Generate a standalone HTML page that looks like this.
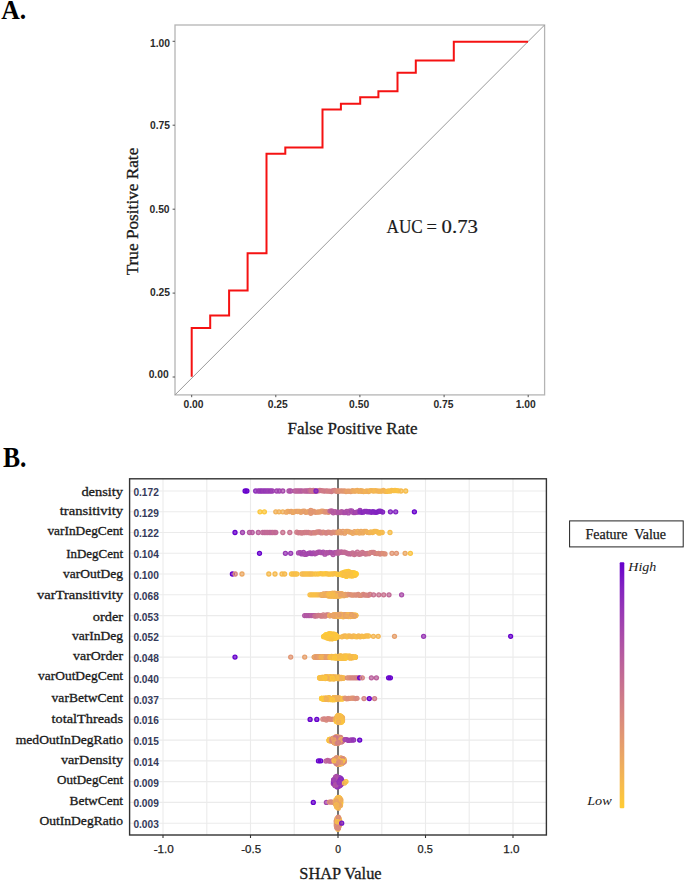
<!DOCTYPE html>
<html><head><meta charset="utf-8"><style>
html,body{margin:0;padding:0;background:#fff;}
body{width:685px;height:880px;overflow:hidden;}
svg{display:block;}
text{font-family:"Liberation Serif",serif;fill:#1a1a1a;}
.tk{font-family:"Liberation Sans",sans-serif;font-weight:bold;font-size:10.3px;fill:#2a2a2a;}
.tk2{font-family:"Liberation Sans",sans-serif;font-size:10.3px;fill:#1e1e1e;stroke:#1e1e1e;stroke-width:0.25px;}
.auc{font-size:18.5px;stroke:#1a1a1a;stroke-width:0.2px;}
.axt{font-size:16px;stroke:#1a1a1a;stroke-width:0.3px;}
.pl{font-size:28px;font-weight:bold;fill:#000;}
.fl{font-size:12.5px;stroke:#1a1a1a;stroke-width:0.3px;}
.vl{font-family:"Liberation Sans",sans-serif;font-weight:bold;font-size:10.2px;fill:#353a5a;}
.lgt{font-size:14px;stroke:#1a1a1a;stroke-width:0.25px;}
.lgi{font-size:13px;font-style:italic;}
</style></head><body>
<svg width="685" height="880" viewBox="0 0 685 880">
<rect x="175" y="25" width="369.6" height="369.9" fill="none" stroke="#b4b4b4" stroke-width="1.3"/>
<line x1="175" y1="394.9" x2="544.6" y2="25" stroke="#999" stroke-width="1"/>
<polyline points="191.7,376.8 191.7,328.1 210.2,328.1 210.2,315.5 229.1,315.5 229.1,290.6 247.6,290.6 247.6,253.3 266.5,253.3 266.5,153.7 285.3,153.7 285.3,147.6 322.5,147.6 322.5,109.5 340.9,109.5 340.9,103.8 360.2,103.8 360.2,97.2 378.4,97.2 378.4,91.3 397.5,91.3 397.5,72.7 415.8,72.7 415.8,60.4 453.8,60.4 453.8,41.7 528.0,41.7" fill="none" stroke="#f51212" stroke-width="2" stroke-linejoin="miter"/>
<line x1="172.6" y1="377.0" x2="175" y2="377.0" stroke="#555" stroke-width="1"/>
<line x1="191.7" y1="394.9" x2="191.7" y2="397.2" stroke="#555" stroke-width="1"/>
<text x="168.7" y="377.5" class="tk" text-anchor="end">0.00</text>
<text x="193.5" y="408.0" class="tk" text-anchor="middle">0.00</text>
<line x1="172.6" y1="293.1" x2="175" y2="293.1" stroke="#555" stroke-width="1"/>
<line x1="275.8" y1="394.9" x2="275.8" y2="397.2" stroke="#555" stroke-width="1"/>
<text x="170.0" y="296.4" class="tk" text-anchor="end">0.25</text>
<text x="277.8" y="408.0" class="tk" text-anchor="middle">0.25</text>
<line x1="172.6" y1="209.2" x2="175" y2="209.2" stroke="#555" stroke-width="1"/>
<line x1="359.9" y1="394.9" x2="359.9" y2="397.2" stroke="#555" stroke-width="1"/>
<text x="169.6" y="212.8" class="tk" text-anchor="end">0.50</text>
<text x="359.1" y="408.0" class="tk" text-anchor="middle">0.50</text>
<line x1="172.6" y1="125.2" x2="175" y2="125.2" stroke="#555" stroke-width="1"/>
<line x1="444.1" y1="394.9" x2="444.1" y2="397.2" stroke="#555" stroke-width="1"/>
<text x="170.0" y="128.9" class="tk" text-anchor="end">0.75</text>
<text x="443.4" y="408.0" class="tk" text-anchor="middle">0.75</text>
<line x1="172.6" y1="41.3" x2="175" y2="41.3" stroke="#555" stroke-width="1"/>
<line x1="528.2" y1="394.9" x2="528.2" y2="397.2" stroke="#555" stroke-width="1"/>
<text x="170.0" y="46.6" class="tk" text-anchor="end">1.00</text>
<text x="525.8" y="408.0" class="tk" text-anchor="middle">1.00</text>
<text x="386.5" y="233.4" class="auc" textLength="36.2" lengthAdjust="spacingAndGlyphs">AUC</text>
<text x="426.6" y="233.4" class="auc">=</text>
<text x="441.6" y="233.4" class="auc" textLength="36.4" lengthAdjust="spacingAndGlyphs">0.73</text>
<text x="287.6" y="434" class="axt" textLength="129.8" lengthAdjust="spacingAndGlyphs">False Positive Rate</text>
<text transform="translate(137.7,275.3) rotate(-90)" class="axt" textLength="127.6" lengthAdjust="spacingAndGlyphs">True Positive Rate</text>
<text x="1.3" y="19.3" class="pl" textLength="25" lengthAdjust="spacingAndGlyphs">A.</text>
<text x="2.9" y="466.8" class="pl" style="font-size:29.5px" textLength="23.5" lengthAdjust="spacingAndGlyphs">B.</text>
<line x1="163.0" y1="478.8" x2="163.0" y2="835.0" stroke="#ebebeb" stroke-width="1.1"/>
<line x1="206.8" y1="478.8" x2="206.8" y2="835.0" stroke="#ebebeb" stroke-width="1.1"/>
<line x1="250.5" y1="478.8" x2="250.5" y2="835.0" stroke="#ebebeb" stroke-width="1.1"/>
<line x1="294.2" y1="478.8" x2="294.2" y2="835.0" stroke="#ebebeb" stroke-width="1.1"/>
<line x1="338.0" y1="478.8" x2="338.0" y2="835.0" stroke="#ebebeb" stroke-width="1.1"/>
<line x1="381.8" y1="478.8" x2="381.8" y2="835.0" stroke="#ebebeb" stroke-width="1.1"/>
<line x1="425.5" y1="478.8" x2="425.5" y2="835.0" stroke="#ebebeb" stroke-width="1.1"/>
<line x1="469.2" y1="478.8" x2="469.2" y2="835.0" stroke="#ebebeb" stroke-width="1.1"/>
<line x1="513.0" y1="478.8" x2="513.0" y2="835.0" stroke="#ebebeb" stroke-width="1.1"/>
<line x1="129.6" y1="491.0" x2="546.4" y2="491.0" stroke="#ebebeb" stroke-width="1.1"/>
<line x1="129.6" y1="511.8" x2="546.4" y2="511.8" stroke="#ebebeb" stroke-width="1.1"/>
<line x1="129.6" y1="532.5" x2="546.4" y2="532.5" stroke="#ebebeb" stroke-width="1.1"/>
<line x1="129.6" y1="553.3" x2="546.4" y2="553.3" stroke="#ebebeb" stroke-width="1.1"/>
<line x1="129.6" y1="574.0" x2="546.4" y2="574.0" stroke="#ebebeb" stroke-width="1.1"/>
<line x1="129.6" y1="594.8" x2="546.4" y2="594.8" stroke="#ebebeb" stroke-width="1.1"/>
<line x1="129.6" y1="615.6" x2="546.4" y2="615.6" stroke="#ebebeb" stroke-width="1.1"/>
<line x1="129.6" y1="636.3" x2="546.4" y2="636.3" stroke="#ebebeb" stroke-width="1.1"/>
<line x1="129.6" y1="657.1" x2="546.4" y2="657.1" stroke="#ebebeb" stroke-width="1.1"/>
<line x1="129.6" y1="677.8" x2="546.4" y2="677.8" stroke="#ebebeb" stroke-width="1.1"/>
<line x1="129.6" y1="698.6" x2="546.4" y2="698.6" stroke="#ebebeb" stroke-width="1.1"/>
<line x1="129.6" y1="719.4" x2="546.4" y2="719.4" stroke="#ebebeb" stroke-width="1.1"/>
<line x1="129.6" y1="740.1" x2="546.4" y2="740.1" stroke="#ebebeb" stroke-width="1.1"/>
<line x1="129.6" y1="760.9" x2="546.4" y2="760.9" stroke="#ebebeb" stroke-width="1.1"/>
<line x1="129.6" y1="781.6" x2="546.4" y2="781.6" stroke="#ebebeb" stroke-width="1.1"/>
<line x1="129.6" y1="802.4" x2="546.4" y2="802.4" stroke="#ebebeb" stroke-width="1.1"/>
<line x1="129.6" y1="823.2" x2="546.4" y2="823.2" stroke="#ebebeb" stroke-width="1.1"/>
<line x1="338" y1="478.8" x2="338" y2="835.0" stroke="#3a3a3a" stroke-width="1.4"/>
<ellipse cx="348.5" cy="574.0" rx="9.3" ry="3.7" fill="#fcc73d"/>
<ellipse cx="334.0" cy="594.8" rx="14.8" ry="2.6" fill="#eeab5f"/>
<ellipse cx="343.5" cy="615.6" rx="15.3" ry="2.3" fill="#efad5d"/>
<ellipse cx="330.6" cy="636.3" rx="9.2" ry="3.9" fill="#fcc73d"/>
<ellipse cx="323.8" cy="657.1" rx="11.1" ry="1.4" fill="#e9a466"/>
<ellipse cx="342.5" cy="657.1" rx="15.3" ry="2.4" fill="#f7bd4a"/>
<ellipse cx="331.9" cy="677.8" rx="14.9" ry="2.1" fill="#f6ba4e"/>
<ellipse cx="331.9" cy="698.6" rx="13.0" ry="2.1" fill="#f6ba4e"/>
<ellipse cx="339.1" cy="719.4" rx="5.3" ry="5.4" fill="#f4b653"/>
<ellipse cx="337.4" cy="740.1" rx="7.1" ry="4.9" fill="#de9276"/>
<ellipse cx="339.1" cy="760.9" rx="7.1" ry="4.9" fill="#e69f6b"/>
<ellipse cx="337.5" cy="781.6" rx="6.3" ry="6.7" fill="#9b3db2"/>
<ellipse cx="338.3" cy="802.4" rx="4.5" ry="6.9" fill="#f4b653"/>
<ellipse cx="338.0" cy="823.2" rx="3.4" ry="7.4" fill="#e69f6b"/>
<circle cx="245.1" cy="491.0" r="2.0" fill="#6600cc" fill-opacity="0.7" stroke="#6600cc" stroke-width="1.3"/>
<circle cx="246.9" cy="491.0" r="2.0" fill="#6600cc" fill-opacity="0.7" stroke="#6600cc" stroke-width="1.3"/>
<circle cx="255.7" cy="491.0" r="2.0" fill="#8d2fbb" fill-opacity="0.7" stroke="#8d2fbb" stroke-width="1.3"/>
<circle cx="258.3" cy="491.0" r="2.0" fill="#9638b6" fill-opacity="0.7" stroke="#9638b6" stroke-width="1.3"/>
<circle cx="260.1" cy="491.0" r="2.0" fill="#983ab4" fill-opacity="0.7" stroke="#983ab4" stroke-width="1.3"/>
<circle cx="261.8" cy="491.0" r="2.0" fill="#9334b7" fill-opacity="0.7" stroke="#9334b7" stroke-width="1.3"/>
<circle cx="263.6" cy="491.0" r="2.0" fill="#9a3cb3" fill-opacity="0.7" stroke="#9a3cb3" stroke-width="1.3"/>
<circle cx="265.3" cy="491.0" r="2.0" fill="#9537b6" fill-opacity="0.7" stroke="#9537b6" stroke-width="1.3"/>
<circle cx="267.1" cy="491.0" r="2.0" fill="#983ab5" fill-opacity="0.7" stroke="#983ab5" stroke-width="1.3"/>
<circle cx="268.8" cy="491.0" r="2.0" fill="#9c3eb2" fill-opacity="0.7" stroke="#9c3eb2" stroke-width="1.3"/>
<circle cx="270.6" cy="491.0" r="2.0" fill="#9739b5" fill-opacity="0.7" stroke="#9739b5" stroke-width="1.3"/>
<circle cx="272.3" cy="491.0" r="2.0" fill="#9d3fb1" fill-opacity="0.7" stroke="#9d3fb1" stroke-width="1.3"/>
<circle cx="276.7" cy="491.0" r="2.0" fill="#a143af" fill-opacity="0.7" stroke="#a143af" stroke-width="1.3"/>
<circle cx="279.3" cy="491.0" r="2.0" fill="#a143af" fill-opacity="0.7" stroke="#a143af" stroke-width="1.3"/>
<circle cx="282.8" cy="491.0" r="2.0" fill="#a649ab" fill-opacity="0.7" stroke="#a649ab" stroke-width="1.3"/>
<circle cx="289.0" cy="491.0" r="2.0" fill="#ad51a6" fill-opacity="0.7" stroke="#ad51a6" stroke-width="1.3"/>
<circle cx="290.7" cy="491.0" r="2.0" fill="#ad51a6" fill-opacity="0.7" stroke="#ad51a6" stroke-width="1.3"/>
<circle cx="295.0" cy="491.0" r="2.0" fill="#b75d9e" fill-opacity="0.7" stroke="#b75d9e" stroke-width="1.3"/>
<circle cx="296.8" cy="491.0" r="2.0" fill="#bb629b" fill-opacity="0.7" stroke="#bb629b" stroke-width="1.3"/>
<circle cx="298.5" cy="491.0" r="2.0" fill="#bc629a" fill-opacity="0.7" stroke="#bc629a" stroke-width="1.3"/>
<circle cx="300.2" cy="491.0" r="2.0" fill="#ba609c" fill-opacity="0.7" stroke="#ba609c" stroke-width="1.3"/>
<circle cx="302.0" cy="491.0" r="2.0" fill="#b75c9f" fill-opacity="0.7" stroke="#b75c9f" stroke-width="1.3"/>
<circle cx="304.7" cy="491.0" r="2.0" fill="#bd6499" fill-opacity="0.7" stroke="#bd6499" stroke-width="1.3"/>
<circle cx="306.3" cy="491.0" r="2.0" fill="#bd639a" fill-opacity="0.7" stroke="#bd639a" stroke-width="1.3"/>
<circle cx="307.9" cy="491.0" r="2.0" fill="#ba5f9c" fill-opacity="0.7" stroke="#ba5f9c" stroke-width="1.3"/>
<circle cx="309.5" cy="491.0" r="2.0" fill="#b75d9e" fill-opacity="0.7" stroke="#b75d9e" stroke-width="1.3"/>
<circle cx="311.1" cy="491.0" r="2.0" fill="#bb619b" fill-opacity="0.7" stroke="#bb619b" stroke-width="1.3"/>
<circle cx="312.7" cy="491.0" r="2.0" fill="#bd6499" fill-opacity="0.7" stroke="#bd6499" stroke-width="1.3"/>
<circle cx="314.3" cy="491.0" r="2.0" fill="#b85e9d" fill-opacity="0.7" stroke="#b85e9d" stroke-width="1.3"/>
<circle cx="310.0" cy="490.5" r="2.0" fill="#c56e92" fill-opacity="0.7" stroke="#c56e92" stroke-width="1.3"/>
<circle cx="311.6" cy="490.7" r="2.0" fill="#cc778c" fill-opacity="0.7" stroke="#cc778c" stroke-width="1.3"/>
<circle cx="313.3" cy="490.5" r="2.0" fill="#cb768c" fill-opacity="0.7" stroke="#cb768c" stroke-width="1.3"/>
<circle cx="314.9" cy="491.4" r="2.0" fill="#cd788a" fill-opacity="0.7" stroke="#cd788a" stroke-width="1.3"/>
<circle cx="316.6" cy="491.1" r="2.0" fill="#ca758d" fill-opacity="0.7" stroke="#ca758d" stroke-width="1.3"/>
<circle cx="318.2" cy="490.8" r="2.0" fill="#cb778c" fill-opacity="0.7" stroke="#cb778c" stroke-width="1.3"/>
<circle cx="319.9" cy="490.5" r="2.0" fill="#d07d87" fill-opacity="0.7" stroke="#d07d87" stroke-width="1.3"/>
<circle cx="321.5" cy="490.6" r="2.0" fill="#cc778b" fill-opacity="0.7" stroke="#cc778b" stroke-width="1.3"/>
<circle cx="323.2" cy="490.9" r="2.0" fill="#d07c88" fill-opacity="0.7" stroke="#d07c88" stroke-width="1.3"/>
<circle cx="324.8" cy="491.1" r="2.0" fill="#cf7c88" fill-opacity="0.7" stroke="#cf7c88" stroke-width="1.3"/>
<circle cx="326.5" cy="490.8" r="2.0" fill="#cd798a" fill-opacity="0.7" stroke="#cd798a" stroke-width="1.3"/>
<circle cx="328.1" cy="491.2" r="2.0" fill="#d28084" fill-opacity="0.7" stroke="#d28084" stroke-width="1.3"/>
<circle cx="329.8" cy="491.1" r="2.0" fill="#d17e86" fill-opacity="0.7" stroke="#d17e86" stroke-width="1.3"/>
<circle cx="331.4" cy="491.5" r="2.0" fill="#d07d87" fill-opacity="0.7" stroke="#d07d87" stroke-width="1.3"/>
<circle cx="333.1" cy="490.7" r="2.0" fill="#cf7b88" fill-opacity="0.7" stroke="#cf7b88" stroke-width="1.3"/>
<circle cx="334.7" cy="490.5" r="2.0" fill="#d48383" fill-opacity="0.7" stroke="#d48383" stroke-width="1.3"/>
<circle cx="336.4" cy="491.3" r="2.0" fill="#d78780" fill-opacity="0.7" stroke="#d78780" stroke-width="1.3"/>
<circle cx="338.0" cy="491.0" r="2.0" fill="#d8897e" fill-opacity="0.7" stroke="#d8897e" stroke-width="1.3"/>
<circle cx="316.0" cy="491.0" r="2.0" fill="#8223c0" fill-opacity="0.7" stroke="#8223c0" stroke-width="1.3"/>
<circle cx="338.0" cy="491.2" r="2.0" fill="#dc8f78" fill-opacity="0.7" stroke="#dc8f78" stroke-width="1.3"/>
<circle cx="339.6" cy="491.1" r="2.0" fill="#dd9078" fill-opacity="0.7" stroke="#dd9078" stroke-width="1.3"/>
<circle cx="341.2" cy="490.8" r="2.0" fill="#df9475" fill-opacity="0.7" stroke="#df9475" stroke-width="1.3"/>
<circle cx="342.8" cy="491.1" r="2.0" fill="#e19772" fill-opacity="0.7" stroke="#e19772" stroke-width="1.3"/>
<circle cx="344.4" cy="490.9" r="2.0" fill="#e19673" fill-opacity="0.7" stroke="#e19673" stroke-width="1.3"/>
<circle cx="346.0" cy="491.5" r="2.0" fill="#e49c6d" fill-opacity="0.7" stroke="#e49c6d" stroke-width="1.3"/>
<circle cx="347.6" cy="491.2" r="2.0" fill="#e8a267" fill-opacity="0.7" stroke="#e8a267" stroke-width="1.3"/>
<circle cx="349.2" cy="491.2" r="2.0" fill="#e69e6c" fill-opacity="0.7" stroke="#e69e6c" stroke-width="1.3"/>
<circle cx="350.8" cy="491.6" r="2.0" fill="#e69e6c" fill-opacity="0.7" stroke="#e69e6c" stroke-width="1.3"/>
<circle cx="352.4" cy="490.7" r="2.0" fill="#eaa565" fill-opacity="0.7" stroke="#eaa565" stroke-width="1.3"/>
<circle cx="354.0" cy="491.2" r="2.0" fill="#edab60" fill-opacity="0.7" stroke="#edab60" stroke-width="1.3"/>
<circle cx="355.6" cy="491.0" r="2.0" fill="#edab5f" fill-opacity="0.7" stroke="#edab5f" stroke-width="1.3"/>
<circle cx="357.2" cy="490.5" r="2.0" fill="#efae5c" fill-opacity="0.7" stroke="#efae5c" stroke-width="1.3"/>
<circle cx="358.8" cy="491.3" r="2.0" fill="#f0af5b" fill-opacity="0.7" stroke="#f0af5b" stroke-width="1.3"/>
<circle cx="360.4" cy="490.7" r="2.0" fill="#efae5c" fill-opacity="0.7" stroke="#efae5c" stroke-width="1.3"/>
<circle cx="362.0" cy="491.4" r="2.0" fill="#f2b456" fill-opacity="0.7" stroke="#f2b456" stroke-width="1.3"/>
<circle cx="362.0" cy="490.9" r="2.0" fill="#efae5b" fill-opacity="0.7" stroke="#efae5b" stroke-width="1.3"/>
<circle cx="363.6" cy="491.5" r="2.0" fill="#eeac5e" fill-opacity="0.7" stroke="#eeac5e" stroke-width="1.3"/>
<circle cx="365.3" cy="491.4" r="2.0" fill="#f2b357" fill-opacity="0.7" stroke="#f2b357" stroke-width="1.3"/>
<circle cx="366.9" cy="490.9" r="2.0" fill="#f2b357" fill-opacity="0.7" stroke="#f2b357" stroke-width="1.3"/>
<circle cx="368.6" cy="491.5" r="2.0" fill="#eead5d" fill-opacity="0.7" stroke="#eead5d" stroke-width="1.3"/>
<circle cx="370.2" cy="490.6" r="2.0" fill="#f3b653" fill-opacity="0.7" stroke="#f3b653" stroke-width="1.3"/>
<circle cx="371.9" cy="490.7" r="2.0" fill="#f3b653" fill-opacity="0.7" stroke="#f3b653" stroke-width="1.3"/>
<circle cx="373.6" cy="491.0" r="2.0" fill="#f2b357" fill-opacity="0.7" stroke="#f2b357" stroke-width="1.3"/>
<circle cx="375.2" cy="490.7" r="2.0" fill="#f5ba4f" fill-opacity="0.7" stroke="#f5ba4f" stroke-width="1.3"/>
<circle cx="376.9" cy="490.9" r="2.0" fill="#f4b653" fill-opacity="0.7" stroke="#f4b653" stroke-width="1.3"/>
<circle cx="378.5" cy="491.1" r="2.0" fill="#f1b159" fill-opacity="0.7" stroke="#f1b159" stroke-width="1.3"/>
<circle cx="380.1" cy="491.2" r="2.0" fill="#f3b653" fill-opacity="0.7" stroke="#f3b653" stroke-width="1.3"/>
<circle cx="381.8" cy="491.1" r="2.0" fill="#f3b554" fill-opacity="0.7" stroke="#f3b554" stroke-width="1.3"/>
<circle cx="383.4" cy="490.5" r="2.0" fill="#f2b356" fill-opacity="0.7" stroke="#f2b356" stroke-width="1.3"/>
<circle cx="385.1" cy="491.3" r="2.0" fill="#f2b455" fill-opacity="0.7" stroke="#f2b455" stroke-width="1.3"/>
<circle cx="386.8" cy="491.4" r="2.0" fill="#f6ba4e" fill-opacity="0.7" stroke="#f6ba4e" stroke-width="1.3"/>
<circle cx="388.4" cy="490.9" r="2.0" fill="#f8be49" fill-opacity="0.7" stroke="#f8be49" stroke-width="1.3"/>
<circle cx="390.1" cy="491.2" r="2.0" fill="#f8bf48" fill-opacity="0.7" stroke="#f8bf48" stroke-width="1.3"/>
<circle cx="391.7" cy="490.5" r="2.0" fill="#f8be49" fill-opacity="0.7" stroke="#f8be49" stroke-width="1.3"/>
<circle cx="393.4" cy="490.6" r="2.0" fill="#f7bd4a" fill-opacity="0.7" stroke="#f7bd4a" stroke-width="1.3"/>
<circle cx="395.0" cy="490.5" r="2.0" fill="#fac244" fill-opacity="0.7" stroke="#fac244" stroke-width="1.3"/>
<circle cx="396.7" cy="490.6" r="2.0" fill="#f9c145" fill-opacity="0.7" stroke="#f9c145" stroke-width="1.3"/>
<circle cx="398.3" cy="490.8" r="2.0" fill="#fac343" fill-opacity="0.7" stroke="#fac343" stroke-width="1.3"/>
<circle cx="401.0" cy="491.0" r="2.0" fill="#f6ba4e" fill-opacity="0.7" stroke="#f6ba4e" stroke-width="1.3"/>
<circle cx="405.7" cy="491.0" r="2.0" fill="#f7bd4a" fill-opacity="0.7" stroke="#f7bd4a" stroke-width="1.3"/>
<circle cx="260.0" cy="511.8" r="2.0" fill="#fcc73d" fill-opacity="0.7" stroke="#fcc73d" stroke-width="1.3"/>
<circle cx="264.4" cy="511.8" r="2.0" fill="#fcc73d" fill-opacity="0.7" stroke="#fcc73d" stroke-width="1.3"/>
<circle cx="275.8" cy="511.8" r="2.0" fill="#f1b159" fill-opacity="0.7" stroke="#f1b159" stroke-width="1.3"/>
<circle cx="279.0" cy="511.8" r="2.0" fill="#f1b159" fill-opacity="0.7" stroke="#f1b159" stroke-width="1.3"/>
<circle cx="282.8" cy="511.8" r="2.0" fill="#f1b159" fill-opacity="0.7" stroke="#f1b159" stroke-width="1.3"/>
<circle cx="286.3" cy="512.2" r="2.0" fill="#eba764" fill-opacity="0.7" stroke="#eba764" stroke-width="1.3"/>
<circle cx="287.9" cy="511.3" r="2.0" fill="#edaa60" fill-opacity="0.7" stroke="#edaa60" stroke-width="1.3"/>
<circle cx="289.5" cy="511.6" r="2.0" fill="#eca862" fill-opacity="0.7" stroke="#eca862" stroke-width="1.3"/>
<circle cx="291.2" cy="511.3" r="2.0" fill="#e8a268" fill-opacity="0.7" stroke="#e8a268" stroke-width="1.3"/>
<circle cx="292.8" cy="512.4" r="2.0" fill="#eaa565" fill-opacity="0.7" stroke="#eaa565" stroke-width="1.3"/>
<circle cx="294.4" cy="511.7" r="2.0" fill="#eca961" fill-opacity="0.7" stroke="#eca961" stroke-width="1.3"/>
<circle cx="296.0" cy="511.3" r="2.0" fill="#eaa565" fill-opacity="0.7" stroke="#eaa565" stroke-width="1.3"/>
<circle cx="297.6" cy="511.5" r="2.0" fill="#e7a06a" fill-opacity="0.7" stroke="#e7a06a" stroke-width="1.3"/>
<circle cx="299.2" cy="511.4" r="2.0" fill="#eba862" fill-opacity="0.7" stroke="#eba862" stroke-width="1.3"/>
<circle cx="300.9" cy="512.3" r="2.0" fill="#e8a168" fill-opacity="0.7" stroke="#e8a168" stroke-width="1.3"/>
<circle cx="302.5" cy="511.3" r="2.0" fill="#e7a169" fill-opacity="0.7" stroke="#e7a169" stroke-width="1.3"/>
<circle cx="304.1" cy="511.2" r="2.0" fill="#e7a06a" fill-opacity="0.7" stroke="#e7a06a" stroke-width="1.3"/>
<circle cx="305.7" cy="512.3" r="2.0" fill="#e49c6e" fill-opacity="0.7" stroke="#e49c6e" stroke-width="1.3"/>
<circle cx="307.3" cy="512.0" r="2.0" fill="#e8a268" fill-opacity="0.7" stroke="#e8a268" stroke-width="1.3"/>
<circle cx="309.0" cy="511.6" r="2.0" fill="#e8a268" fill-opacity="0.7" stroke="#e8a268" stroke-width="1.3"/>
<circle cx="310.6" cy="512.1" r="2.0" fill="#e59d6c" fill-opacity="0.7" stroke="#e59d6c" stroke-width="1.3"/>
<circle cx="312.2" cy="512.1" r="2.0" fill="#e69f6b" fill-opacity="0.7" stroke="#e69f6b" stroke-width="1.3"/>
<circle cx="313.8" cy="511.4" r="2.0" fill="#e39970" fill-opacity="0.7" stroke="#e39970" stroke-width="1.3"/>
<circle cx="315.4" cy="512.3" r="2.0" fill="#e29871" fill-opacity="0.7" stroke="#e29871" stroke-width="1.3"/>
<circle cx="317.1" cy="512.1" r="2.0" fill="#e29871" fill-opacity="0.7" stroke="#e29871" stroke-width="1.3"/>
<circle cx="318.7" cy="512.0" r="2.0" fill="#e59d6c" fill-opacity="0.7" stroke="#e59d6c" stroke-width="1.3"/>
<circle cx="320.3" cy="511.8" r="2.0" fill="#e49b6e" fill-opacity="0.7" stroke="#e49b6e" stroke-width="1.3"/>
<circle cx="321.9" cy="511.2" r="2.0" fill="#e69e6b" fill-opacity="0.7" stroke="#e69e6b" stroke-width="1.3"/>
<circle cx="323.5" cy="511.5" r="2.0" fill="#e49b6e" fill-opacity="0.7" stroke="#e49b6e" stroke-width="1.3"/>
<circle cx="325.1" cy="512.0" r="2.0" fill="#df9375" fill-opacity="0.7" stroke="#df9375" stroke-width="1.3"/>
<circle cx="326.8" cy="511.7" r="2.0" fill="#de9276" fill-opacity="0.7" stroke="#de9276" stroke-width="1.3"/>
<circle cx="328.4" cy="512.3" r="2.0" fill="#de9277" fill-opacity="0.7" stroke="#de9277" stroke-width="1.3"/>
<circle cx="330.0" cy="511.6" r="2.0" fill="#e29970" fill-opacity="0.7" stroke="#e29970" stroke-width="1.3"/>
<circle cx="310.8" cy="510.3" r="2.0" fill="#e19673" fill-opacity="0.7" stroke="#e19673" stroke-width="1.3"/>
<circle cx="310.8" cy="513.3" r="2.0" fill="#e19673" fill-opacity="0.7" stroke="#e19673" stroke-width="1.3"/>
<circle cx="330.0" cy="511.1" r="2.0" fill="#bc639a" fill-opacity="0.7" stroke="#bc639a" stroke-width="1.3"/>
<circle cx="331.7" cy="511.0" r="2.0" fill="#b75d9e" fill-opacity="0.7" stroke="#b75d9e" stroke-width="1.3"/>
<circle cx="333.3" cy="512.8" r="2.0" fill="#b459a1" fill-opacity="0.7" stroke="#b459a1" stroke-width="1.3"/>
<circle cx="335.0" cy="511.7" r="2.0" fill="#b459a1" fill-opacity="0.7" stroke="#b459a1" stroke-width="1.3"/>
<circle cx="336.7" cy="512.5" r="2.0" fill="#b85e9d" fill-opacity="0.7" stroke="#b85e9d" stroke-width="1.3"/>
<circle cx="338.3" cy="512.2" r="2.0" fill="#af53a4" fill-opacity="0.7" stroke="#af53a4" stroke-width="1.3"/>
<circle cx="340.0" cy="512.5" r="2.0" fill="#b054a4" fill-opacity="0.7" stroke="#b054a4" stroke-width="1.3"/>
<circle cx="341.7" cy="511.7" r="2.0" fill="#b458a1" fill-opacity="0.7" stroke="#b458a1" stroke-width="1.3"/>
<circle cx="343.3" cy="512.5" r="2.0" fill="#b155a3" fill-opacity="0.7" stroke="#b155a3" stroke-width="1.3"/>
<circle cx="345.0" cy="512.5" r="2.0" fill="#a94ca9" fill-opacity="0.7" stroke="#a94ca9" stroke-width="1.3"/>
<circle cx="346.7" cy="511.5" r="2.0" fill="#ae51a6" fill-opacity="0.7" stroke="#ae51a6" stroke-width="1.3"/>
<circle cx="348.3" cy="512.9" r="2.0" fill="#a94ca9" fill-opacity="0.7" stroke="#a94ca9" stroke-width="1.3"/>
<circle cx="350.0" cy="510.9" r="2.0" fill="#ae51a6" fill-opacity="0.7" stroke="#ae51a6" stroke-width="1.3"/>
<circle cx="351.7" cy="510.9" r="2.0" fill="#a447ad" fill-opacity="0.7" stroke="#a447ad" stroke-width="1.3"/>
<circle cx="353.3" cy="512.5" r="2.0" fill="#ab4ea8" fill-opacity="0.7" stroke="#ab4ea8" stroke-width="1.3"/>
<circle cx="355.0" cy="512.6" r="2.0" fill="#a043af" fill-opacity="0.7" stroke="#a043af" stroke-width="1.3"/>
<circle cx="356.7" cy="512.2" r="2.0" fill="#a648ac" fill-opacity="0.7" stroke="#a648ac" stroke-width="1.3"/>
<circle cx="358.3" cy="511.9" r="2.0" fill="#a649ab" fill-opacity="0.7" stroke="#a649ab" stroke-width="1.3"/>
<circle cx="360.0" cy="510.5" r="2.0" fill="#9c3eb2" fill-opacity="0.7" stroke="#9c3eb2" stroke-width="1.3"/>
<circle cx="360.0" cy="511.9" r="2.0" fill="#8d2fbb" fill-opacity="0.7" stroke="#8d2fbb" stroke-width="1.3"/>
<circle cx="361.6" cy="512.3" r="2.0" fill="#8d2fbb" fill-opacity="0.7" stroke="#8d2fbb" stroke-width="1.3"/>
<circle cx="363.2" cy="512.2" r="2.0" fill="#8728be" fill-opacity="0.7" stroke="#8728be" stroke-width="1.3"/>
<circle cx="364.8" cy="511.4" r="2.0" fill="#8d2fbb" fill-opacity="0.7" stroke="#8d2fbb" stroke-width="1.3"/>
<circle cx="366.5" cy="511.5" r="2.0" fill="#8c2ebb" fill-opacity="0.7" stroke="#8c2ebb" stroke-width="1.3"/>
<circle cx="368.1" cy="511.9" r="2.0" fill="#8b2dbc" fill-opacity="0.7" stroke="#8b2dbc" stroke-width="1.3"/>
<circle cx="369.7" cy="511.7" r="2.0" fill="#8c2dbb" fill-opacity="0.7" stroke="#8c2dbb" stroke-width="1.3"/>
<circle cx="371.3" cy="512.3" r="2.0" fill="#8729be" fill-opacity="0.7" stroke="#8729be" stroke-width="1.3"/>
<circle cx="372.9" cy="511.7" r="2.0" fill="#8325c0" fill-opacity="0.7" stroke="#8325c0" stroke-width="1.3"/>
<circle cx="374.5" cy="512.2" r="2.0" fill="#8426bf" fill-opacity="0.7" stroke="#8426bf" stroke-width="1.3"/>
<circle cx="376.1" cy="512.3" r="2.0" fill="#8223c0" fill-opacity="0.7" stroke="#8223c0" stroke-width="1.3"/>
<circle cx="377.8" cy="511.8" r="2.0" fill="#8022c1" fill-opacity="0.7" stroke="#8022c1" stroke-width="1.3"/>
<circle cx="379.4" cy="511.2" r="2.0" fill="#8022c1" fill-opacity="0.7" stroke="#8022c1" stroke-width="1.3"/>
<circle cx="381.0" cy="511.4" r="2.0" fill="#8527bf" fill-opacity="0.7" stroke="#8527bf" stroke-width="1.3"/>
<circle cx="382.6" cy="512.1" r="2.0" fill="#8223c0" fill-opacity="0.7" stroke="#8223c0" stroke-width="1.3"/>
<circle cx="390.4" cy="511.8" r="2.0" fill="#8223c0" fill-opacity="0.7" stroke="#8223c0" stroke-width="1.3"/>
<circle cx="395.7" cy="511.8" r="2.0" fill="#8223c0" fill-opacity="0.7" stroke="#8223c0" stroke-width="1.3"/>
<circle cx="414.4" cy="511.8" r="2.0" fill="#6600cc" fill-opacity="0.7" stroke="#6600cc" stroke-width="1.3"/>
<circle cx="235.0" cy="532.5" r="2.0" fill="#6600cc" fill-opacity="0.7" stroke="#6600cc" stroke-width="1.3"/>
<circle cx="242.5" cy="532.5" r="2.0" fill="#a143af" fill-opacity="0.7" stroke="#a143af" stroke-width="1.3"/>
<circle cx="249.5" cy="532.5" r="2.0" fill="#b75c9f" fill-opacity="0.7" stroke="#b75c9f" stroke-width="1.3"/>
<circle cx="252.2" cy="532.5" r="2.0" fill="#b75c9f" fill-opacity="0.7" stroke="#b75c9f" stroke-width="1.3"/>
<circle cx="258.3" cy="532.5" r="2.0" fill="#ba609c" fill-opacity="0.7" stroke="#ba609c" stroke-width="1.3"/>
<circle cx="262.7" cy="532.5" r="2.0" fill="#c16996" fill-opacity="0.7" stroke="#c16996" stroke-width="1.3"/>
<circle cx="264.3" cy="532.5" r="2.0" fill="#bf6698" fill-opacity="0.7" stroke="#bf6698" stroke-width="1.3"/>
<circle cx="266.0" cy="532.5" r="2.0" fill="#c06896" fill-opacity="0.7" stroke="#c06896" stroke-width="1.3"/>
<circle cx="267.6" cy="532.5" r="2.0" fill="#c26b95" fill-opacity="0.7" stroke="#c26b95" stroke-width="1.3"/>
<circle cx="269.2" cy="532.5" r="2.0" fill="#c16996" fill-opacity="0.7" stroke="#c16996" stroke-width="1.3"/>
<circle cx="270.9" cy="532.5" r="2.0" fill="#c06896" fill-opacity="0.7" stroke="#c06896" stroke-width="1.3"/>
<circle cx="272.5" cy="532.5" r="2.0" fill="#bf6698" fill-opacity="0.7" stroke="#bf6698" stroke-width="1.3"/>
<circle cx="274.2" cy="532.5" r="2.0" fill="#c46d93" fill-opacity="0.7" stroke="#c46d93" stroke-width="1.3"/>
<circle cx="275.8" cy="532.5" r="2.0" fill="#c06896" fill-opacity="0.7" stroke="#c06896" stroke-width="1.3"/>
<circle cx="282.8" cy="532.5" r="2.0" fill="#c8728f" fill-opacity="0.7" stroke="#c8728f" stroke-width="1.3"/>
<circle cx="289.8" cy="532.5" r="2.0" fill="#c8728f" fill-opacity="0.7" stroke="#c8728f" stroke-width="1.3"/>
<circle cx="296.8" cy="532.2" r="2.0" fill="#d07d87" fill-opacity="0.7" stroke="#d07d87" stroke-width="1.3"/>
<circle cx="298.4" cy="532.8" r="2.0" fill="#cf7b88" fill-opacity="0.7" stroke="#cf7b88" stroke-width="1.3"/>
<circle cx="300.1" cy="532.6" r="2.0" fill="#cd798a" fill-opacity="0.7" stroke="#cd798a" stroke-width="1.3"/>
<circle cx="301.7" cy="533.0" r="2.0" fill="#d07e87" fill-opacity="0.7" stroke="#d07e87" stroke-width="1.3"/>
<circle cx="303.4" cy="532.7" r="2.0" fill="#d07e86" fill-opacity="0.7" stroke="#d07e86" stroke-width="1.3"/>
<circle cx="305.0" cy="532.5" r="2.0" fill="#d07c87" fill-opacity="0.7" stroke="#d07c87" stroke-width="1.3"/>
<circle cx="306.7" cy="532.5" r="2.0" fill="#d17f86" fill-opacity="0.7" stroke="#d17f86" stroke-width="1.3"/>
<circle cx="308.3" cy="532.5" r="2.0" fill="#cf7b88" fill-opacity="0.7" stroke="#cf7b88" stroke-width="1.3"/>
<circle cx="310.0" cy="532.8" r="2.0" fill="#d07d87" fill-opacity="0.7" stroke="#d07d87" stroke-width="1.3"/>
<circle cx="311.6" cy="533.1" r="2.0" fill="#d58482" fill-opacity="0.7" stroke="#d58482" stroke-width="1.3"/>
<circle cx="313.3" cy="532.6" r="2.0" fill="#d07d87" fill-opacity="0.7" stroke="#d07d87" stroke-width="1.3"/>
<circle cx="314.9" cy="532.9" r="2.0" fill="#d7877f" fill-opacity="0.7" stroke="#d7877f" stroke-width="1.3"/>
<circle cx="316.6" cy="532.1" r="2.0" fill="#d58481" fill-opacity="0.7" stroke="#d58481" stroke-width="1.3"/>
<circle cx="318.2" cy="532.0" r="2.0" fill="#d7877f" fill-opacity="0.7" stroke="#d7877f" stroke-width="1.3"/>
<circle cx="319.9" cy="532.0" r="2.0" fill="#d48382" fill-opacity="0.7" stroke="#d48382" stroke-width="1.3"/>
<circle cx="321.5" cy="532.9" r="2.0" fill="#d38184" fill-opacity="0.7" stroke="#d38184" stroke-width="1.3"/>
<circle cx="323.2" cy="532.1" r="2.0" fill="#d58482" fill-opacity="0.7" stroke="#d58482" stroke-width="1.3"/>
<circle cx="324.8" cy="532.7" r="2.0" fill="#da8b7c" fill-opacity="0.7" stroke="#da8b7c" stroke-width="1.3"/>
<circle cx="326.5" cy="533.0" r="2.0" fill="#d48383" fill-opacity="0.7" stroke="#d48383" stroke-width="1.3"/>
<circle cx="328.1" cy="532.2" r="2.0" fill="#d58482" fill-opacity="0.7" stroke="#d58482" stroke-width="1.3"/>
<circle cx="329.8" cy="532.4" r="2.0" fill="#d8897d" fill-opacity="0.7" stroke="#d8897d" stroke-width="1.3"/>
<circle cx="331.4" cy="533.1" r="2.0" fill="#d68680" fill-opacity="0.7" stroke="#d68680" stroke-width="1.3"/>
<circle cx="333.1" cy="532.1" r="2.0" fill="#da8b7c" fill-opacity="0.7" stroke="#da8b7c" stroke-width="1.3"/>
<circle cx="334.7" cy="532.5" r="2.0" fill="#db8d7a" fill-opacity="0.7" stroke="#db8d7a" stroke-width="1.3"/>
<circle cx="336.4" cy="532.2" r="2.0" fill="#dc8e79" fill-opacity="0.7" stroke="#dc8e79" stroke-width="1.3"/>
<circle cx="338.0" cy="532.8" r="2.0" fill="#de9276" fill-opacity="0.7" stroke="#de9276" stroke-width="1.3"/>
<circle cx="338.0" cy="532.7" r="2.0" fill="#e69f6a" fill-opacity="0.7" stroke="#e69f6a" stroke-width="1.3"/>
<circle cx="339.6" cy="531.3" r="2.0" fill="#e8a268" fill-opacity="0.7" stroke="#e8a268" stroke-width="1.3"/>
<circle cx="341.3" cy="532.8" r="2.0" fill="#e7a169" fill-opacity="0.7" stroke="#e7a169" stroke-width="1.3"/>
<circle cx="342.9" cy="531.4" r="2.0" fill="#e59d6d" fill-opacity="0.7" stroke="#e59d6d" stroke-width="1.3"/>
<circle cx="344.6" cy="533.2" r="2.0" fill="#e69e6c" fill-opacity="0.7" stroke="#e69e6c" stroke-width="1.3"/>
<circle cx="346.2" cy="531.5" r="2.0" fill="#eba764" fill-opacity="0.7" stroke="#eba764" stroke-width="1.3"/>
<circle cx="347.9" cy="531.4" r="2.0" fill="#e8a268" fill-opacity="0.7" stroke="#e8a268" stroke-width="1.3"/>
<circle cx="349.5" cy="531.9" r="2.0" fill="#edaa60" fill-opacity="0.7" stroke="#edaa60" stroke-width="1.3"/>
<circle cx="351.2" cy="532.3" r="2.0" fill="#e8a367" fill-opacity="0.7" stroke="#e8a367" stroke-width="1.3"/>
<circle cx="352.8" cy="533.3" r="2.0" fill="#edab5f" fill-opacity="0.7" stroke="#edab5f" stroke-width="1.3"/>
<circle cx="354.5" cy="531.6" r="2.0" fill="#eaa565" fill-opacity="0.7" stroke="#eaa565" stroke-width="1.3"/>
<circle cx="356.1" cy="532.7" r="2.0" fill="#eca862" fill-opacity="0.7" stroke="#eca862" stroke-width="1.3"/>
<circle cx="357.8" cy="531.5" r="2.0" fill="#f0b05a" fill-opacity="0.7" stroke="#f0b05a" stroke-width="1.3"/>
<circle cx="359.4" cy="533.0" r="2.0" fill="#eead5d" fill-opacity="0.7" stroke="#eead5d" stroke-width="1.3"/>
<circle cx="361.0" cy="531.5" r="2.0" fill="#eca961" fill-opacity="0.7" stroke="#eca961" stroke-width="1.3"/>
<circle cx="362.7" cy="532.9" r="2.0" fill="#edab5f" fill-opacity="0.7" stroke="#edab5f" stroke-width="1.3"/>
<circle cx="364.3" cy="531.5" r="2.0" fill="#eeac5e" fill-opacity="0.7" stroke="#eeac5e" stroke-width="1.3"/>
<circle cx="366.0" cy="531.4" r="2.0" fill="#eead5d" fill-opacity="0.7" stroke="#eead5d" stroke-width="1.3"/>
<circle cx="367.6" cy="532.4" r="2.0" fill="#f2b356" fill-opacity="0.7" stroke="#f2b356" stroke-width="1.3"/>
<circle cx="369.3" cy="532.7" r="2.0" fill="#efae5c" fill-opacity="0.7" stroke="#efae5c" stroke-width="1.3"/>
<circle cx="370.9" cy="531.9" r="2.0" fill="#f4b851" fill-opacity="0.7" stroke="#f4b851" stroke-width="1.3"/>
<circle cx="372.6" cy="532.6" r="2.0" fill="#f4b751" fill-opacity="0.7" stroke="#f4b751" stroke-width="1.3"/>
<circle cx="374.2" cy="531.5" r="2.0" fill="#f5b94f" fill-opacity="0.7" stroke="#f5b94f" stroke-width="1.3"/>
<circle cx="375.9" cy="531.4" r="2.0" fill="#f6ba4e" fill-opacity="0.7" stroke="#f6ba4e" stroke-width="1.3"/>
<circle cx="377.5" cy="532.0" r="2.0" fill="#f6ba4e" fill-opacity="0.7" stroke="#f6ba4e" stroke-width="1.3"/>
<circle cx="379.2" cy="533.2" r="2.0" fill="#f6bb4d" fill-opacity="0.7" stroke="#f6bb4d" stroke-width="1.3"/>
<circle cx="380.8" cy="532.5" r="2.0" fill="#f7bd4a" fill-opacity="0.7" stroke="#f7bd4a" stroke-width="1.3"/>
<circle cx="382.2" cy="532.5" r="2.0" fill="#f6ba4e" fill-opacity="0.7" stroke="#f6ba4e" stroke-width="1.3"/>
<circle cx="390.0" cy="532.5" r="2.0" fill="#f7bd4a" fill-opacity="0.7" stroke="#f7bd4a" stroke-width="1.3"/>
<circle cx="259.5" cy="553.3" r="2.0" fill="#6600cc" fill-opacity="0.7" stroke="#6600cc" stroke-width="1.3"/>
<circle cx="285.4" cy="553.3" r="2.0" fill="#9839b5" fill-opacity="0.7" stroke="#9839b5" stroke-width="1.3"/>
<circle cx="290.7" cy="553.3" r="2.0" fill="#9839b5" fill-opacity="0.7" stroke="#9839b5" stroke-width="1.3"/>
<circle cx="298.6" cy="552.9" r="2.0" fill="#a649ab" fill-opacity="0.7" stroke="#a649ab" stroke-width="1.3"/>
<circle cx="300.2" cy="552.7" r="2.0" fill="#a74aab" fill-opacity="0.7" stroke="#a74aab" stroke-width="1.3"/>
<circle cx="301.9" cy="553.9" r="2.0" fill="#a244ae" fill-opacity="0.7" stroke="#a244ae" stroke-width="1.3"/>
<circle cx="303.5" cy="552.5" r="2.0" fill="#a446ad" fill-opacity="0.7" stroke="#a446ad" stroke-width="1.3"/>
<circle cx="305.2" cy="554.4" r="2.0" fill="#a84baa" fill-opacity="0.7" stroke="#a84baa" stroke-width="1.3"/>
<circle cx="306.8" cy="554.1" r="2.0" fill="#a548ac" fill-opacity="0.7" stroke="#a548ac" stroke-width="1.3"/>
<circle cx="308.5" cy="553.3" r="2.0" fill="#a244ae" fill-opacity="0.7" stroke="#a244ae" stroke-width="1.3"/>
<circle cx="310.1" cy="553.0" r="2.0" fill="#a649ab" fill-opacity="0.7" stroke="#a649ab" stroke-width="1.3"/>
<circle cx="311.7" cy="553.7" r="2.0" fill="#a244ae" fill-opacity="0.7" stroke="#a244ae" stroke-width="1.3"/>
<circle cx="313.4" cy="552.9" r="2.0" fill="#a447ad" fill-opacity="0.7" stroke="#a447ad" stroke-width="1.3"/>
<circle cx="315.0" cy="553.8" r="2.0" fill="#a74aab" fill-opacity="0.7" stroke="#a74aab" stroke-width="1.3"/>
<circle cx="316.7" cy="553.0" r="2.0" fill="#ab4ea8" fill-opacity="0.7" stroke="#ab4ea8" stroke-width="1.3"/>
<circle cx="318.3" cy="552.2" r="2.0" fill="#ad51a6" fill-opacity="0.7" stroke="#ad51a6" stroke-width="1.3"/>
<circle cx="319.9" cy="552.2" r="2.0" fill="#a84baa" fill-opacity="0.7" stroke="#a84baa" stroke-width="1.3"/>
<circle cx="321.6" cy="552.7" r="2.0" fill="#af52a5" fill-opacity="0.7" stroke="#af52a5" stroke-width="1.3"/>
<circle cx="323.2" cy="552.2" r="2.0" fill="#a84baa" fill-opacity="0.7" stroke="#a84baa" stroke-width="1.3"/>
<circle cx="324.9" cy="554.2" r="2.0" fill="#ab4ea8" fill-opacity="0.7" stroke="#ab4ea8" stroke-width="1.3"/>
<circle cx="326.5" cy="552.7" r="2.0" fill="#b054a4" fill-opacity="0.7" stroke="#b054a4" stroke-width="1.3"/>
<circle cx="328.1" cy="552.8" r="2.0" fill="#ae52a5" fill-opacity="0.7" stroke="#ae52a5" stroke-width="1.3"/>
<circle cx="329.8" cy="552.4" r="2.0" fill="#af53a5" fill-opacity="0.7" stroke="#af53a5" stroke-width="1.3"/>
<circle cx="331.4" cy="552.7" r="2.0" fill="#ab4ea8" fill-opacity="0.7" stroke="#ab4ea8" stroke-width="1.3"/>
<circle cx="333.1" cy="554.5" r="2.0" fill="#b054a4" fill-opacity="0.7" stroke="#b054a4" stroke-width="1.3"/>
<circle cx="334.7" cy="552.6" r="2.0" fill="#ac50a7" fill-opacity="0.7" stroke="#ac50a7" stroke-width="1.3"/>
<circle cx="336.4" cy="552.8" r="2.0" fill="#b357a2" fill-opacity="0.7" stroke="#b357a2" stroke-width="1.3"/>
<circle cx="338.0" cy="552.0" r="2.0" fill="#b358a2" fill-opacity="0.7" stroke="#b358a2" stroke-width="1.3"/>
<circle cx="338.0" cy="553.2" r="2.0" fill="#ba609c" fill-opacity="0.7" stroke="#ba609c" stroke-width="1.3"/>
<circle cx="339.6" cy="552.5" r="2.0" fill="#bb619b" fill-opacity="0.7" stroke="#bb619b" stroke-width="1.3"/>
<circle cx="341.2" cy="552.0" r="2.0" fill="#be6598" fill-opacity="0.7" stroke="#be6598" stroke-width="1.3"/>
<circle cx="342.9" cy="552.3" r="2.0" fill="#be6598" fill-opacity="0.7" stroke="#be6598" stroke-width="1.3"/>
<circle cx="344.5" cy="552.1" r="2.0" fill="#c36b94" fill-opacity="0.7" stroke="#c36b94" stroke-width="1.3"/>
<circle cx="346.1" cy="552.8" r="2.0" fill="#c26a95" fill-opacity="0.7" stroke="#c26a95" stroke-width="1.3"/>
<circle cx="347.7" cy="553.5" r="2.0" fill="#c16996" fill-opacity="0.7" stroke="#c16996" stroke-width="1.3"/>
<circle cx="349.3" cy="553.9" r="2.0" fill="#c16996" fill-opacity="0.7" stroke="#c16996" stroke-width="1.3"/>
<circle cx="351.0" cy="553.8" r="2.0" fill="#c06896" fill-opacity="0.7" stroke="#c06896" stroke-width="1.3"/>
<circle cx="352.6" cy="553.0" r="2.0" fill="#c67091" fill-opacity="0.7" stroke="#c67091" stroke-width="1.3"/>
<circle cx="354.2" cy="554.5" r="2.0" fill="#c9738e" fill-opacity="0.7" stroke="#c9738e" stroke-width="1.3"/>
<circle cx="355.8" cy="553.8" r="2.0" fill="#c66f91" fill-opacity="0.7" stroke="#c66f91" stroke-width="1.3"/>
<circle cx="357.4" cy="552.1" r="2.0" fill="#c66f92" fill-opacity="0.7" stroke="#c66f92" stroke-width="1.3"/>
<circle cx="359.1" cy="554.3" r="2.0" fill="#c8738f" fill-opacity="0.7" stroke="#c8738f" stroke-width="1.3"/>
<circle cx="360.7" cy="553.9" r="2.0" fill="#c8728f" fill-opacity="0.7" stroke="#c8728f" stroke-width="1.3"/>
<circle cx="362.3" cy="552.4" r="2.0" fill="#cc778c" fill-opacity="0.7" stroke="#cc778c" stroke-width="1.3"/>
<circle cx="363.9" cy="553.3" r="2.0" fill="#ca758d" fill-opacity="0.7" stroke="#ca758d" stroke-width="1.3"/>
<circle cx="365.6" cy="554.0" r="2.0" fill="#cb778c" fill-opacity="0.7" stroke="#cb778c" stroke-width="1.3"/>
<circle cx="367.2" cy="553.5" r="2.0" fill="#cc788b" fill-opacity="0.7" stroke="#cc788b" stroke-width="1.3"/>
<circle cx="368.8" cy="553.7" r="2.0" fill="#cf7b88" fill-opacity="0.7" stroke="#cf7b88" stroke-width="1.3"/>
<circle cx="370.4" cy="552.6" r="2.0" fill="#d58482" fill-opacity="0.7" stroke="#d58482" stroke-width="1.3"/>
<circle cx="372.0" cy="552.4" r="2.0" fill="#d38283" fill-opacity="0.7" stroke="#d38283" stroke-width="1.3"/>
<circle cx="373.7" cy="552.3" r="2.0" fill="#d17e86" fill-opacity="0.7" stroke="#d17e86" stroke-width="1.3"/>
<circle cx="375.3" cy="553.4" r="2.0" fill="#d48283" fill-opacity="0.7" stroke="#d48283" stroke-width="1.3"/>
<circle cx="376.9" cy="553.6" r="2.0" fill="#d48382" fill-opacity="0.7" stroke="#d48382" stroke-width="1.3"/>
<circle cx="378.5" cy="553.3" r="2.0" fill="#da8c7b" fill-opacity="0.7" stroke="#da8c7b" stroke-width="1.3"/>
<circle cx="380.1" cy="554.0" r="2.0" fill="#d68580" fill-opacity="0.7" stroke="#d68580" stroke-width="1.3"/>
<circle cx="381.8" cy="553.3" r="2.0" fill="#d8897d" fill-opacity="0.7" stroke="#d8897d" stroke-width="1.3"/>
<circle cx="383.4" cy="553.7" r="2.0" fill="#dd9078" fill-opacity="0.7" stroke="#dd9078" stroke-width="1.3"/>
<circle cx="385.0" cy="553.9" r="2.0" fill="#dd8f78" fill-opacity="0.7" stroke="#dd8f78" stroke-width="1.3"/>
<circle cx="392.0" cy="553.3" r="2.0" fill="#e19673" fill-opacity="0.7" stroke="#e19673" stroke-width="1.3"/>
<circle cx="396.4" cy="553.3" r="2.0" fill="#e19673" fill-opacity="0.7" stroke="#e19673" stroke-width="1.3"/>
<circle cx="405.1" cy="553.3" r="2.0" fill="#eba862" fill-opacity="0.7" stroke="#eba862" stroke-width="1.3"/>
<circle cx="410.4" cy="553.3" r="2.0" fill="#fac342" fill-opacity="0.7" stroke="#fac342" stroke-width="1.3"/>
<circle cx="232.4" cy="574.0" r="2.0" fill="#6600cc" fill-opacity="0.7" stroke="#6600cc" stroke-width="1.3"/>
<circle cx="235.2" cy="574.0" r="2.0" fill="#d7877f" fill-opacity="0.7" stroke="#d7877f" stroke-width="1.3"/>
<circle cx="242.0" cy="574.0" r="2.0" fill="#eba862" fill-opacity="0.7" stroke="#eba862" stroke-width="1.3"/>
<circle cx="268.8" cy="574.0" r="2.0" fill="#f6ba4e" fill-opacity="0.7" stroke="#f6ba4e" stroke-width="1.3"/>
<circle cx="275.0" cy="574.0" r="2.0" fill="#f6ba4e" fill-opacity="0.7" stroke="#f6ba4e" stroke-width="1.3"/>
<circle cx="282.0" cy="574.0" r="2.0" fill="#f6ba4e" fill-opacity="0.7" stroke="#f6ba4e" stroke-width="1.3"/>
<circle cx="284.6" cy="574.0" r="2.0" fill="#f6ba4e" fill-opacity="0.7" stroke="#f6ba4e" stroke-width="1.3"/>
<circle cx="291.6" cy="574.0" r="2.0" fill="#fac243" fill-opacity="0.7" stroke="#fac243" stroke-width="1.3"/>
<circle cx="293.3" cy="574.0" r="2.0" fill="#f9c046" fill-opacity="0.7" stroke="#f9c046" stroke-width="1.3"/>
<circle cx="295.1" cy="574.0" r="2.0" fill="#f6bb4d" fill-opacity="0.7" stroke="#f6bb4d" stroke-width="1.3"/>
<circle cx="296.8" cy="574.0" r="2.0" fill="#f9c145" fill-opacity="0.7" stroke="#f9c145" stroke-width="1.3"/>
<circle cx="302.0" cy="574.0" r="2.0" fill="#f6bb4d" fill-opacity="0.7" stroke="#f6bb4d" stroke-width="1.3"/>
<circle cx="303.8" cy="574.0" r="2.0" fill="#f5b850" fill-opacity="0.7" stroke="#f5b850" stroke-width="1.3"/>
<circle cx="305.5" cy="574.0" r="2.0" fill="#f8be4a" fill-opacity="0.7" stroke="#f8be4a" stroke-width="1.3"/>
<circle cx="307.3" cy="574.0" r="2.0" fill="#f8bf48" fill-opacity="0.7" stroke="#f8bf48" stroke-width="1.3"/>
<circle cx="309.1" cy="574.0" r="2.0" fill="#f8be49" fill-opacity="0.7" stroke="#f8be49" stroke-width="1.3"/>
<circle cx="310.8" cy="574.0" r="2.0" fill="#f6bb4c" fill-opacity="0.7" stroke="#f6bb4c" stroke-width="1.3"/>
<circle cx="312.6" cy="574.0" r="2.0" fill="#f6bb4e" fill-opacity="0.7" stroke="#f6bb4e" stroke-width="1.3"/>
<circle cx="315.2" cy="574.0" r="2.0" fill="#fac244" fill-opacity="0.7" stroke="#fac244" stroke-width="1.3"/>
<circle cx="317.9" cy="574.0" r="2.0" fill="#fac144" fill-opacity="0.7" stroke="#fac144" stroke-width="1.3"/>
<circle cx="320.5" cy="573.7" r="2.0" fill="#fcc73c" fill-opacity="0.7" stroke="#fcc73c" stroke-width="1.3"/>
<circle cx="322.2" cy="573.8" r="2.0" fill="#f9c046" fill-opacity="0.7" stroke="#f9c046" stroke-width="1.3"/>
<circle cx="324.0" cy="573.9" r="2.0" fill="#fac243" fill-opacity="0.7" stroke="#fac243" stroke-width="1.3"/>
<circle cx="325.8" cy="573.6" r="2.0" fill="#fdc83b" fill-opacity="0.7" stroke="#fdc83b" stroke-width="1.3"/>
<circle cx="327.5" cy="573.9" r="2.0" fill="#f9c145" fill-opacity="0.7" stroke="#f9c145" stroke-width="1.3"/>
<circle cx="329.2" cy="574.2" r="2.0" fill="#f9c145" fill-opacity="0.7" stroke="#f9c145" stroke-width="1.3"/>
<circle cx="331.0" cy="573.9" r="2.0" fill="#fac342" fill-opacity="0.7" stroke="#fac342" stroke-width="1.3"/>
<circle cx="332.8" cy="574.0" r="2.0" fill="#fbc342" fill-opacity="0.7" stroke="#fbc342" stroke-width="1.3"/>
<circle cx="334.5" cy="573.7" r="2.0" fill="#f8bf48" fill-opacity="0.7" stroke="#f8bf48" stroke-width="1.3"/>
<circle cx="336.2" cy="573.8" r="2.0" fill="#f8be49" fill-opacity="0.7" stroke="#f8be49" stroke-width="1.3"/>
<circle cx="338.0" cy="574.4" r="2.0" fill="#fdc83a" fill-opacity="0.7" stroke="#fdc83a" stroke-width="1.3"/>
<circle cx="347.9" cy="575.7" r="2.0" fill="#f8be49" fill-opacity="0.7" stroke="#f8be49" stroke-width="1.3"/>
<circle cx="347.7" cy="572.8" r="2.0" fill="#ffcc33" fill-opacity="0.7" stroke="#ffcc33" stroke-width="1.3"/>
<circle cx="349.8" cy="572.2" r="2.0" fill="#fcc63d" fill-opacity="0.7" stroke="#fcc63d" stroke-width="1.3"/>
<circle cx="353.6" cy="574.1" r="2.0" fill="#f9c047" fill-opacity="0.7" stroke="#f9c047" stroke-width="1.3"/>
<circle cx="351.7" cy="572.8" r="2.0" fill="#f8bf47" fill-opacity="0.7" stroke="#f8bf47" stroke-width="1.3"/>
<circle cx="348.3" cy="571.5" r="2.0" fill="#ffcc33" fill-opacity="0.7" stroke="#ffcc33" stroke-width="1.3"/>
<circle cx="348.4" cy="573.8" r="2.0" fill="#feca36" fill-opacity="0.7" stroke="#feca36" stroke-width="1.3"/>
<circle cx="342.8" cy="573.4" r="2.0" fill="#feca37" fill-opacity="0.7" stroke="#feca37" stroke-width="1.3"/>
<circle cx="352.5" cy="575.6" r="2.0" fill="#ffcc33" fill-opacity="0.7" stroke="#ffcc33" stroke-width="1.3"/>
<circle cx="355.2" cy="574.9" r="2.0" fill="#f8bf47" fill-opacity="0.7" stroke="#f8bf47" stroke-width="1.3"/>
<circle cx="345.2" cy="573.4" r="2.0" fill="#fdc839" fill-opacity="0.7" stroke="#fdc839" stroke-width="1.3"/>
<circle cx="346.3" cy="573.7" r="2.0" fill="#fecb36" fill-opacity="0.7" stroke="#fecb36" stroke-width="1.3"/>
<circle cx="353.8" cy="573.1" r="2.0" fill="#f8bf48" fill-opacity="0.7" stroke="#f8bf48" stroke-width="1.3"/>
<circle cx="344.5" cy="573.0" r="2.0" fill="#fcc63d" fill-opacity="0.7" stroke="#fcc63d" stroke-width="1.3"/>
<circle cx="343.6" cy="573.5" r="2.0" fill="#f8be49" fill-opacity="0.7" stroke="#f8be49" stroke-width="1.3"/>
<circle cx="354.6" cy="575.3" r="2.0" fill="#fbc440" fill-opacity="0.7" stroke="#fbc440" stroke-width="1.3"/>
<circle cx="349.3" cy="575.2" r="2.0" fill="#ffcc33" fill-opacity="0.7" stroke="#ffcc33" stroke-width="1.3"/>
<circle cx="352.2" cy="573.8" r="2.0" fill="#fac244" fill-opacity="0.7" stroke="#fac244" stroke-width="1.3"/>
<circle cx="350.8" cy="573.0" r="2.0" fill="#ffcc33" fill-opacity="0.7" stroke="#ffcc33" stroke-width="1.3"/>
<circle cx="348.1" cy="573.2" r="2.0" fill="#feca36" fill-opacity="0.7" stroke="#feca36" stroke-width="1.3"/>
<circle cx="344.7" cy="574.8" r="2.0" fill="#feca36" fill-opacity="0.7" stroke="#feca36" stroke-width="1.3"/>
<circle cx="349.4" cy="573.5" r="2.0" fill="#ffcc33" fill-opacity="0.7" stroke="#ffcc33" stroke-width="1.3"/>
<circle cx="343.2" cy="572.8" r="2.0" fill="#f8bf47" fill-opacity="0.7" stroke="#f8bf47" stroke-width="1.3"/>
<circle cx="348.5" cy="572.5" r="2.0" fill="#f8bf47" fill-opacity="0.7" stroke="#f8bf47" stroke-width="1.3"/>
<circle cx="356.3" cy="573.9" r="2.0" fill="#ffcc33" fill-opacity="0.7" stroke="#ffcc33" stroke-width="1.3"/>
<circle cx="346.0" cy="572.0" r="2.0" fill="#ffcb34" fill-opacity="0.7" stroke="#ffcb34" stroke-width="1.3"/>
<circle cx="344.7" cy="574.4" r="2.0" fill="#f9c047" fill-opacity="0.7" stroke="#f9c047" stroke-width="1.3"/>
<circle cx="352.4" cy="573.6" r="2.0" fill="#fdc83a" fill-opacity="0.7" stroke="#fdc83a" stroke-width="1.3"/>
<circle cx="348.9" cy="573.4" r="2.0" fill="#fec938" fill-opacity="0.7" stroke="#fec938" stroke-width="1.3"/>
<circle cx="341.6" cy="573.2" r="2.0" fill="#f8be49" fill-opacity="0.7" stroke="#f8be49" stroke-width="1.3"/>
<circle cx="342.6" cy="574.1" r="2.0" fill="#fbc440" fill-opacity="0.7" stroke="#fbc440" stroke-width="1.3"/>
<circle cx="354.2" cy="572.8" r="2.0" fill="#fecb35" fill-opacity="0.7" stroke="#fecb35" stroke-width="1.3"/>
<circle cx="344.5" cy="573.6" r="2.0" fill="#fdc83b" fill-opacity="0.7" stroke="#fdc83b" stroke-width="1.3"/>
<circle cx="354.8" cy="573.9" r="2.0" fill="#fbc53f" fill-opacity="0.7" stroke="#fbc53f" stroke-width="1.3"/>
<circle cx="344.5" cy="572.2" r="2.0" fill="#ffcc33" fill-opacity="0.7" stroke="#ffcc33" stroke-width="1.3"/>
<circle cx="348.9" cy="575.0" r="2.0" fill="#f8bf48" fill-opacity="0.7" stroke="#f8bf48" stroke-width="1.3"/>
<circle cx="352.0" cy="574.7" r="2.0" fill="#fac244" fill-opacity="0.7" stroke="#fac244" stroke-width="1.3"/>
<circle cx="347.8" cy="574.3" r="2.0" fill="#ffcc33" fill-opacity="0.7" stroke="#ffcc33" stroke-width="1.3"/>
<circle cx="353.0" cy="572.8" r="2.0" fill="#f8bf48" fill-opacity="0.7" stroke="#f8bf48" stroke-width="1.3"/>
<circle cx="350.8" cy="573.1" r="2.0" fill="#ffcc33" fill-opacity="0.7" stroke="#ffcc33" stroke-width="1.3"/>
<circle cx="344.6" cy="574.7" r="2.0" fill="#fac342" fill-opacity="0.7" stroke="#fac342" stroke-width="1.3"/>
<circle cx="348.9" cy="574.5" r="2.0" fill="#fdc939" fill-opacity="0.7" stroke="#fdc939" stroke-width="1.3"/>
<circle cx="344.1" cy="574.5" r="2.0" fill="#ffcc33" fill-opacity="0.7" stroke="#ffcc33" stroke-width="1.3"/>
<circle cx="345.4" cy="573.9" r="2.0" fill="#f8be49" fill-opacity="0.7" stroke="#f8be49" stroke-width="1.3"/>
<circle cx="350.8" cy="575.9" r="2.0" fill="#fcc73c" fill-opacity="0.7" stroke="#fcc73c" stroke-width="1.3"/>
<circle cx="344.3" cy="572.9" r="2.0" fill="#f8be49" fill-opacity="0.7" stroke="#f8be49" stroke-width="1.3"/>
<circle cx="351.7" cy="573.1" r="2.0" fill="#ffcc33" fill-opacity="0.7" stroke="#ffcc33" stroke-width="1.3"/>
<circle cx="348.5" cy="575.0" r="2.0" fill="#fdc83a" fill-opacity="0.7" stroke="#fdc83a" stroke-width="1.3"/>
<circle cx="344.7" cy="574.8" r="2.0" fill="#f8bf48" fill-opacity="0.7" stroke="#f8bf48" stroke-width="1.3"/>
<circle cx="345.9" cy="573.7" r="2.0" fill="#fbc342" fill-opacity="0.7" stroke="#fbc342" stroke-width="1.3"/>
<circle cx="343.7" cy="575.4" r="2.0" fill="#fac243" fill-opacity="0.7" stroke="#fac243" stroke-width="1.3"/>
<circle cx="348.6" cy="572.5" r="2.0" fill="#f8be49" fill-opacity="0.7" stroke="#f8be49" stroke-width="1.3"/>
<circle cx="345.5" cy="575.6" r="2.0" fill="#ffcb34" fill-opacity="0.7" stroke="#ffcb34" stroke-width="1.3"/>
<circle cx="344.1" cy="575.2" r="2.0" fill="#feca36" fill-opacity="0.7" stroke="#feca36" stroke-width="1.3"/>
<circle cx="355.6" cy="574.0" r="2.0" fill="#ffcc33" fill-opacity="0.7" stroke="#ffcc33" stroke-width="1.3"/>
<circle cx="344.1" cy="573.7" r="2.0" fill="#fbc441" fill-opacity="0.7" stroke="#fbc441" stroke-width="1.3"/>
<circle cx="346.8" cy="572.6" r="2.0" fill="#f8be49" fill-opacity="0.7" stroke="#f8be49" stroke-width="1.3"/>
<circle cx="341.6" cy="573.6" r="2.0" fill="#f8bf47" fill-opacity="0.7" stroke="#f8bf47" stroke-width="1.3"/>
<circle cx="354.6" cy="575.0" r="2.0" fill="#f8be4a" fill-opacity="0.7" stroke="#f8be4a" stroke-width="1.3"/>
<circle cx="355.3" cy="573.4" r="2.0" fill="#ffcc33" fill-opacity="0.7" stroke="#ffcc33" stroke-width="1.3"/>
<circle cx="341.1" cy="574.7" r="2.0" fill="#fdc939" fill-opacity="0.7" stroke="#fdc939" stroke-width="1.3"/>
<circle cx="346.5" cy="573.2" r="2.0" fill="#ffcc33" fill-opacity="0.7" stroke="#ffcc33" stroke-width="1.3"/>
<circle cx="346.2" cy="576.3" r="2.0" fill="#ffcc33" fill-opacity="0.7" stroke="#ffcc33" stroke-width="1.3"/>
<circle cx="346.2" cy="575.6" r="2.0" fill="#f9c145" fill-opacity="0.7" stroke="#f9c145" stroke-width="1.3"/>
<circle cx="347.4" cy="571.7" r="2.0" fill="#fcc73c" fill-opacity="0.7" stroke="#fcc73c" stroke-width="1.3"/>
<circle cx="346.5" cy="576.1" r="2.0" fill="#ffcc33" fill-opacity="0.7" stroke="#ffcc33" stroke-width="1.3"/>
<circle cx="346.4" cy="576.0" r="2.0" fill="#ffcc33" fill-opacity="0.7" stroke="#ffcc33" stroke-width="1.3"/>
<circle cx="347.1" cy="575.6" r="2.0" fill="#fac244" fill-opacity="0.7" stroke="#fac244" stroke-width="1.3"/>
<circle cx="344.7" cy="575.2" r="2.0" fill="#f8bf47" fill-opacity="0.7" stroke="#f8bf47" stroke-width="1.3"/>
<circle cx="346.0" cy="572.9" r="2.0" fill="#f8be49" fill-opacity="0.7" stroke="#f8be49" stroke-width="1.3"/>
<circle cx="350.3" cy="572.8" r="2.0" fill="#fac343" fill-opacity="0.7" stroke="#fac343" stroke-width="1.3"/>
<circle cx="345.6" cy="573.0" r="2.0" fill="#ffcc33" fill-opacity="0.7" stroke="#ffcc33" stroke-width="1.3"/>
<circle cx="352.5" cy="575.9" r="2.0" fill="#fbc440" fill-opacity="0.7" stroke="#fbc440" stroke-width="1.3"/>
<circle cx="344.3" cy="573.9" r="2.0" fill="#f8be49" fill-opacity="0.7" stroke="#f8be49" stroke-width="1.3"/>
<circle cx="355.7" cy="573.6" r="2.0" fill="#ffcb35" fill-opacity="0.7" stroke="#ffcb35" stroke-width="1.3"/>
<circle cx="347.4" cy="574.0" r="2.0" fill="#f8bf48" fill-opacity="0.7" stroke="#f8bf48" stroke-width="1.3"/>
<circle cx="343.5" cy="575.4" r="2.0" fill="#fac243" fill-opacity="0.7" stroke="#fac243" stroke-width="1.3"/>
<circle cx="310.0" cy="594.8" r="2.0" fill="#f9bf47" fill-opacity="0.7" stroke="#f9bf47" stroke-width="1.3"/>
<circle cx="311.7" cy="594.8" r="2.0" fill="#f8be48" fill-opacity="0.7" stroke="#f8be48" stroke-width="1.3"/>
<circle cx="313.3" cy="594.8" r="2.0" fill="#f8bf48" fill-opacity="0.7" stroke="#f8bf48" stroke-width="1.3"/>
<circle cx="315.0" cy="594.8" r="2.0" fill="#f9c046" fill-opacity="0.7" stroke="#f9c046" stroke-width="1.3"/>
<circle cx="316.7" cy="594.8" r="2.0" fill="#f8bf48" fill-opacity="0.7" stroke="#f8bf48" stroke-width="1.3"/>
<circle cx="318.3" cy="594.8" r="2.0" fill="#f7bd4b" fill-opacity="0.7" stroke="#f7bd4b" stroke-width="1.3"/>
<circle cx="320.0" cy="594.8" r="2.0" fill="#f4b752" fill-opacity="0.7" stroke="#f4b752" stroke-width="1.3"/>
<circle cx="340.8" cy="594.1" r="2.0" fill="#f6bb4d" fill-opacity="0.7" stroke="#f6bb4d" stroke-width="1.3"/>
<circle cx="321.5" cy="594.9" r="2.0" fill="#f1b258" fill-opacity="0.7" stroke="#f1b258" stroke-width="1.3"/>
<circle cx="334.0" cy="595.5" r="2.0" fill="#efad5d" fill-opacity="0.7" stroke="#efad5d" stroke-width="1.3"/>
<circle cx="326.9" cy="594.6" r="2.0" fill="#eba763" fill-opacity="0.7" stroke="#eba763" stroke-width="1.3"/>
<circle cx="338.7" cy="595.5" r="2.0" fill="#e69f6b" fill-opacity="0.7" stroke="#e69f6b" stroke-width="1.3"/>
<circle cx="338.4" cy="593.7" r="2.0" fill="#e69f6b" fill-opacity="0.7" stroke="#e69f6b" stroke-width="1.3"/>
<circle cx="328.5" cy="595.0" r="2.0" fill="#f0b05a" fill-opacity="0.7" stroke="#f0b05a" stroke-width="1.3"/>
<circle cx="340.4" cy="593.9" r="2.0" fill="#f3b555" fill-opacity="0.7" stroke="#f3b555" stroke-width="1.3"/>
<circle cx="327.2" cy="593.8" r="2.0" fill="#e59e6c" fill-opacity="0.7" stroke="#e59e6c" stroke-width="1.3"/>
<circle cx="336.1" cy="594.3" r="2.0" fill="#f0af5b" fill-opacity="0.7" stroke="#f0af5b" stroke-width="1.3"/>
<circle cx="347.2" cy="594.8" r="2.0" fill="#f3b554" fill-opacity="0.7" stroke="#f3b554" stroke-width="1.3"/>
<circle cx="342.3" cy="595.2" r="2.0" fill="#e39a6f" fill-opacity="0.7" stroke="#e39a6f" stroke-width="1.3"/>
<circle cx="323.3" cy="594.7" r="2.0" fill="#e7a06a" fill-opacity="0.7" stroke="#e7a06a" stroke-width="1.3"/>
<circle cx="323.8" cy="594.0" r="2.0" fill="#e39a6f" fill-opacity="0.7" stroke="#e39a6f" stroke-width="1.3"/>
<circle cx="336.2" cy="596.1" r="2.0" fill="#f0b05a" fill-opacity="0.7" stroke="#f0b05a" stroke-width="1.3"/>
<circle cx="343.8" cy="594.7" r="2.0" fill="#f2b455" fill-opacity="0.7" stroke="#f2b455" stroke-width="1.3"/>
<circle cx="323.4" cy="595.0" r="2.0" fill="#eba763" fill-opacity="0.7" stroke="#eba763" stroke-width="1.3"/>
<circle cx="326.4" cy="594.4" r="2.0" fill="#f5b850" fill-opacity="0.7" stroke="#f5b850" stroke-width="1.3"/>
<circle cx="326.1" cy="594.1" r="2.0" fill="#eba862" fill-opacity="0.7" stroke="#eba862" stroke-width="1.3"/>
<circle cx="338.1" cy="593.9" r="2.0" fill="#f7bd4a" fill-opacity="0.7" stroke="#f7bd4a" stroke-width="1.3"/>
<circle cx="329.4" cy="595.3" r="2.0" fill="#f4b752" fill-opacity="0.7" stroke="#f4b752" stroke-width="1.3"/>
<circle cx="329.0" cy="593.9" r="2.0" fill="#e7a169" fill-opacity="0.7" stroke="#e7a169" stroke-width="1.3"/>
<circle cx="335.3" cy="593.4" r="2.0" fill="#f6ba4e" fill-opacity="0.7" stroke="#f6ba4e" stroke-width="1.3"/>
<circle cx="331.2" cy="595.0" r="2.0" fill="#eba664" fill-opacity="0.7" stroke="#eba664" stroke-width="1.3"/>
<circle cx="339.2" cy="594.5" r="2.0" fill="#f2b356" fill-opacity="0.7" stroke="#f2b356" stroke-width="1.3"/>
<circle cx="328.8" cy="596.1" r="2.0" fill="#f1b257" fill-opacity="0.7" stroke="#f1b257" stroke-width="1.3"/>
<circle cx="335.8" cy="594.3" r="2.0" fill="#efae5b" fill-opacity="0.7" stroke="#efae5b" stroke-width="1.3"/>
<circle cx="330.3" cy="593.9" r="2.0" fill="#e9a367" fill-opacity="0.7" stroke="#e9a367" stroke-width="1.3"/>
<circle cx="344.8" cy="594.6" r="2.0" fill="#e7a06a" fill-opacity="0.7" stroke="#e7a06a" stroke-width="1.3"/>
<circle cx="331.5" cy="596.0" r="2.0" fill="#eead5d" fill-opacity="0.7" stroke="#eead5d" stroke-width="1.3"/>
<circle cx="335.4" cy="595.2" r="2.0" fill="#e59d6d" fill-opacity="0.7" stroke="#e59d6d" stroke-width="1.3"/>
<circle cx="323.0" cy="595.1" r="2.0" fill="#f0b05a" fill-opacity="0.7" stroke="#f0b05a" stroke-width="1.3"/>
<circle cx="334.1" cy="593.6" r="2.0" fill="#f2b356" fill-opacity="0.7" stroke="#f2b356" stroke-width="1.3"/>
<circle cx="334.6" cy="596.2" r="2.0" fill="#f5ba4f" fill-opacity="0.7" stroke="#f5ba4f" stroke-width="1.3"/>
<circle cx="333.7" cy="595.8" r="2.0" fill="#e49b6f" fill-opacity="0.7" stroke="#e49b6f" stroke-width="1.3"/>
<circle cx="325.9" cy="593.8" r="2.0" fill="#e49b6e" fill-opacity="0.7" stroke="#e49b6e" stroke-width="1.3"/>
<circle cx="346.7" cy="594.8" r="2.0" fill="#f6bc4c" fill-opacity="0.7" stroke="#f6bc4c" stroke-width="1.3"/>
<circle cx="345.4" cy="594.5" r="2.0" fill="#e59d6d" fill-opacity="0.7" stroke="#e59d6d" stroke-width="1.3"/>
<circle cx="337.2" cy="595.8" r="2.0" fill="#f4b851" fill-opacity="0.7" stroke="#f4b851" stroke-width="1.3"/>
<circle cx="341.7" cy="594.0" r="2.0" fill="#efaf5b" fill-opacity="0.7" stroke="#efaf5b" stroke-width="1.3"/>
<circle cx="343.3" cy="595.7" r="2.0" fill="#f4b752" fill-opacity="0.7" stroke="#f4b752" stroke-width="1.3"/>
<circle cx="326.4" cy="594.5" r="2.0" fill="#edab5f" fill-opacity="0.7" stroke="#edab5f" stroke-width="1.3"/>
<circle cx="330.9" cy="593.6" r="2.0" fill="#f3b555" fill-opacity="0.7" stroke="#f3b555" stroke-width="1.3"/>
<circle cx="340.0" cy="595.9" r="2.0" fill="#f7bc4c" fill-opacity="0.7" stroke="#f7bc4c" stroke-width="1.3"/>
<circle cx="335.7" cy="595.6" r="2.0" fill="#f7bc4c" fill-opacity="0.7" stroke="#f7bc4c" stroke-width="1.3"/>
<circle cx="336.7" cy="595.0" r="2.0" fill="#eba763" fill-opacity="0.7" stroke="#eba763" stroke-width="1.3"/>
<circle cx="328.8" cy="594.6" r="2.0" fill="#eca862" fill-opacity="0.7" stroke="#eca862" stroke-width="1.3"/>
<circle cx="332.0" cy="595.3" r="2.0" fill="#efad5d" fill-opacity="0.7" stroke="#efad5d" stroke-width="1.3"/>
<circle cx="332.3" cy="593.3" r="2.0" fill="#eba763" fill-opacity="0.7" stroke="#eba763" stroke-width="1.3"/>
<circle cx="333.7" cy="593.9" r="2.0" fill="#e8a268" fill-opacity="0.7" stroke="#e8a268" stroke-width="1.3"/>
<circle cx="341.5" cy="594.7" r="2.0" fill="#f4b752" fill-opacity="0.7" stroke="#f4b752" stroke-width="1.3"/>
<circle cx="333.3" cy="593.5" r="2.0" fill="#f5b950" fill-opacity="0.7" stroke="#f5b950" stroke-width="1.3"/>
<circle cx="332.1" cy="593.5" r="2.0" fill="#efad5c" fill-opacity="0.7" stroke="#efad5c" stroke-width="1.3"/>
<circle cx="334.3" cy="593.3" r="2.0" fill="#eba664" fill-opacity="0.7" stroke="#eba664" stroke-width="1.3"/>
<circle cx="322.8" cy="595.4" r="2.0" fill="#e8a168" fill-opacity="0.7" stroke="#e8a168" stroke-width="1.3"/>
<circle cx="334.3" cy="593.3" r="2.0" fill="#edab5f" fill-opacity="0.7" stroke="#edab5f" stroke-width="1.3"/>
<circle cx="330.7" cy="596.2" r="2.0" fill="#f5b950" fill-opacity="0.7" stroke="#f5b950" stroke-width="1.3"/>
<circle cx="340.2" cy="595.7" r="2.0" fill="#f4b652" fill-opacity="0.7" stroke="#f4b652" stroke-width="1.3"/>
<circle cx="346.9" cy="594.8" r="2.0" fill="#e49b6e" fill-opacity="0.7" stroke="#e49b6e" stroke-width="1.3"/>
<circle cx="322.4" cy="594.4" r="2.0" fill="#e8a268" fill-opacity="0.7" stroke="#e8a268" stroke-width="1.3"/>
<circle cx="328.0" cy="595.7" r="2.0" fill="#f5b850" fill-opacity="0.7" stroke="#f5b850" stroke-width="1.3"/>
<circle cx="334.1" cy="596.2" r="2.0" fill="#f3b653" fill-opacity="0.7" stroke="#f3b653" stroke-width="1.3"/>
<circle cx="327.6" cy="594.8" r="2.0" fill="#f1b258" fill-opacity="0.7" stroke="#f1b258" stroke-width="1.3"/>
<circle cx="338.8" cy="596.0" r="2.0" fill="#f4b751" fill-opacity="0.7" stroke="#f4b751" stroke-width="1.3"/>
<circle cx="341.6" cy="593.7" r="2.0" fill="#edaa60" fill-opacity="0.7" stroke="#edaa60" stroke-width="1.3"/>
<circle cx="337.7" cy="594.4" r="2.0" fill="#e69e6c" fill-opacity="0.7" stroke="#e69e6c" stroke-width="1.3"/>
<circle cx="335.5" cy="595.1" r="2.0" fill="#e59e6c" fill-opacity="0.7" stroke="#e59e6c" stroke-width="1.3"/>
<circle cx="337.5" cy="594.5" r="2.0" fill="#e7a169" fill-opacity="0.7" stroke="#e7a169" stroke-width="1.3"/>
<circle cx="336.1" cy="594.4" r="2.0" fill="#e8a268" fill-opacity="0.7" stroke="#e8a268" stroke-width="1.3"/>
<circle cx="332.5" cy="593.8" r="2.0" fill="#e8a367" fill-opacity="0.7" stroke="#e8a367" stroke-width="1.3"/>
<circle cx="327.4" cy="595.2" r="2.0" fill="#e39a6f" fill-opacity="0.7" stroke="#e39a6f" stroke-width="1.3"/>
<circle cx="336.3" cy="595.3" r="2.0" fill="#f1b257" fill-opacity="0.7" stroke="#f1b257" stroke-width="1.3"/>
<circle cx="324.6" cy="595.1" r="2.0" fill="#efae5c" fill-opacity="0.7" stroke="#efae5c" stroke-width="1.3"/>
<circle cx="334.3" cy="596.1" r="2.0" fill="#f5b950" fill-opacity="0.7" stroke="#f5b950" stroke-width="1.3"/>
<circle cx="326.7" cy="595.2" r="2.0" fill="#f7bd4b" fill-opacity="0.7" stroke="#f7bd4b" stroke-width="1.3"/>
<circle cx="323.5" cy="594.4" r="2.0" fill="#f3b554" fill-opacity="0.7" stroke="#f3b554" stroke-width="1.3"/>
<circle cx="336.2" cy="595.1" r="2.0" fill="#f4b653" fill-opacity="0.7" stroke="#f4b653" stroke-width="1.3"/>
<circle cx="337.3" cy="594.7" r="2.0" fill="#f5b950" fill-opacity="0.7" stroke="#f5b950" stroke-width="1.3"/>
<circle cx="337.7" cy="595.9" r="2.0" fill="#e8a169" fill-opacity="0.7" stroke="#e8a169" stroke-width="1.3"/>
<circle cx="331.4" cy="594.1" r="2.0" fill="#f7bd4a" fill-opacity="0.7" stroke="#f7bd4a" stroke-width="1.3"/>
<circle cx="337.9" cy="595.0" r="2.0" fill="#f1b159" fill-opacity="0.7" stroke="#f1b159" stroke-width="1.3"/>
<circle cx="337.9" cy="594.6" r="2.0" fill="#e49c6e" fill-opacity="0.7" stroke="#e49c6e" stroke-width="1.3"/>
<circle cx="340.3" cy="594.1" r="2.0" fill="#e59d6d" fill-opacity="0.7" stroke="#e59d6d" stroke-width="1.3"/>
<circle cx="321.8" cy="594.9" r="2.0" fill="#efaf5b" fill-opacity="0.7" stroke="#efaf5b" stroke-width="1.3"/>
<circle cx="335.4" cy="596.2" r="2.0" fill="#f5b850" fill-opacity="0.7" stroke="#f5b850" stroke-width="1.3"/>
<circle cx="325.9" cy="595.1" r="2.0" fill="#edab5f" fill-opacity="0.7" stroke="#edab5f" stroke-width="1.3"/>
<circle cx="337.8" cy="595.7" r="2.0" fill="#f4b752" fill-opacity="0.7" stroke="#f4b752" stroke-width="1.3"/>
<circle cx="328.9" cy="594.2" r="2.0" fill="#f7bc4c" fill-opacity="0.7" stroke="#f7bc4c" stroke-width="1.3"/>
<circle cx="344.4" cy="595.5" r="2.0" fill="#e9a466" fill-opacity="0.7" stroke="#e9a466" stroke-width="1.3"/>
<circle cx="340.6" cy="594.7" r="2.0" fill="#e8a367" fill-opacity="0.7" stroke="#e8a367" stroke-width="1.3"/>
<circle cx="332.7" cy="593.9" r="2.0" fill="#f5ba4f" fill-opacity="0.7" stroke="#f5ba4f" stroke-width="1.3"/>
<circle cx="348.0" cy="594.5" r="2.0" fill="#e49b6f" fill-opacity="0.7" stroke="#e49b6f" stroke-width="1.3"/>
<circle cx="349.7" cy="594.6" r="2.0" fill="#de9276" fill-opacity="0.7" stroke="#de9276" stroke-width="1.3"/>
<circle cx="351.4" cy="595.0" r="2.0" fill="#dc8f78" fill-opacity="0.7" stroke="#dc8f78" stroke-width="1.3"/>
<circle cx="353.1" cy="595.1" r="2.0" fill="#e09474" fill-opacity="0.7" stroke="#e09474" stroke-width="1.3"/>
<circle cx="354.8" cy="594.9" r="2.0" fill="#dd9177" fill-opacity="0.7" stroke="#dd9177" stroke-width="1.3"/>
<circle cx="356.5" cy="595.1" r="2.0" fill="#dc8f79" fill-opacity="0.7" stroke="#dc8f79" stroke-width="1.3"/>
<circle cx="358.2" cy="594.5" r="2.0" fill="#da8c7b" fill-opacity="0.7" stroke="#da8c7b" stroke-width="1.3"/>
<circle cx="359.8" cy="595.4" r="2.0" fill="#dc8f79" fill-opacity="0.7" stroke="#dc8f79" stroke-width="1.3"/>
<circle cx="361.5" cy="595.3" r="2.0" fill="#dd9078" fill-opacity="0.7" stroke="#dd9078" stroke-width="1.3"/>
<circle cx="363.2" cy="594.5" r="2.0" fill="#da8c7b" fill-opacity="0.7" stroke="#da8c7b" stroke-width="1.3"/>
<circle cx="364.9" cy="595.1" r="2.0" fill="#d48382" fill-opacity="0.7" stroke="#d48382" stroke-width="1.3"/>
<circle cx="366.6" cy="595.1" r="2.0" fill="#d8887e" fill-opacity="0.7" stroke="#d8887e" stroke-width="1.3"/>
<circle cx="368.3" cy="595.3" r="2.0" fill="#d7877f" fill-opacity="0.7" stroke="#d7877f" stroke-width="1.3"/>
<circle cx="370.0" cy="594.5" r="2.0" fill="#d27f85" fill-opacity="0.7" stroke="#d27f85" stroke-width="1.3"/>
<circle cx="373.6" cy="594.8" r="2.0" fill="#c8728f" fill-opacity="0.7" stroke="#c8728f" stroke-width="1.3"/>
<circle cx="378.8" cy="594.8" r="2.0" fill="#c8728f" fill-opacity="0.7" stroke="#c8728f" stroke-width="1.3"/>
<circle cx="383.7" cy="594.8" r="2.0" fill="#c8728f" fill-opacity="0.7" stroke="#c8728f" stroke-width="1.3"/>
<circle cx="389.0" cy="594.8" r="2.0" fill="#c16996" fill-opacity="0.7" stroke="#c16996" stroke-width="1.3"/>
<circle cx="401.6" cy="594.8" r="2.0" fill="#aa4da9" fill-opacity="0.7" stroke="#aa4da9" stroke-width="1.3"/>
<circle cx="304.7" cy="615.6" r="2.0" fill="#b155a3" fill-opacity="0.7" stroke="#b155a3" stroke-width="1.3"/>
<circle cx="306.4" cy="615.6" r="2.0" fill="#b156a3" fill-opacity="0.7" stroke="#b156a3" stroke-width="1.3"/>
<circle cx="308.1" cy="615.6" r="2.0" fill="#b358a2" fill-opacity="0.7" stroke="#b358a2" stroke-width="1.3"/>
<circle cx="309.9" cy="615.6" r="2.0" fill="#b156a3" fill-opacity="0.7" stroke="#b156a3" stroke-width="1.3"/>
<circle cx="311.6" cy="615.6" r="2.0" fill="#b75d9e" fill-opacity="0.7" stroke="#b75d9e" stroke-width="1.3"/>
<circle cx="313.3" cy="615.6" r="2.0" fill="#b55aa0" fill-opacity="0.7" stroke="#b55aa0" stroke-width="1.3"/>
<circle cx="315.0" cy="615.6" r="2.0" fill="#b85d9e" fill-opacity="0.7" stroke="#b85d9e" stroke-width="1.3"/>
<circle cx="315.0" cy="616.1" r="2.0" fill="#c8728f" fill-opacity="0.7" stroke="#c8728f" stroke-width="1.3"/>
<circle cx="316.7" cy="615.9" r="2.0" fill="#c9738e" fill-opacity="0.7" stroke="#c9738e" stroke-width="1.3"/>
<circle cx="318.3" cy="615.3" r="2.0" fill="#cd798a" fill-opacity="0.7" stroke="#cd798a" stroke-width="1.3"/>
<circle cx="320.0" cy="615.7" r="2.0" fill="#d07c87" fill-opacity="0.7" stroke="#d07c87" stroke-width="1.3"/>
<circle cx="321.7" cy="616.2" r="2.0" fill="#d07e86" fill-opacity="0.7" stroke="#d07e86" stroke-width="1.3"/>
<circle cx="323.3" cy="614.9" r="2.0" fill="#d28085" fill-opacity="0.7" stroke="#d28085" stroke-width="1.3"/>
<circle cx="325.0" cy="616.2" r="2.0" fill="#d28085" fill-opacity="0.7" stroke="#d28085" stroke-width="1.3"/>
<circle cx="326.7" cy="615.0" r="2.0" fill="#d58581" fill-opacity="0.7" stroke="#d58581" stroke-width="1.3"/>
<circle cx="328.3" cy="614.9" r="2.0" fill="#d28085" fill-opacity="0.7" stroke="#d28085" stroke-width="1.3"/>
<circle cx="330.0" cy="615.8" r="2.0" fill="#d38283" fill-opacity="0.7" stroke="#d38283" stroke-width="1.3"/>
<circle cx="350.1" cy="614.6" r="2.0" fill="#edaa60" fill-opacity="0.7" stroke="#edaa60" stroke-width="1.3"/>
<circle cx="339.7" cy="616.3" r="2.0" fill="#e8a268" fill-opacity="0.7" stroke="#e8a268" stroke-width="1.3"/>
<circle cx="335.3" cy="614.7" r="2.0" fill="#f8be49" fill-opacity="0.7" stroke="#f8be49" stroke-width="1.3"/>
<circle cx="353.2" cy="616.2" r="2.0" fill="#eca862" fill-opacity="0.7" stroke="#eca862" stroke-width="1.3"/>
<circle cx="352.5" cy="615.8" r="2.0" fill="#f3b554" fill-opacity="0.7" stroke="#f3b554" stroke-width="1.3"/>
<circle cx="350.7" cy="614.9" r="2.0" fill="#f2b456" fill-opacity="0.7" stroke="#f2b456" stroke-width="1.3"/>
<circle cx="341.4" cy="614.4" r="2.0" fill="#f3b653" fill-opacity="0.7" stroke="#f3b653" stroke-width="1.3"/>
<circle cx="337.5" cy="616.0" r="2.0" fill="#f1b258" fill-opacity="0.7" stroke="#f1b258" stroke-width="1.3"/>
<circle cx="338.5" cy="616.6" r="2.0" fill="#eead5d" fill-opacity="0.7" stroke="#eead5d" stroke-width="1.3"/>
<circle cx="353.3" cy="615.8" r="2.0" fill="#f8be49" fill-opacity="0.7" stroke="#f8be49" stroke-width="1.3"/>
<circle cx="341.1" cy="615.4" r="2.0" fill="#e9a367" fill-opacity="0.7" stroke="#e9a367" stroke-width="1.3"/>
<circle cx="339.2" cy="616.0" r="2.0" fill="#eeac5e" fill-opacity="0.7" stroke="#eeac5e" stroke-width="1.3"/>
<circle cx="335.6" cy="616.3" r="2.0" fill="#f7bc4c" fill-opacity="0.7" stroke="#f7bc4c" stroke-width="1.3"/>
<circle cx="352.4" cy="614.9" r="2.0" fill="#f8bf47" fill-opacity="0.7" stroke="#f8bf47" stroke-width="1.3"/>
<circle cx="335.2" cy="616.1" r="2.0" fill="#e49c6d" fill-opacity="0.7" stroke="#e49c6d" stroke-width="1.3"/>
<circle cx="329.7" cy="615.5" r="2.0" fill="#efae5c" fill-opacity="0.7" stroke="#efae5c" stroke-width="1.3"/>
<circle cx="351.8" cy="614.9" r="2.0" fill="#efad5d" fill-opacity="0.7" stroke="#efad5d" stroke-width="1.3"/>
<circle cx="339.3" cy="616.3" r="2.0" fill="#f3b653" fill-opacity="0.7" stroke="#f3b653" stroke-width="1.3"/>
<circle cx="355.8" cy="615.1" r="2.0" fill="#f4b851" fill-opacity="0.7" stroke="#f4b851" stroke-width="1.3"/>
<circle cx="349.0" cy="615.6" r="2.0" fill="#f6bb4d" fill-opacity="0.7" stroke="#f6bb4d" stroke-width="1.3"/>
<circle cx="347.3" cy="614.6" r="2.0" fill="#e9a367" fill-opacity="0.7" stroke="#e9a367" stroke-width="1.3"/>
<circle cx="349.0" cy="616.2" r="2.0" fill="#eca961" fill-opacity="0.7" stroke="#eca961" stroke-width="1.3"/>
<circle cx="339.5" cy="615.3" r="2.0" fill="#f1b159" fill-opacity="0.7" stroke="#f1b159" stroke-width="1.3"/>
<circle cx="335.3" cy="615.1" r="2.0" fill="#e69f6b" fill-opacity="0.7" stroke="#e69f6b" stroke-width="1.3"/>
<circle cx="343.5" cy="615.2" r="2.0" fill="#e69f6a" fill-opacity="0.7" stroke="#e69f6a" stroke-width="1.3"/>
<circle cx="336.1" cy="615.5" r="2.0" fill="#eeac5e" fill-opacity="0.7" stroke="#eeac5e" stroke-width="1.3"/>
<circle cx="350.6" cy="616.1" r="2.0" fill="#eca862" fill-opacity="0.7" stroke="#eca862" stroke-width="1.3"/>
<circle cx="339.3" cy="615.2" r="2.0" fill="#f5ba4f" fill-opacity="0.7" stroke="#f5ba4f" stroke-width="1.3"/>
<circle cx="353.0" cy="615.9" r="2.0" fill="#e9a466" fill-opacity="0.7" stroke="#e9a466" stroke-width="1.3"/>
<circle cx="334.3" cy="615.4" r="2.0" fill="#e9a367" fill-opacity="0.7" stroke="#e9a367" stroke-width="1.3"/>
<circle cx="345.7" cy="614.6" r="2.0" fill="#efaf5b" fill-opacity="0.7" stroke="#efaf5b" stroke-width="1.3"/>
<circle cx="354.2" cy="615.0" r="2.0" fill="#f5b850" fill-opacity="0.7" stroke="#f5b850" stroke-width="1.3"/>
<circle cx="338.0" cy="616.0" r="2.0" fill="#e7a169" fill-opacity="0.7" stroke="#e7a169" stroke-width="1.3"/>
<circle cx="333.9" cy="614.9" r="2.0" fill="#f4b653" fill-opacity="0.7" stroke="#f4b653" stroke-width="1.3"/>
<circle cx="338.7" cy="615.6" r="2.0" fill="#f5b94f" fill-opacity="0.7" stroke="#f5b94f" stroke-width="1.3"/>
<circle cx="338.7" cy="614.8" r="2.0" fill="#e49c6d" fill-opacity="0.7" stroke="#e49c6d" stroke-width="1.3"/>
<circle cx="349.9" cy="614.7" r="2.0" fill="#e59d6d" fill-opacity="0.7" stroke="#e59d6d" stroke-width="1.3"/>
<circle cx="332.4" cy="615.3" r="2.0" fill="#e49c6e" fill-opacity="0.7" stroke="#e49c6e" stroke-width="1.3"/>
<circle cx="351.7" cy="616.1" r="2.0" fill="#f0b05a" fill-opacity="0.7" stroke="#f0b05a" stroke-width="1.3"/>
<circle cx="335.1" cy="615.9" r="2.0" fill="#f6bb4c" fill-opacity="0.7" stroke="#f6bb4c" stroke-width="1.3"/>
<circle cx="335.3" cy="615.3" r="2.0" fill="#f8be49" fill-opacity="0.7" stroke="#f8be49" stroke-width="1.3"/>
<circle cx="340.7" cy="616.3" r="2.0" fill="#eba664" fill-opacity="0.7" stroke="#eba664" stroke-width="1.3"/>
<circle cx="343.5" cy="615.9" r="2.0" fill="#efaf5b" fill-opacity="0.7" stroke="#efaf5b" stroke-width="1.3"/>
<circle cx="333.5" cy="615.8" r="2.0" fill="#f0b159" fill-opacity="0.7" stroke="#f0b159" stroke-width="1.3"/>
<circle cx="350.2" cy="616.5" r="2.0" fill="#f0b05a" fill-opacity="0.7" stroke="#f0b05a" stroke-width="1.3"/>
<circle cx="345.6" cy="616.2" r="2.0" fill="#f0b05a" fill-opacity="0.7" stroke="#f0b05a" stroke-width="1.3"/>
<circle cx="336.0" cy="616.0" r="2.0" fill="#e7a06a" fill-opacity="0.7" stroke="#e7a06a" stroke-width="1.3"/>
<circle cx="351.1" cy="616.0" r="2.0" fill="#e7a169" fill-opacity="0.7" stroke="#e7a169" stroke-width="1.3"/>
<circle cx="348.5" cy="615.9" r="2.0" fill="#efaf5b" fill-opacity="0.7" stroke="#efaf5b" stroke-width="1.3"/>
<circle cx="338.3" cy="615.9" r="2.0" fill="#f7bc4c" fill-opacity="0.7" stroke="#f7bc4c" stroke-width="1.3"/>
<circle cx="341.3" cy="616.3" r="2.0" fill="#eaa665" fill-opacity="0.7" stroke="#eaa665" stroke-width="1.3"/>
<circle cx="347.1" cy="615.0" r="2.0" fill="#f0b05a" fill-opacity="0.7" stroke="#f0b05a" stroke-width="1.3"/>
<circle cx="342.3" cy="615.9" r="2.0" fill="#f0b059" fill-opacity="0.7" stroke="#f0b059" stroke-width="1.3"/>
<circle cx="348.4" cy="616.6" r="2.0" fill="#f5b950" fill-opacity="0.7" stroke="#f5b950" stroke-width="1.3"/>
<circle cx="347.8" cy="616.2" r="2.0" fill="#f1b158" fill-opacity="0.7" stroke="#f1b158" stroke-width="1.3"/>
<circle cx="343.2" cy="616.8" r="2.0" fill="#f8be49" fill-opacity="0.7" stroke="#f8be49" stroke-width="1.3"/>
<circle cx="344.7" cy="614.7" r="2.0" fill="#e9a367" fill-opacity="0.7" stroke="#e9a367" stroke-width="1.3"/>
<circle cx="355.7" cy="615.6" r="2.0" fill="#f7bc4c" fill-opacity="0.7" stroke="#f7bc4c" stroke-width="1.3"/>
<circle cx="345.6" cy="615.7" r="2.0" fill="#eaa565" fill-opacity="0.7" stroke="#eaa565" stroke-width="1.3"/>
<circle cx="343.8" cy="615.9" r="2.0" fill="#e8a169" fill-opacity="0.7" stroke="#e8a169" stroke-width="1.3"/>
<circle cx="344.1" cy="615.3" r="2.0" fill="#e59d6c" fill-opacity="0.7" stroke="#e59d6c" stroke-width="1.3"/>
<circle cx="335.4" cy="616.0" r="2.0" fill="#f1b159" fill-opacity="0.7" stroke="#f1b159" stroke-width="1.3"/>
<circle cx="350.8" cy="614.7" r="2.0" fill="#e49c6e" fill-opacity="0.7" stroke="#e49c6e" stroke-width="1.3"/>
<circle cx="339.5" cy="614.5" r="2.0" fill="#f3b554" fill-opacity="0.7" stroke="#f3b554" stroke-width="1.3"/>
<circle cx="340.7" cy="614.4" r="2.0" fill="#f0b05a" fill-opacity="0.7" stroke="#f0b05a" stroke-width="1.3"/>
<circle cx="341.3" cy="616.1" r="2.0" fill="#f2b357" fill-opacity="0.7" stroke="#f2b357" stroke-width="1.3"/>
<circle cx="337.0" cy="614.9" r="2.0" fill="#eaa466" fill-opacity="0.7" stroke="#eaa466" stroke-width="1.3"/>
<circle cx="355.7" cy="615.6" r="2.0" fill="#f4b751" fill-opacity="0.7" stroke="#f4b751" stroke-width="1.3"/>
<circle cx="351.9" cy="615.3" r="2.0" fill="#f4b851" fill-opacity="0.7" stroke="#f4b851" stroke-width="1.3"/>
<circle cx="333.2" cy="616.1" r="2.0" fill="#e8a268" fill-opacity="0.7" stroke="#e8a268" stroke-width="1.3"/>
<circle cx="347.2" cy="615.5" r="2.0" fill="#edab5f" fill-opacity="0.7" stroke="#edab5f" stroke-width="1.3"/>
<circle cx="339.4" cy="615.9" r="2.0" fill="#e8a268" fill-opacity="0.7" stroke="#e8a268" stroke-width="1.3"/>
<circle cx="352.3" cy="615.5" r="2.0" fill="#f3b555" fill-opacity="0.7" stroke="#f3b555" stroke-width="1.3"/>
<circle cx="344.8" cy="614.6" r="2.0" fill="#e8a169" fill-opacity="0.7" stroke="#e8a169" stroke-width="1.3"/>
<circle cx="339.5" cy="616.4" r="2.0" fill="#f3b653" fill-opacity="0.7" stroke="#f3b653" stroke-width="1.3"/>
<circle cx="340.1" cy="615.0" r="2.0" fill="#f0b05a" fill-opacity="0.7" stroke="#f0b05a" stroke-width="1.3"/>
<circle cx="349.7" cy="615.1" r="2.0" fill="#f4b653" fill-opacity="0.7" stroke="#f4b653" stroke-width="1.3"/>
<circle cx="338.0" cy="615.5" r="2.0" fill="#f0b05a" fill-opacity="0.7" stroke="#f0b05a" stroke-width="1.3"/>
<circle cx="347.3" cy="615.9" r="2.0" fill="#f1b257" fill-opacity="0.7" stroke="#f1b257" stroke-width="1.3"/>
<circle cx="354.8" cy="616.1" r="2.0" fill="#f6ba4e" fill-opacity="0.7" stroke="#f6ba4e" stroke-width="1.3"/>
<circle cx="352.7" cy="615.8" r="2.0" fill="#f8bf48" fill-opacity="0.7" stroke="#f8bf48" stroke-width="1.3"/>
<circle cx="347.8" cy="615.0" r="2.0" fill="#f7bc4c" fill-opacity="0.7" stroke="#f7bc4c" stroke-width="1.3"/>
<circle cx="333.6" cy="615.0" r="2.0" fill="#e9a367" fill-opacity="0.7" stroke="#e9a367" stroke-width="1.3"/>
<circle cx="339.2" cy="614.7" r="2.0" fill="#e69f6b" fill-opacity="0.7" stroke="#e69f6b" stroke-width="1.3"/>
<circle cx="351.6" cy="614.8" r="2.0" fill="#e69f6b" fill-opacity="0.7" stroke="#e69f6b" stroke-width="1.3"/>
<circle cx="346.5" cy="616.2" r="2.0" fill="#eba763" fill-opacity="0.7" stroke="#eba763" stroke-width="1.3"/>
<circle cx="354.5" cy="616.1" r="2.0" fill="#e7a169" fill-opacity="0.7" stroke="#e7a169" stroke-width="1.3"/>
<circle cx="325.9" cy="637.2" r="2.0" fill="#fcc63d" fill-opacity="0.7" stroke="#fcc63d" stroke-width="1.3"/>
<circle cx="334.4" cy="636.0" r="2.0" fill="#f9c145" fill-opacity="0.7" stroke="#f9c145" stroke-width="1.3"/>
<circle cx="331.5" cy="635.0" r="2.0" fill="#feca36" fill-opacity="0.7" stroke="#feca36" stroke-width="1.3"/>
<circle cx="325.0" cy="636.3" r="2.0" fill="#ffcc33" fill-opacity="0.7" stroke="#ffcc33" stroke-width="1.3"/>
<circle cx="330.1" cy="634.3" r="2.0" fill="#fcc73c" fill-opacity="0.7" stroke="#fcc73c" stroke-width="1.3"/>
<circle cx="330.6" cy="636.5" r="2.0" fill="#fac145" fill-opacity="0.7" stroke="#fac145" stroke-width="1.3"/>
<circle cx="330.1" cy="636.7" r="2.0" fill="#fbc440" fill-opacity="0.7" stroke="#fbc440" stroke-width="1.3"/>
<circle cx="335.9" cy="635.7" r="2.0" fill="#fdc83b" fill-opacity="0.7" stroke="#fdc83b" stroke-width="1.3"/>
<circle cx="332.7" cy="637.0" r="2.0" fill="#ffcc33" fill-opacity="0.7" stroke="#ffcc33" stroke-width="1.3"/>
<circle cx="332.3" cy="637.3" r="2.0" fill="#f9c046" fill-opacity="0.7" stroke="#f9c046" stroke-width="1.3"/>
<circle cx="330.8" cy="636.2" r="2.0" fill="#f9c145" fill-opacity="0.7" stroke="#f9c145" stroke-width="1.3"/>
<circle cx="332.6" cy="635.5" r="2.0" fill="#fac145" fill-opacity="0.7" stroke="#fac145" stroke-width="1.3"/>
<circle cx="328.5" cy="636.2" r="2.0" fill="#fcc63d" fill-opacity="0.7" stroke="#fcc63d" stroke-width="1.3"/>
<circle cx="334.8" cy="634.9" r="2.0" fill="#fdc73b" fill-opacity="0.7" stroke="#fdc73b" stroke-width="1.3"/>
<circle cx="329.4" cy="636.6" r="2.0" fill="#fac244" fill-opacity="0.7" stroke="#fac244" stroke-width="1.3"/>
<circle cx="327.4" cy="638.0" r="2.0" fill="#fdc83a" fill-opacity="0.7" stroke="#fdc83a" stroke-width="1.3"/>
<circle cx="330.7" cy="635.0" r="2.0" fill="#fcc63d" fill-opacity="0.7" stroke="#fcc63d" stroke-width="1.3"/>
<circle cx="338.0" cy="637.0" r="2.0" fill="#fac243" fill-opacity="0.7" stroke="#fac243" stroke-width="1.3"/>
<circle cx="328.0" cy="635.4" r="2.0" fill="#fec938" fill-opacity="0.7" stroke="#fec938" stroke-width="1.3"/>
<circle cx="331.9" cy="637.1" r="2.0" fill="#fac243" fill-opacity="0.7" stroke="#fac243" stroke-width="1.3"/>
<circle cx="336.6" cy="636.5" r="2.0" fill="#ffcc33" fill-opacity="0.7" stroke="#ffcc33" stroke-width="1.3"/>
<circle cx="332.3" cy="637.2" r="2.0" fill="#fac243" fill-opacity="0.7" stroke="#fac243" stroke-width="1.3"/>
<circle cx="337.0" cy="636.8" r="2.0" fill="#fbc53f" fill-opacity="0.7" stroke="#fbc53f" stroke-width="1.3"/>
<circle cx="332.6" cy="637.4" r="2.0" fill="#fcc53f" fill-opacity="0.7" stroke="#fcc53f" stroke-width="1.3"/>
<circle cx="333.4" cy="634.8" r="2.0" fill="#fbc440" fill-opacity="0.7" stroke="#fbc440" stroke-width="1.3"/>
<circle cx="329.9" cy="637.8" r="2.0" fill="#ffcc33" fill-opacity="0.7" stroke="#ffcc33" stroke-width="1.3"/>
<circle cx="334.9" cy="638.3" r="2.0" fill="#fbc440" fill-opacity="0.7" stroke="#fbc440" stroke-width="1.3"/>
<circle cx="328.6" cy="638.0" r="2.0" fill="#fac243" fill-opacity="0.7" stroke="#fac243" stroke-width="1.3"/>
<circle cx="331.6" cy="635.0" r="2.0" fill="#fec938" fill-opacity="0.7" stroke="#fec938" stroke-width="1.3"/>
<circle cx="329.4" cy="635.3" r="2.0" fill="#fdc83b" fill-opacity="0.7" stroke="#fdc83b" stroke-width="1.3"/>
<circle cx="332.8" cy="638.6" r="2.0" fill="#ffcc33" fill-opacity="0.7" stroke="#ffcc33" stroke-width="1.3"/>
<circle cx="331.7" cy="633.8" r="2.0" fill="#ffcc33" fill-opacity="0.7" stroke="#ffcc33" stroke-width="1.3"/>
<circle cx="335.4" cy="636.7" r="2.0" fill="#f9c046" fill-opacity="0.7" stroke="#f9c046" stroke-width="1.3"/>
<circle cx="329.8" cy="633.6" r="2.0" fill="#fdc83a" fill-opacity="0.7" stroke="#fdc83a" stroke-width="1.3"/>
<circle cx="332.0" cy="638.7" r="2.0" fill="#f9c047" fill-opacity="0.7" stroke="#f9c047" stroke-width="1.3"/>
<circle cx="330.2" cy="635.8" r="2.0" fill="#ffcc33" fill-opacity="0.7" stroke="#ffcc33" stroke-width="1.3"/>
<circle cx="332.9" cy="634.8" r="2.0" fill="#ffcc34" fill-opacity="0.7" stroke="#ffcc34" stroke-width="1.3"/>
<circle cx="333.5" cy="634.4" r="2.0" fill="#f9c047" fill-opacity="0.7" stroke="#f9c047" stroke-width="1.3"/>
<circle cx="334.0" cy="635.0" r="2.0" fill="#fac342" fill-opacity="0.7" stroke="#fac342" stroke-width="1.3"/>
<circle cx="334.9" cy="637.4" r="2.0" fill="#fac144" fill-opacity="0.7" stroke="#fac144" stroke-width="1.3"/>
<circle cx="334.2" cy="634.2" r="2.0" fill="#fbc540" fill-opacity="0.7" stroke="#fbc540" stroke-width="1.3"/>
<circle cx="333.9" cy="636.1" r="2.0" fill="#f9c046" fill-opacity="0.7" stroke="#f9c046" stroke-width="1.3"/>
<circle cx="327.7" cy="637.5" r="2.0" fill="#ffcb34" fill-opacity="0.7" stroke="#ffcb34" stroke-width="1.3"/>
<circle cx="336.2" cy="636.3" r="2.0" fill="#ffcc33" fill-opacity="0.7" stroke="#ffcc33" stroke-width="1.3"/>
<circle cx="328.5" cy="636.7" r="2.0" fill="#fdc73b" fill-opacity="0.7" stroke="#fdc73b" stroke-width="1.3"/>
<circle cx="333.4" cy="634.5" r="2.0" fill="#fac243" fill-opacity="0.7" stroke="#fac243" stroke-width="1.3"/>
<circle cx="328.5" cy="637.1" r="2.0" fill="#fbc540" fill-opacity="0.7" stroke="#fbc540" stroke-width="1.3"/>
<circle cx="329.3" cy="635.7" r="2.0" fill="#fac243" fill-opacity="0.7" stroke="#fac243" stroke-width="1.3"/>
<circle cx="331.6" cy="635.2" r="2.0" fill="#ffcc33" fill-opacity="0.7" stroke="#ffcc33" stroke-width="1.3"/>
<circle cx="335.7" cy="635.5" r="2.0" fill="#fbc53f" fill-opacity="0.7" stroke="#fbc53f" stroke-width="1.3"/>
<circle cx="332.2" cy="635.3" r="2.0" fill="#fdc83b" fill-opacity="0.7" stroke="#fdc83b" stroke-width="1.3"/>
<circle cx="336.7" cy="635.8" r="2.0" fill="#fbc441" fill-opacity="0.7" stroke="#fbc441" stroke-width="1.3"/>
<circle cx="332.2" cy="638.5" r="2.0" fill="#fac243" fill-opacity="0.7" stroke="#fac243" stroke-width="1.3"/>
<circle cx="326.9" cy="635.9" r="2.0" fill="#fcc53f" fill-opacity="0.7" stroke="#fcc53f" stroke-width="1.3"/>
<circle cx="335.5" cy="638.1" r="2.0" fill="#ffcc33" fill-opacity="0.7" stroke="#ffcc33" stroke-width="1.3"/>
<circle cx="335.8" cy="637.8" r="2.0" fill="#f9c145" fill-opacity="0.7" stroke="#f9c145" stroke-width="1.3"/>
<circle cx="331.7" cy="635.1" r="2.0" fill="#fac144" fill-opacity="0.7" stroke="#fac144" stroke-width="1.3"/>
<circle cx="335.4" cy="637.2" r="2.0" fill="#f9c146" fill-opacity="0.7" stroke="#f9c146" stroke-width="1.3"/>
<circle cx="328.2" cy="634.1" r="2.0" fill="#fcc63e" fill-opacity="0.7" stroke="#fcc63e" stroke-width="1.3"/>
<circle cx="335.2" cy="634.9" r="2.0" fill="#fac342" fill-opacity="0.7" stroke="#fac342" stroke-width="1.3"/>
<circle cx="332.3" cy="637.3" r="2.0" fill="#fcc73c" fill-opacity="0.7" stroke="#fcc73c" stroke-width="1.3"/>
<circle cx="326.0" cy="635.1" r="2.0" fill="#fac342" fill-opacity="0.7" stroke="#fac342" stroke-width="1.3"/>
<circle cx="335.1" cy="636.1" r="2.0" fill="#ffcc33" fill-opacity="0.7" stroke="#ffcc33" stroke-width="1.3"/>
<circle cx="335.4" cy="637.6" r="2.0" fill="#feca36" fill-opacity="0.7" stroke="#feca36" stroke-width="1.3"/>
<circle cx="331.8" cy="638.5" r="2.0" fill="#f9c145" fill-opacity="0.7" stroke="#f9c145" stroke-width="1.3"/>
<circle cx="330.9" cy="636.2" r="2.0" fill="#fcc53f" fill-opacity="0.7" stroke="#fcc53f" stroke-width="1.3"/>
<circle cx="325.8" cy="634.9" r="2.0" fill="#ffcb35" fill-opacity="0.7" stroke="#ffcb35" stroke-width="1.3"/>
<circle cx="333.7" cy="635.6" r="2.0" fill="#fcc63e" fill-opacity="0.7" stroke="#fcc63e" stroke-width="1.3"/>
<circle cx="329.1" cy="636.4" r="2.0" fill="#ffcc34" fill-opacity="0.7" stroke="#ffcc34" stroke-width="1.3"/>
<circle cx="328.6" cy="634.2" r="2.0" fill="#fbc540" fill-opacity="0.7" stroke="#fbc540" stroke-width="1.3"/>
<circle cx="335.1" cy="634.7" r="2.0" fill="#fcc53f" fill-opacity="0.7" stroke="#fcc53f" stroke-width="1.3"/>
<circle cx="328.2" cy="636.4" r="2.0" fill="#ffcc33" fill-opacity="0.7" stroke="#ffcc33" stroke-width="1.3"/>
<circle cx="336.3" cy="636.3" r="2.0" fill="#fcc63e" fill-opacity="0.7" stroke="#fcc63e" stroke-width="1.3"/>
<circle cx="326.9" cy="637.7" r="2.0" fill="#fdc83b" fill-opacity="0.7" stroke="#fdc83b" stroke-width="1.3"/>
<circle cx="325.9" cy="634.8" r="2.0" fill="#ffcc33" fill-opacity="0.7" stroke="#ffcc33" stroke-width="1.3"/>
<circle cx="323.6" cy="636.6" r="2.0" fill="#f9c145" fill-opacity="0.7" stroke="#f9c145" stroke-width="1.3"/>
<circle cx="329.9" cy="638.8" r="2.0" fill="#f9c146" fill-opacity="0.7" stroke="#f9c146" stroke-width="1.3"/>
<circle cx="323.8" cy="636.7" r="2.0" fill="#fdc83a" fill-opacity="0.7" stroke="#fdc83a" stroke-width="1.3"/>
<circle cx="326.8" cy="636.6" r="2.0" fill="#fbc540" fill-opacity="0.7" stroke="#fbc540" stroke-width="1.3"/>
<circle cx="342.0" cy="636.8" r="2.0" fill="#f5b851" fill-opacity="0.7" stroke="#f5b851" stroke-width="1.3"/>
<circle cx="343.7" cy="636.2" r="2.0" fill="#f6ba4e" fill-opacity="0.7" stroke="#f6ba4e" stroke-width="1.3"/>
<circle cx="345.3" cy="636.0" r="2.0" fill="#f3b554" fill-opacity="0.7" stroke="#f3b554" stroke-width="1.3"/>
<circle cx="347.0" cy="636.8" r="2.0" fill="#f7bd4b" fill-opacity="0.7" stroke="#f7bd4b" stroke-width="1.3"/>
<circle cx="348.6" cy="635.9" r="2.0" fill="#f7bd4b" fill-opacity="0.7" stroke="#f7bd4b" stroke-width="1.3"/>
<circle cx="350.3" cy="636.2" r="2.0" fill="#f3b554" fill-opacity="0.7" stroke="#f3b554" stroke-width="1.3"/>
<circle cx="351.9" cy="636.7" r="2.0" fill="#f4b653" fill-opacity="0.7" stroke="#f4b653" stroke-width="1.3"/>
<circle cx="353.6" cy="635.9" r="2.0" fill="#f4b752" fill-opacity="0.7" stroke="#f4b752" stroke-width="1.3"/>
<circle cx="355.2" cy="636.5" r="2.0" fill="#f5b850" fill-opacity="0.7" stroke="#f5b850" stroke-width="1.3"/>
<circle cx="356.9" cy="636.8" r="2.0" fill="#f8bf48" fill-opacity="0.7" stroke="#f8bf48" stroke-width="1.3"/>
<circle cx="358.6" cy="636.0" r="2.0" fill="#f4b752" fill-opacity="0.7" stroke="#f4b752" stroke-width="1.3"/>
<circle cx="360.2" cy="636.8" r="2.0" fill="#f5b851" fill-opacity="0.7" stroke="#f5b851" stroke-width="1.3"/>
<circle cx="361.9" cy="636.1" r="2.0" fill="#f5b950" fill-opacity="0.7" stroke="#f5b950" stroke-width="1.3"/>
<circle cx="363.5" cy="636.6" r="2.0" fill="#f8be49" fill-opacity="0.7" stroke="#f8be49" stroke-width="1.3"/>
<circle cx="365.2" cy="636.1" r="2.0" fill="#f7bc4b" fill-opacity="0.7" stroke="#f7bc4b" stroke-width="1.3"/>
<circle cx="366.8" cy="635.9" r="2.0" fill="#f6ba4e" fill-opacity="0.7" stroke="#f6ba4e" stroke-width="1.3"/>
<circle cx="368.5" cy="636.0" r="2.0" fill="#f7bd4b" fill-opacity="0.7" stroke="#f7bd4b" stroke-width="1.3"/>
<circle cx="373.4" cy="636.3" r="2.0" fill="#f4b653" fill-opacity="0.7" stroke="#f4b653" stroke-width="1.3"/>
<circle cx="378.2" cy="636.3" r="2.0" fill="#f4b653" fill-opacity="0.7" stroke="#f4b653" stroke-width="1.3"/>
<circle cx="394.5" cy="636.3" r="2.0" fill="#e69f6b" fill-opacity="0.7" stroke="#e69f6b" stroke-width="1.3"/>
<circle cx="423.6" cy="636.3" r="2.0" fill="#9839b5" fill-opacity="0.7" stroke="#9839b5" stroke-width="1.3"/>
<circle cx="510.6" cy="636.3" r="2.0" fill="#6600cc" fill-opacity="0.7" stroke="#6600cc" stroke-width="1.3"/>
<circle cx="235.0" cy="657.1" r="2.0" fill="#6600cc" fill-opacity="0.7" stroke="#6600cc" stroke-width="1.3"/>
<circle cx="290.7" cy="657.1" r="2.0" fill="#e19673" fill-opacity="0.7" stroke="#e19673" stroke-width="1.3"/>
<circle cx="304.7" cy="657.1" r="2.0" fill="#e69f6b" fill-opacity="0.7" stroke="#e69f6b" stroke-width="1.3"/>
<circle cx="316.9" cy="657.2" r="2.0" fill="#f1b257" fill-opacity="0.7" stroke="#f1b257" stroke-width="1.3"/>
<circle cx="327.9" cy="656.9" r="2.0" fill="#f1b258" fill-opacity="0.7" stroke="#f1b258" stroke-width="1.3"/>
<circle cx="322.7" cy="656.8" r="2.0" fill="#e29871" fill-opacity="0.7" stroke="#e29871" stroke-width="1.3"/>
<circle cx="330.4" cy="657.2" r="2.0" fill="#eaa664" fill-opacity="0.7" stroke="#eaa664" stroke-width="1.3"/>
<circle cx="320.7" cy="657.3" r="2.0" fill="#eaa565" fill-opacity="0.7" stroke="#eaa565" stroke-width="1.3"/>
<circle cx="326.2" cy="656.8" r="2.0" fill="#eeac5e" fill-opacity="0.7" stroke="#eeac5e" stroke-width="1.3"/>
<circle cx="315.2" cy="657.2" r="2.0" fill="#e8a367" fill-opacity="0.7" stroke="#e8a367" stroke-width="1.3"/>
<circle cx="319.2" cy="657.0" r="2.0" fill="#efae5c" fill-opacity="0.7" stroke="#efae5c" stroke-width="1.3"/>
<circle cx="319.3" cy="657.3" r="2.0" fill="#eca961" fill-opacity="0.7" stroke="#eca961" stroke-width="1.3"/>
<circle cx="317.3" cy="657.1" r="2.0" fill="#eca961" fill-opacity="0.7" stroke="#eca961" stroke-width="1.3"/>
<circle cx="331.4" cy="657.2" r="2.0" fill="#eead5d" fill-opacity="0.7" stroke="#eead5d" stroke-width="1.3"/>
<circle cx="323.3" cy="656.9" r="2.0" fill="#edab5f" fill-opacity="0.7" stroke="#edab5f" stroke-width="1.3"/>
<circle cx="318.0" cy="657.0" r="2.0" fill="#e19673" fill-opacity="0.7" stroke="#e19673" stroke-width="1.3"/>
<circle cx="316.0" cy="657.0" r="2.0" fill="#e29970" fill-opacity="0.7" stroke="#e29970" stroke-width="1.3"/>
<circle cx="315.2" cy="657.2" r="2.0" fill="#edaa60" fill-opacity="0.7" stroke="#edaa60" stroke-width="1.3"/>
<circle cx="329.7" cy="657.0" r="2.0" fill="#efaf5b" fill-opacity="0.7" stroke="#efaf5b" stroke-width="1.3"/>
<circle cx="324.3" cy="656.8" r="2.0" fill="#eaa664" fill-opacity="0.7" stroke="#eaa664" stroke-width="1.3"/>
<circle cx="331.7" cy="656.9" r="2.0" fill="#e8a268" fill-opacity="0.7" stroke="#e8a268" stroke-width="1.3"/>
<circle cx="316.8" cy="656.9" r="2.0" fill="#e59c6d" fill-opacity="0.7" stroke="#e59c6d" stroke-width="1.3"/>
<circle cx="327.8" cy="656.9" r="2.0" fill="#f0b059" fill-opacity="0.7" stroke="#f0b059" stroke-width="1.3"/>
<circle cx="315.8" cy="657.1" r="2.0" fill="#e9a466" fill-opacity="0.7" stroke="#e9a466" stroke-width="1.3"/>
<circle cx="319.4" cy="656.9" r="2.0" fill="#e7a169" fill-opacity="0.7" stroke="#e7a169" stroke-width="1.3"/>
<circle cx="327.8" cy="657.3" r="2.0" fill="#e8a268" fill-opacity="0.7" stroke="#e8a268" stroke-width="1.3"/>
<circle cx="328.2" cy="657.0" r="2.0" fill="#e59e6c" fill-opacity="0.7" stroke="#e59e6c" stroke-width="1.3"/>
<circle cx="320.6" cy="657.3" r="2.0" fill="#e39a6f" fill-opacity="0.7" stroke="#e39a6f" stroke-width="1.3"/>
<circle cx="323.6" cy="656.7" r="2.0" fill="#e29871" fill-opacity="0.7" stroke="#e29871" stroke-width="1.3"/>
<circle cx="323.3" cy="657.4" r="2.0" fill="#edab5f" fill-opacity="0.7" stroke="#edab5f" stroke-width="1.3"/>
<circle cx="317.7" cy="657.3" r="2.0" fill="#eca862" fill-opacity="0.7" stroke="#eca862" stroke-width="1.3"/>
<circle cx="317.3" cy="657.0" r="2.0" fill="#e8a168" fill-opacity="0.7" stroke="#e8a168" stroke-width="1.3"/>
<circle cx="314.2" cy="657.1" r="2.0" fill="#eaa664" fill-opacity="0.7" stroke="#eaa664" stroke-width="1.3"/>
<circle cx="324.1" cy="656.8" r="2.0" fill="#e69e6c" fill-opacity="0.7" stroke="#e69e6c" stroke-width="1.3"/>
<circle cx="329.9" cy="657.3" r="2.0" fill="#eca961" fill-opacity="0.7" stroke="#eca961" stroke-width="1.3"/>
<circle cx="327.8" cy="657.0" r="2.0" fill="#e59d6d" fill-opacity="0.7" stroke="#e59d6d" stroke-width="1.3"/>
<circle cx="332.5" cy="657.1" r="2.0" fill="#e9a466" fill-opacity="0.7" stroke="#e9a466" stroke-width="1.3"/>
<circle cx="324.3" cy="657.1" r="2.0" fill="#f1b258" fill-opacity="0.7" stroke="#f1b258" stroke-width="1.3"/>
<circle cx="318.9" cy="657.3" r="2.0" fill="#f1b258" fill-opacity="0.7" stroke="#f1b258" stroke-width="1.3"/>
<circle cx="316.0" cy="657.2" r="2.0" fill="#eead5d" fill-opacity="0.7" stroke="#eead5d" stroke-width="1.3"/>
<circle cx="314.4" cy="657.1" r="2.0" fill="#e8a268" fill-opacity="0.7" stroke="#e8a268" stroke-width="1.3"/>
<circle cx="324.2" cy="657.2" r="2.0" fill="#f0b05a" fill-opacity="0.7" stroke="#f0b05a" stroke-width="1.3"/>
<circle cx="330.9" cy="657.2" r="2.0" fill="#f1b158" fill-opacity="0.7" stroke="#f1b158" stroke-width="1.3"/>
<circle cx="316.5" cy="657.1" r="2.0" fill="#e9a466" fill-opacity="0.7" stroke="#e9a466" stroke-width="1.3"/>
<circle cx="319.5" cy="656.8" r="2.0" fill="#eba763" fill-opacity="0.7" stroke="#eba763" stroke-width="1.3"/>
<circle cx="316.7" cy="657.1" r="2.0" fill="#e39a6f" fill-opacity="0.7" stroke="#e39a6f" stroke-width="1.3"/>
<circle cx="316.9" cy="657.1" r="2.0" fill="#e59d6c" fill-opacity="0.7" stroke="#e59d6c" stroke-width="1.3"/>
<circle cx="317.3" cy="657.3" r="2.0" fill="#e29871" fill-opacity="0.7" stroke="#e29871" stroke-width="1.3"/>
<circle cx="321.6" cy="657.0" r="2.0" fill="#e39a6f" fill-opacity="0.7" stroke="#e39a6f" stroke-width="1.3"/>
<circle cx="324.2" cy="657.0" r="2.0" fill="#e29771" fill-opacity="0.7" stroke="#e29771" stroke-width="1.3"/>
<circle cx="329.1" cy="657.0" r="2.0" fill="#eeac5e" fill-opacity="0.7" stroke="#eeac5e" stroke-width="1.3"/>
<circle cx="320.6" cy="657.0" r="2.0" fill="#e19672" fill-opacity="0.7" stroke="#e19672" stroke-width="1.3"/>
<circle cx="329.8" cy="657.3" r="2.0" fill="#f1b159" fill-opacity="0.7" stroke="#f1b159" stroke-width="1.3"/>
<circle cx="324.1" cy="657.4" r="2.0" fill="#e29871" fill-opacity="0.7" stroke="#e29871" stroke-width="1.3"/>
<circle cx="318.9" cy="657.0" r="2.0" fill="#e7a069" fill-opacity="0.7" stroke="#e7a069" stroke-width="1.3"/>
<circle cx="321.1" cy="657.1" r="2.0" fill="#f0b159" fill-opacity="0.7" stroke="#f0b159" stroke-width="1.3"/>
<circle cx="322.5" cy="657.1" r="2.0" fill="#f1b258" fill-opacity="0.7" stroke="#f1b258" stroke-width="1.3"/>
<circle cx="326.3" cy="657.3" r="2.0" fill="#e39970" fill-opacity="0.7" stroke="#e39970" stroke-width="1.3"/>
<circle cx="326.5" cy="656.9" r="2.0" fill="#e69f6b" fill-opacity="0.7" stroke="#e69f6b" stroke-width="1.3"/>
<circle cx="336.2" cy="657.2" r="2.0" fill="#f3b455" fill-opacity="0.7" stroke="#f3b455" stroke-width="1.3"/>
<circle cx="345.9" cy="656.4" r="2.0" fill="#f7bd4a" fill-opacity="0.7" stroke="#f7bd4a" stroke-width="1.3"/>
<circle cx="340.7" cy="658.3" r="2.0" fill="#fac243" fill-opacity="0.7" stroke="#fac243" stroke-width="1.3"/>
<circle cx="337.1" cy="657.4" r="2.0" fill="#fcc63e" fill-opacity="0.7" stroke="#fcc63e" stroke-width="1.3"/>
<circle cx="345.1" cy="658.3" r="2.0" fill="#f7bd4a" fill-opacity="0.7" stroke="#f7bd4a" stroke-width="1.3"/>
<circle cx="336.1" cy="657.0" r="2.0" fill="#f7bd4b" fill-opacity="0.7" stroke="#f7bd4b" stroke-width="1.3"/>
<circle cx="332.3" cy="656.6" r="2.0" fill="#f9c047" fill-opacity="0.7" stroke="#f9c047" stroke-width="1.3"/>
<circle cx="336.6" cy="656.5" r="2.0" fill="#fcc63d" fill-opacity="0.7" stroke="#fcc63d" stroke-width="1.3"/>
<circle cx="343.8" cy="658.0" r="2.0" fill="#f6bb4d" fill-opacity="0.7" stroke="#f6bb4d" stroke-width="1.3"/>
<circle cx="344.5" cy="657.5" r="2.0" fill="#fbc441" fill-opacity="0.7" stroke="#fbc441" stroke-width="1.3"/>
<circle cx="348.3" cy="657.0" r="2.0" fill="#f7bc4b" fill-opacity="0.7" stroke="#f7bc4b" stroke-width="1.3"/>
<circle cx="345.6" cy="657.0" r="2.0" fill="#fac244" fill-opacity="0.7" stroke="#fac244" stroke-width="1.3"/>
<circle cx="335.3" cy="656.4" r="2.0" fill="#f7bd4a" fill-opacity="0.7" stroke="#f7bd4a" stroke-width="1.3"/>
<circle cx="339.3" cy="657.3" r="2.0" fill="#fdc83a" fill-opacity="0.7" stroke="#fdc83a" stroke-width="1.3"/>
<circle cx="338.4" cy="658.0" r="2.0" fill="#fac342" fill-opacity="0.7" stroke="#fac342" stroke-width="1.3"/>
<circle cx="344.1" cy="657.1" r="2.0" fill="#fac243" fill-opacity="0.7" stroke="#fac243" stroke-width="1.3"/>
<circle cx="350.1" cy="656.3" r="2.0" fill="#fcc73c" fill-opacity="0.7" stroke="#fcc73c" stroke-width="1.3"/>
<circle cx="352.8" cy="656.9" r="2.0" fill="#fcc73c" fill-opacity="0.7" stroke="#fcc73c" stroke-width="1.3"/>
<circle cx="339.4" cy="656.9" r="2.0" fill="#f5b850" fill-opacity="0.7" stroke="#f5b850" stroke-width="1.3"/>
<circle cx="331.6" cy="656.5" r="2.0" fill="#f2b456" fill-opacity="0.7" stroke="#f2b456" stroke-width="1.3"/>
<circle cx="349.1" cy="656.3" r="2.0" fill="#f9c145" fill-opacity="0.7" stroke="#f9c145" stroke-width="1.3"/>
<circle cx="338.4" cy="657.5" r="2.0" fill="#f6bb4d" fill-opacity="0.7" stroke="#f6bb4d" stroke-width="1.3"/>
<circle cx="352.2" cy="657.8" r="2.0" fill="#f7bd4a" fill-opacity="0.7" stroke="#f7bd4a" stroke-width="1.3"/>
<circle cx="349.1" cy="657.7" r="2.0" fill="#f4b851" fill-opacity="0.7" stroke="#f4b851" stroke-width="1.3"/>
<circle cx="341.8" cy="657.9" r="2.0" fill="#f5b950" fill-opacity="0.7" stroke="#f5b950" stroke-width="1.3"/>
<circle cx="349.9" cy="657.3" r="2.0" fill="#f8be4a" fill-opacity="0.7" stroke="#f8be4a" stroke-width="1.3"/>
<circle cx="355.4" cy="657.2" r="2.0" fill="#f8bf47" fill-opacity="0.7" stroke="#f8bf47" stroke-width="1.3"/>
<circle cx="350.4" cy="657.9" r="2.0" fill="#f6bb4d" fill-opacity="0.7" stroke="#f6bb4d" stroke-width="1.3"/>
<circle cx="339.2" cy="657.0" r="2.0" fill="#f8be49" fill-opacity="0.7" stroke="#f8be49" stroke-width="1.3"/>
<circle cx="348.7" cy="656.6" r="2.0" fill="#f9c047" fill-opacity="0.7" stroke="#f9c047" stroke-width="1.3"/>
<circle cx="344.0" cy="656.8" r="2.0" fill="#fac144" fill-opacity="0.7" stroke="#fac144" stroke-width="1.3"/>
<circle cx="350.5" cy="657.9" r="2.0" fill="#f8bd4a" fill-opacity="0.7" stroke="#f8bd4a" stroke-width="1.3"/>
<circle cx="340.9" cy="656.2" r="2.0" fill="#fac244" fill-opacity="0.7" stroke="#fac244" stroke-width="1.3"/>
<circle cx="332.6" cy="657.2" r="2.0" fill="#f7bc4c" fill-opacity="0.7" stroke="#f7bc4c" stroke-width="1.3"/>
<circle cx="337.6" cy="657.9" r="2.0" fill="#f4b653" fill-opacity="0.7" stroke="#f4b653" stroke-width="1.3"/>
<circle cx="340.5" cy="658.2" r="2.0" fill="#fdc83a" fill-opacity="0.7" stroke="#fdc83a" stroke-width="1.3"/>
<circle cx="329.9" cy="657.2" r="2.0" fill="#f8be4a" fill-opacity="0.7" stroke="#f8be4a" stroke-width="1.3"/>
<circle cx="343.6" cy="658.4" r="2.0" fill="#f7bd4a" fill-opacity="0.7" stroke="#f7bd4a" stroke-width="1.3"/>
<circle cx="343.0" cy="657.6" r="2.0" fill="#f9c047" fill-opacity="0.7" stroke="#f9c047" stroke-width="1.3"/>
<circle cx="338.5" cy="657.3" r="2.0" fill="#f9c145" fill-opacity="0.7" stroke="#f9c145" stroke-width="1.3"/>
<circle cx="355.0" cy="657.4" r="2.0" fill="#f7bd4a" fill-opacity="0.7" stroke="#f7bd4a" stroke-width="1.3"/>
<circle cx="331.4" cy="656.8" r="2.0" fill="#f9c047" fill-opacity="0.7" stroke="#f9c047" stroke-width="1.3"/>
<circle cx="344.2" cy="657.3" r="2.0" fill="#f3b554" fill-opacity="0.7" stroke="#f3b554" stroke-width="1.3"/>
<circle cx="355.4" cy="657.1" r="2.0" fill="#f8bf48" fill-opacity="0.7" stroke="#f8bf48" stroke-width="1.3"/>
<circle cx="338.1" cy="657.2" r="2.0" fill="#f4b752" fill-opacity="0.7" stroke="#f4b752" stroke-width="1.3"/>
<circle cx="333.3" cy="656.7" r="2.0" fill="#f2b356" fill-opacity="0.7" stroke="#f2b356" stroke-width="1.3"/>
<circle cx="351.6" cy="657.1" r="2.0" fill="#fcc63e" fill-opacity="0.7" stroke="#fcc63e" stroke-width="1.3"/>
<circle cx="353.5" cy="657.5" r="2.0" fill="#f4b752" fill-opacity="0.7" stroke="#f4b752" stroke-width="1.3"/>
<circle cx="340.3" cy="656.2" r="2.0" fill="#fac243" fill-opacity="0.7" stroke="#fac243" stroke-width="1.3"/>
<circle cx="342.8" cy="657.1" r="2.0" fill="#fbc440" fill-opacity="0.7" stroke="#fbc440" stroke-width="1.3"/>
<circle cx="333.7" cy="657.4" r="2.0" fill="#f6bb4d" fill-opacity="0.7" stroke="#f6bb4d" stroke-width="1.3"/>
<circle cx="346.3" cy="655.9" r="2.0" fill="#f9bf47" fill-opacity="0.7" stroke="#f9bf47" stroke-width="1.3"/>
<circle cx="350.5" cy="656.6" r="2.0" fill="#f5b94f" fill-opacity="0.7" stroke="#f5b94f" stroke-width="1.3"/>
<circle cx="352.0" cy="657.3" r="2.0" fill="#f6ba4e" fill-opacity="0.7" stroke="#f6ba4e" stroke-width="1.3"/>
<circle cx="334.1" cy="657.1" r="2.0" fill="#f7bc4b" fill-opacity="0.7" stroke="#f7bc4b" stroke-width="1.3"/>
<circle cx="336.0" cy="657.4" r="2.0" fill="#f7bd4b" fill-opacity="0.7" stroke="#f7bd4b" stroke-width="1.3"/>
<circle cx="340.0" cy="656.1" r="2.0" fill="#fbc53f" fill-opacity="0.7" stroke="#fbc53f" stroke-width="1.3"/>
<circle cx="349.7" cy="656.2" r="2.0" fill="#fcc63d" fill-opacity="0.7" stroke="#fcc63d" stroke-width="1.3"/>
<circle cx="333.3" cy="657.1" r="2.0" fill="#f4b653" fill-opacity="0.7" stroke="#f4b653" stroke-width="1.3"/>
<circle cx="345.6" cy="657.9" r="2.0" fill="#fcc73c" fill-opacity="0.7" stroke="#fcc73c" stroke-width="1.3"/>
<circle cx="337.6" cy="657.6" r="2.0" fill="#f9c145" fill-opacity="0.7" stroke="#f9c145" stroke-width="1.3"/>
<circle cx="333.3" cy="656.6" r="2.0" fill="#fcc63d" fill-opacity="0.7" stroke="#fcc63d" stroke-width="1.3"/>
<circle cx="353.7" cy="657.3" r="2.0" fill="#f9c145" fill-opacity="0.7" stroke="#f9c145" stroke-width="1.3"/>
<circle cx="341.1" cy="656.8" r="2.0" fill="#fdc73c" fill-opacity="0.7" stroke="#fdc73c" stroke-width="1.3"/>
<circle cx="353.4" cy="657.3" r="2.0" fill="#f2b356" fill-opacity="0.7" stroke="#f2b356" stroke-width="1.3"/>
<circle cx="340.8" cy="657.4" r="2.0" fill="#fac342" fill-opacity="0.7" stroke="#fac342" stroke-width="1.3"/>
<circle cx="352.4" cy="656.7" r="2.0" fill="#f3b554" fill-opacity="0.7" stroke="#f3b554" stroke-width="1.3"/>
<circle cx="351.3" cy="656.6" r="2.0" fill="#f6bb4d" fill-opacity="0.7" stroke="#f6bb4d" stroke-width="1.3"/>
<circle cx="355.3" cy="657.1" r="2.0" fill="#f2b456" fill-opacity="0.7" stroke="#f2b456" stroke-width="1.3"/>
<circle cx="335.4" cy="656.8" r="2.0" fill="#f5b950" fill-opacity="0.7" stroke="#f5b950" stroke-width="1.3"/>
<circle cx="334.8" cy="656.6" r="2.0" fill="#f3b554" fill-opacity="0.7" stroke="#f3b554" stroke-width="1.3"/>
<circle cx="342.1" cy="657.9" r="2.0" fill="#fac342" fill-opacity="0.7" stroke="#fac342" stroke-width="1.3"/>
<circle cx="333.4" cy="656.8" r="2.0" fill="#fbc440" fill-opacity="0.7" stroke="#fbc440" stroke-width="1.3"/>
<circle cx="344.2" cy="656.0" r="2.0" fill="#f7bd4b" fill-opacity="0.7" stroke="#f7bd4b" stroke-width="1.3"/>
<circle cx="339.3" cy="656.8" r="2.0" fill="#fcc73c" fill-opacity="0.7" stroke="#fcc73c" stroke-width="1.3"/>
<circle cx="332.0" cy="657.8" r="2.0" fill="#f9c145" fill-opacity="0.7" stroke="#f9c145" stroke-width="1.3"/>
<circle cx="335.4" cy="656.3" r="2.0" fill="#fac243" fill-opacity="0.7" stroke="#fac243" stroke-width="1.3"/>
<circle cx="347.1" cy="656.7" r="2.0" fill="#fbc53f" fill-opacity="0.7" stroke="#fbc53f" stroke-width="1.3"/>
<circle cx="348.2" cy="656.1" r="2.0" fill="#fac243" fill-opacity="0.7" stroke="#fac243" stroke-width="1.3"/>
<circle cx="340.9" cy="658.0" r="2.0" fill="#f4b752" fill-opacity="0.7" stroke="#f4b752" stroke-width="1.3"/>
<circle cx="333.0" cy="656.8" r="2.0" fill="#f5b950" fill-opacity="0.7" stroke="#f5b950" stroke-width="1.3"/>
<circle cx="339.1" cy="658.3" r="2.0" fill="#fbc441" fill-opacity="0.7" stroke="#fbc441" stroke-width="1.3"/>
<circle cx="355.0" cy="657.1" r="2.0" fill="#fbc341" fill-opacity="0.7" stroke="#fbc341" stroke-width="1.3"/>
<circle cx="341.2" cy="656.1" r="2.0" fill="#f5b94f" fill-opacity="0.7" stroke="#f5b94f" stroke-width="1.3"/>
<circle cx="335.8" cy="658.0" r="2.0" fill="#f6bc4c" fill-opacity="0.7" stroke="#f6bc4c" stroke-width="1.3"/>
<circle cx="338.8" cy="656.4" r="2.0" fill="#f6bb4d" fill-opacity="0.7" stroke="#f6bb4d" stroke-width="1.3"/>
<circle cx="334.5" cy="657.9" r="2.0" fill="#fcc63e" fill-opacity="0.7" stroke="#fcc63e" stroke-width="1.3"/>
<circle cx="342.9" cy="657.2" r="2.0" fill="#fac243" fill-opacity="0.7" stroke="#fac243" stroke-width="1.3"/>
<circle cx="350.1" cy="656.8" r="2.0" fill="#f6ba4e" fill-opacity="0.7" stroke="#f6ba4e" stroke-width="1.3"/>
<circle cx="333.8" cy="677.4" r="2.0" fill="#f7bd4a" fill-opacity="0.7" stroke="#f7bd4a" stroke-width="1.3"/>
<circle cx="341.4" cy="677.5" r="2.0" fill="#f3b554" fill-opacity="0.7" stroke="#f3b554" stroke-width="1.3"/>
<circle cx="321.4" cy="677.9" r="2.0" fill="#f8be49" fill-opacity="0.7" stroke="#f8be49" stroke-width="1.3"/>
<circle cx="332.0" cy="677.4" r="2.0" fill="#fcc63d" fill-opacity="0.7" stroke="#fcc63d" stroke-width="1.3"/>
<circle cx="326.9" cy="677.3" r="2.0" fill="#fbc540" fill-opacity="0.7" stroke="#fbc540" stroke-width="1.3"/>
<circle cx="337.8" cy="677.4" r="2.0" fill="#f7bd4b" fill-opacity="0.7" stroke="#f7bd4b" stroke-width="1.3"/>
<circle cx="343.0" cy="678.3" r="2.0" fill="#efaf5b" fill-opacity="0.7" stroke="#efaf5b" stroke-width="1.3"/>
<circle cx="336.8" cy="678.2" r="2.0" fill="#f8be49" fill-opacity="0.7" stroke="#f8be49" stroke-width="1.3"/>
<circle cx="329.6" cy="678.2" r="2.0" fill="#f2b455" fill-opacity="0.7" stroke="#f2b455" stroke-width="1.3"/>
<circle cx="325.2" cy="678.5" r="2.0" fill="#f8be49" fill-opacity="0.7" stroke="#f8be49" stroke-width="1.3"/>
<circle cx="335.4" cy="677.2" r="2.0" fill="#fbc53f" fill-opacity="0.7" stroke="#fbc53f" stroke-width="1.3"/>
<circle cx="343.1" cy="678.2" r="2.0" fill="#f2b456" fill-opacity="0.7" stroke="#f2b456" stroke-width="1.3"/>
<circle cx="322.9" cy="677.3" r="2.0" fill="#f9c047" fill-opacity="0.7" stroke="#f9c047" stroke-width="1.3"/>
<circle cx="328.7" cy="676.9" r="2.0" fill="#f8bf47" fill-opacity="0.7" stroke="#f8bf47" stroke-width="1.3"/>
<circle cx="335.7" cy="677.2" r="2.0" fill="#f0b05a" fill-opacity="0.7" stroke="#f0b05a" stroke-width="1.3"/>
<circle cx="333.8" cy="678.3" r="2.0" fill="#f9c145" fill-opacity="0.7" stroke="#f9c145" stroke-width="1.3"/>
<circle cx="330.2" cy="678.2" r="2.0" fill="#f8be49" fill-opacity="0.7" stroke="#f8be49" stroke-width="1.3"/>
<circle cx="339.4" cy="677.4" r="2.0" fill="#fdc73c" fill-opacity="0.7" stroke="#fdc73c" stroke-width="1.3"/>
<circle cx="341.5" cy="678.0" r="2.0" fill="#fcc73c" fill-opacity="0.7" stroke="#fcc73c" stroke-width="1.3"/>
<circle cx="325.1" cy="677.1" r="2.0" fill="#f1b158" fill-opacity="0.7" stroke="#f1b158" stroke-width="1.3"/>
<circle cx="338.7" cy="677.0" r="2.0" fill="#f2b455" fill-opacity="0.7" stroke="#f2b455" stroke-width="1.3"/>
<circle cx="329.1" cy="678.4" r="2.0" fill="#f0b059" fill-opacity="0.7" stroke="#f0b059" stroke-width="1.3"/>
<circle cx="326.1" cy="677.0" r="2.0" fill="#eead5d" fill-opacity="0.7" stroke="#eead5d" stroke-width="1.3"/>
<circle cx="329.9" cy="678.8" r="2.0" fill="#f3b455" fill-opacity="0.7" stroke="#f3b455" stroke-width="1.3"/>
<circle cx="338.4" cy="678.5" r="2.0" fill="#f4b653" fill-opacity="0.7" stroke="#f4b653" stroke-width="1.3"/>
<circle cx="330.7" cy="676.8" r="2.0" fill="#f2b455" fill-opacity="0.7" stroke="#f2b455" stroke-width="1.3"/>
<circle cx="330.0" cy="677.9" r="2.0" fill="#efad5c" fill-opacity="0.7" stroke="#efad5c" stroke-width="1.3"/>
<circle cx="321.9" cy="678.3" r="2.0" fill="#fdc73c" fill-opacity="0.7" stroke="#fdc73c" stroke-width="1.3"/>
<circle cx="337.4" cy="678.5" r="2.0" fill="#f9c145" fill-opacity="0.7" stroke="#f9c145" stroke-width="1.3"/>
<circle cx="333.2" cy="678.9" r="2.0" fill="#f3b653" fill-opacity="0.7" stroke="#f3b653" stroke-width="1.3"/>
<circle cx="333.1" cy="677.3" r="2.0" fill="#fcc73c" fill-opacity="0.7" stroke="#fcc73c" stroke-width="1.3"/>
<circle cx="328.1" cy="677.7" r="2.0" fill="#fac343" fill-opacity="0.7" stroke="#fac343" stroke-width="1.3"/>
<circle cx="326.9" cy="677.1" r="2.0" fill="#f2b455" fill-opacity="0.7" stroke="#f2b455" stroke-width="1.3"/>
<circle cx="336.5" cy="677.3" r="2.0" fill="#fac144" fill-opacity="0.7" stroke="#fac144" stroke-width="1.3"/>
<circle cx="332.4" cy="677.7" r="2.0" fill="#efad5d" fill-opacity="0.7" stroke="#efad5d" stroke-width="1.3"/>
<circle cx="328.0" cy="677.4" r="2.0" fill="#efaf5b" fill-opacity="0.7" stroke="#efaf5b" stroke-width="1.3"/>
<circle cx="322.3" cy="678.0" r="2.0" fill="#f8bf48" fill-opacity="0.7" stroke="#f8bf48" stroke-width="1.3"/>
<circle cx="340.4" cy="677.9" r="2.0" fill="#f1b257" fill-opacity="0.7" stroke="#f1b257" stroke-width="1.3"/>
<circle cx="323.1" cy="678.1" r="2.0" fill="#f4b752" fill-opacity="0.7" stroke="#f4b752" stroke-width="1.3"/>
<circle cx="330.9" cy="678.4" r="2.0" fill="#f0b059" fill-opacity="0.7" stroke="#f0b059" stroke-width="1.3"/>
<circle cx="321.6" cy="677.5" r="2.0" fill="#f8be49" fill-opacity="0.7" stroke="#f8be49" stroke-width="1.3"/>
<circle cx="326.1" cy="677.2" r="2.0" fill="#f2b455" fill-opacity="0.7" stroke="#f2b455" stroke-width="1.3"/>
<circle cx="330.6" cy="677.0" r="2.0" fill="#f8bf48" fill-opacity="0.7" stroke="#f8bf48" stroke-width="1.3"/>
<circle cx="331.1" cy="677.5" r="2.0" fill="#fbc341" fill-opacity="0.7" stroke="#fbc341" stroke-width="1.3"/>
<circle cx="320.8" cy="678.2" r="2.0" fill="#eeac5e" fill-opacity="0.7" stroke="#eeac5e" stroke-width="1.3"/>
<circle cx="333.7" cy="677.0" r="2.0" fill="#f6ba4e" fill-opacity="0.7" stroke="#f6ba4e" stroke-width="1.3"/>
<circle cx="330.2" cy="677.2" r="2.0" fill="#f5b950" fill-opacity="0.7" stroke="#f5b950" stroke-width="1.3"/>
<circle cx="335.8" cy="678.1" r="2.0" fill="#efad5d" fill-opacity="0.7" stroke="#efad5d" stroke-width="1.3"/>
<circle cx="336.1" cy="677.3" r="2.0" fill="#f9c145" fill-opacity="0.7" stroke="#f9c145" stroke-width="1.3"/>
<circle cx="339.3" cy="678.5" r="2.0" fill="#f9c047" fill-opacity="0.7" stroke="#f9c047" stroke-width="1.3"/>
<circle cx="323.5" cy="678.1" r="2.0" fill="#f0b05a" fill-opacity="0.7" stroke="#f0b05a" stroke-width="1.3"/>
<circle cx="339.6" cy="678.5" r="2.0" fill="#f2b357" fill-opacity="0.7" stroke="#f2b357" stroke-width="1.3"/>
<circle cx="327.3" cy="677.2" r="2.0" fill="#f0b059" fill-opacity="0.7" stroke="#f0b059" stroke-width="1.3"/>
<circle cx="327.1" cy="677.6" r="2.0" fill="#f5b850" fill-opacity="0.7" stroke="#f5b850" stroke-width="1.3"/>
<circle cx="328.4" cy="678.5" r="2.0" fill="#fac144" fill-opacity="0.7" stroke="#fac144" stroke-width="1.3"/>
<circle cx="319.6" cy="678.0" r="2.0" fill="#f4b653" fill-opacity="0.7" stroke="#f4b653" stroke-width="1.3"/>
<circle cx="340.6" cy="678.2" r="2.0" fill="#efae5c" fill-opacity="0.7" stroke="#efae5c" stroke-width="1.3"/>
<circle cx="343.9" cy="677.8" r="2.0" fill="#f6ba4e" fill-opacity="0.7" stroke="#f6ba4e" stroke-width="1.3"/>
<circle cx="322.7" cy="677.5" r="2.0" fill="#f4b851" fill-opacity="0.7" stroke="#f4b851" stroke-width="1.3"/>
<circle cx="320.7" cy="678.2" r="2.0" fill="#fbc441" fill-opacity="0.7" stroke="#fbc441" stroke-width="1.3"/>
<circle cx="330.4" cy="678.9" r="2.0" fill="#fcc63e" fill-opacity="0.7" stroke="#fcc63e" stroke-width="1.3"/>
<circle cx="319.6" cy="677.7" r="2.0" fill="#fac342" fill-opacity="0.7" stroke="#fac342" stroke-width="1.3"/>
<circle cx="341.1" cy="678.5" r="2.0" fill="#f1b258" fill-opacity="0.7" stroke="#f1b258" stroke-width="1.3"/>
<circle cx="329.9" cy="677.4" r="2.0" fill="#f3b554" fill-opacity="0.7" stroke="#f3b554" stroke-width="1.3"/>
<circle cx="332.3" cy="677.7" r="2.0" fill="#f8bf48" fill-opacity="0.7" stroke="#f8bf48" stroke-width="1.3"/>
<circle cx="330.3" cy="678.2" r="2.0" fill="#f0b059" fill-opacity="0.7" stroke="#f0b059" stroke-width="1.3"/>
<circle cx="326.5" cy="677.7" r="2.0" fill="#f5b851" fill-opacity="0.7" stroke="#f5b851" stroke-width="1.3"/>
<circle cx="327.9" cy="677.2" r="2.0" fill="#fcc63e" fill-opacity="0.7" stroke="#fcc63e" stroke-width="1.3"/>
<circle cx="327.2" cy="677.8" r="2.0" fill="#eeac5e" fill-opacity="0.7" stroke="#eeac5e" stroke-width="1.3"/>
<circle cx="335.2" cy="678.5" r="2.0" fill="#fcc73c" fill-opacity="0.7" stroke="#fcc73c" stroke-width="1.3"/>
<circle cx="336.7" cy="678.1" r="2.0" fill="#f9c047" fill-opacity="0.7" stroke="#f9c047" stroke-width="1.3"/>
<circle cx="333.9" cy="678.8" r="2.0" fill="#f6ba4e" fill-opacity="0.7" stroke="#f6ba4e" stroke-width="1.3"/>
<circle cx="335.9" cy="677.4" r="2.0" fill="#f8be49" fill-opacity="0.7" stroke="#f8be49" stroke-width="1.3"/>
<circle cx="323.6" cy="678.2" r="2.0" fill="#f6bb4c" fill-opacity="0.7" stroke="#f6bb4c" stroke-width="1.3"/>
<circle cx="320.8" cy="678.1" r="2.0" fill="#f8be4a" fill-opacity="0.7" stroke="#f8be4a" stroke-width="1.3"/>
<circle cx="334.1" cy="677.7" r="2.0" fill="#f5b94f" fill-opacity="0.7" stroke="#f5b94f" stroke-width="1.3"/>
<circle cx="333.7" cy="677.6" r="2.0" fill="#fbc53f" fill-opacity="0.7" stroke="#fbc53f" stroke-width="1.3"/>
<circle cx="333.2" cy="677.0" r="2.0" fill="#f0af5a" fill-opacity="0.7" stroke="#f0af5a" stroke-width="1.3"/>
<circle cx="325.3" cy="677.0" r="2.0" fill="#f5b94f" fill-opacity="0.7" stroke="#f5b94f" stroke-width="1.3"/>
<circle cx="325.3" cy="677.8" r="2.0" fill="#f5b850" fill-opacity="0.7" stroke="#f5b850" stroke-width="1.3"/>
<circle cx="324.6" cy="678.0" r="2.0" fill="#fbc53f" fill-opacity="0.7" stroke="#fbc53f" stroke-width="1.3"/>
<circle cx="332.3" cy="678.0" r="2.0" fill="#fcc63d" fill-opacity="0.7" stroke="#fcc63d" stroke-width="1.3"/>
<circle cx="347.4" cy="677.8" r="2.0" fill="#db8e7a" fill-opacity="0.7" stroke="#db8e7a" stroke-width="1.3"/>
<circle cx="349.2" cy="677.8" r="2.0" fill="#dd9078" fill-opacity="0.7" stroke="#dd9078" stroke-width="1.3"/>
<circle cx="350.9" cy="677.8" r="2.0" fill="#d98a7c" fill-opacity="0.7" stroke="#d98a7c" stroke-width="1.3"/>
<circle cx="352.7" cy="677.8" r="2.0" fill="#d58481" fill-opacity="0.7" stroke="#d58481" stroke-width="1.3"/>
<circle cx="354.5" cy="677.8" r="2.0" fill="#d68680" fill-opacity="0.7" stroke="#d68680" stroke-width="1.3"/>
<circle cx="356.2" cy="677.8" r="2.0" fill="#d48382" fill-opacity="0.7" stroke="#d48382" stroke-width="1.3"/>
<circle cx="358.0" cy="677.8" r="2.0" fill="#d38184" fill-opacity="0.7" stroke="#d38184" stroke-width="1.3"/>
<circle cx="359.7" cy="677.8" r="2.0" fill="#6600cc" fill-opacity="0.7" stroke="#6600cc" stroke-width="1.3"/>
<circle cx="362.3" cy="677.8" r="2.0" fill="#d58482" fill-opacity="0.7" stroke="#d58482" stroke-width="1.3"/>
<circle cx="371.4" cy="677.8" r="2.0" fill="#ba609c" fill-opacity="0.7" stroke="#ba609c" stroke-width="1.3"/>
<circle cx="376.4" cy="677.8" r="2.0" fill="#ba609c" fill-opacity="0.7" stroke="#ba609c" stroke-width="1.3"/>
<circle cx="388.6" cy="677.8" r="2.0" fill="#6600cc" fill-opacity="0.7" stroke="#6600cc" stroke-width="1.3"/>
<circle cx="390.4" cy="677.8" r="2.0" fill="#6600cc" fill-opacity="0.7" stroke="#6600cc" stroke-width="1.3"/>
<circle cx="337.0" cy="697.8" r="2.0" fill="#efae5c" fill-opacity="0.7" stroke="#efae5c" stroke-width="1.3"/>
<circle cx="329.4" cy="697.9" r="2.0" fill="#eca961" fill-opacity="0.7" stroke="#eca961" stroke-width="1.3"/>
<circle cx="333.3" cy="699.2" r="2.0" fill="#fcc73c" fill-opacity="0.7" stroke="#fcc73c" stroke-width="1.3"/>
<circle cx="325.8" cy="698.4" r="2.0" fill="#ffcb34" fill-opacity="0.7" stroke="#ffcb34" stroke-width="1.3"/>
<circle cx="334.0" cy="698.0" r="2.0" fill="#f9c145" fill-opacity="0.7" stroke="#f9c145" stroke-width="1.3"/>
<circle cx="336.6" cy="698.5" r="2.0" fill="#eeac5e" fill-opacity="0.7" stroke="#eeac5e" stroke-width="1.3"/>
<circle cx="334.6" cy="699.4" r="2.0" fill="#f4b851" fill-opacity="0.7" stroke="#f4b851" stroke-width="1.3"/>
<circle cx="324.2" cy="699.1" r="2.0" fill="#f9c047" fill-opacity="0.7" stroke="#f9c047" stroke-width="1.3"/>
<circle cx="337.9" cy="698.9" r="2.0" fill="#efae5c" fill-opacity="0.7" stroke="#efae5c" stroke-width="1.3"/>
<circle cx="323.1" cy="698.4" r="2.0" fill="#f1b158" fill-opacity="0.7" stroke="#f1b158" stroke-width="1.3"/>
<circle cx="342.2" cy="699.0" r="2.0" fill="#feca36" fill-opacity="0.7" stroke="#feca36" stroke-width="1.3"/>
<circle cx="334.2" cy="697.7" r="2.0" fill="#f5b851" fill-opacity="0.7" stroke="#f5b851" stroke-width="1.3"/>
<circle cx="338.8" cy="697.9" r="2.0" fill="#edaa60" fill-opacity="0.7" stroke="#edaa60" stroke-width="1.3"/>
<circle cx="335.9" cy="698.1" r="2.0" fill="#fbc53f" fill-opacity="0.7" stroke="#fbc53f" stroke-width="1.3"/>
<circle cx="330.6" cy="699.4" r="2.0" fill="#f4b752" fill-opacity="0.7" stroke="#f4b752" stroke-width="1.3"/>
<circle cx="322.9" cy="699.1" r="2.0" fill="#fcc53f" fill-opacity="0.7" stroke="#fcc53f" stroke-width="1.3"/>
<circle cx="333.1" cy="698.1" r="2.0" fill="#f2b356" fill-opacity="0.7" stroke="#f2b356" stroke-width="1.3"/>
<circle cx="329.1" cy="697.8" r="2.0" fill="#eeac5e" fill-opacity="0.7" stroke="#eeac5e" stroke-width="1.3"/>
<circle cx="332.7" cy="699.0" r="2.0" fill="#efaf5b" fill-opacity="0.7" stroke="#efaf5b" stroke-width="1.3"/>
<circle cx="328.2" cy="697.9" r="2.0" fill="#f6ba4e" fill-opacity="0.7" stroke="#f6ba4e" stroke-width="1.3"/>
<circle cx="340.5" cy="699.1" r="2.0" fill="#fecb35" fill-opacity="0.7" stroke="#fecb35" stroke-width="1.3"/>
<circle cx="324.5" cy="699.2" r="2.0" fill="#f2b356" fill-opacity="0.7" stroke="#f2b356" stroke-width="1.3"/>
<circle cx="329.4" cy="698.5" r="2.0" fill="#fcc63d" fill-opacity="0.7" stroke="#fcc63d" stroke-width="1.3"/>
<circle cx="339.8" cy="698.4" r="2.0" fill="#eeac5e" fill-opacity="0.7" stroke="#eeac5e" stroke-width="1.3"/>
<circle cx="334.4" cy="697.7" r="2.0" fill="#f9c046" fill-opacity="0.7" stroke="#f9c046" stroke-width="1.3"/>
<circle cx="325.3" cy="699.4" r="2.0" fill="#f4b752" fill-opacity="0.7" stroke="#f4b752" stroke-width="1.3"/>
<circle cx="328.6" cy="698.5" r="2.0" fill="#f4b752" fill-opacity="0.7" stroke="#f4b752" stroke-width="1.3"/>
<circle cx="329.3" cy="698.3" r="2.0" fill="#ffcc33" fill-opacity="0.7" stroke="#ffcc33" stroke-width="1.3"/>
<circle cx="333.7" cy="698.2" r="2.0" fill="#ffcb34" fill-opacity="0.7" stroke="#ffcb34" stroke-width="1.3"/>
<circle cx="330.9" cy="699.7" r="2.0" fill="#feca36" fill-opacity="0.7" stroke="#feca36" stroke-width="1.3"/>
<circle cx="323.7" cy="698.9" r="2.0" fill="#fac243" fill-opacity="0.7" stroke="#fac243" stroke-width="1.3"/>
<circle cx="326.6" cy="698.6" r="2.0" fill="#fac243" fill-opacity="0.7" stroke="#fac243" stroke-width="1.3"/>
<circle cx="333.4" cy="698.7" r="2.0" fill="#eca961" fill-opacity="0.7" stroke="#eca961" stroke-width="1.3"/>
<circle cx="333.3" cy="699.2" r="2.0" fill="#eeac5e" fill-opacity="0.7" stroke="#eeac5e" stroke-width="1.3"/>
<circle cx="338.2" cy="698.9" r="2.0" fill="#f3b554" fill-opacity="0.7" stroke="#f3b554" stroke-width="1.3"/>
<circle cx="328.7" cy="698.1" r="2.0" fill="#f0af5b" fill-opacity="0.7" stroke="#f0af5b" stroke-width="1.3"/>
<circle cx="336.0" cy="698.2" r="2.0" fill="#f0b059" fill-opacity="0.7" stroke="#f0b059" stroke-width="1.3"/>
<circle cx="337.4" cy="698.6" r="2.0" fill="#f3b554" fill-opacity="0.7" stroke="#f3b554" stroke-width="1.3"/>
<circle cx="328.4" cy="698.7" r="2.0" fill="#f7bd4a" fill-opacity="0.7" stroke="#f7bd4a" stroke-width="1.3"/>
<circle cx="321.7" cy="698.3" r="2.0" fill="#f9c046" fill-opacity="0.7" stroke="#f9c046" stroke-width="1.3"/>
<circle cx="343.1" cy="698.6" r="2.0" fill="#f8bf48" fill-opacity="0.7" stroke="#f8bf48" stroke-width="1.3"/>
<circle cx="325.9" cy="698.1" r="2.0" fill="#f8bf47" fill-opacity="0.7" stroke="#f8bf47" stroke-width="1.3"/>
<circle cx="340.4" cy="698.5" r="2.0" fill="#f7bc4c" fill-opacity="0.7" stroke="#f7bc4c" stroke-width="1.3"/>
<circle cx="333.4" cy="698.2" r="2.0" fill="#fcc63e" fill-opacity="0.7" stroke="#fcc63e" stroke-width="1.3"/>
<circle cx="321.8" cy="698.3" r="2.0" fill="#f9c145" fill-opacity="0.7" stroke="#f9c145" stroke-width="1.3"/>
<circle cx="337.1" cy="698.7" r="2.0" fill="#edaa60" fill-opacity="0.7" stroke="#edaa60" stroke-width="1.3"/>
<circle cx="328.2" cy="699.5" r="2.0" fill="#f4b752" fill-opacity="0.7" stroke="#f4b752" stroke-width="1.3"/>
<circle cx="333.7" cy="699.7" r="2.0" fill="#f8bf48" fill-opacity="0.7" stroke="#f8bf48" stroke-width="1.3"/>
<circle cx="338.2" cy="698.5" r="2.0" fill="#eead5d" fill-opacity="0.7" stroke="#eead5d" stroke-width="1.3"/>
<circle cx="321.9" cy="698.6" r="2.0" fill="#eeab5f" fill-opacity="0.7" stroke="#eeab5f" stroke-width="1.3"/>
<circle cx="326.7" cy="698.1" r="2.0" fill="#ffcb35" fill-opacity="0.7" stroke="#ffcb35" stroke-width="1.3"/>
<circle cx="324.1" cy="698.2" r="2.0" fill="#f2b257" fill-opacity="0.7" stroke="#f2b257" stroke-width="1.3"/>
<circle cx="325.3" cy="698.4" r="2.0" fill="#fbc53f" fill-opacity="0.7" stroke="#fbc53f" stroke-width="1.3"/>
<circle cx="334.2" cy="699.4" r="2.0" fill="#f3b455" fill-opacity="0.7" stroke="#f3b455" stroke-width="1.3"/>
<circle cx="324.8" cy="699.0" r="2.0" fill="#eca961" fill-opacity="0.7" stroke="#eca961" stroke-width="1.3"/>
<circle cx="334.2" cy="697.7" r="2.0" fill="#efaf5b" fill-opacity="0.7" stroke="#efaf5b" stroke-width="1.3"/>
<circle cx="340.5" cy="698.3" r="2.0" fill="#fcc73c" fill-opacity="0.7" stroke="#fcc73c" stroke-width="1.3"/>
<circle cx="324.6" cy="698.7" r="2.0" fill="#eeac5e" fill-opacity="0.7" stroke="#eeac5e" stroke-width="1.3"/>
<circle cx="335.1" cy="699.5" r="2.0" fill="#fbc440" fill-opacity="0.7" stroke="#fbc440" stroke-width="1.3"/>
<circle cx="327.8" cy="699.1" r="2.0" fill="#f3b455" fill-opacity="0.7" stroke="#f3b455" stroke-width="1.3"/>
<circle cx="329.7" cy="699.0" r="2.0" fill="#f9c047" fill-opacity="0.7" stroke="#f9c047" stroke-width="1.3"/>
<circle cx="321.6" cy="698.5" r="2.0" fill="#feca36" fill-opacity="0.7" stroke="#feca36" stroke-width="1.3"/>
<circle cx="334.8" cy="698.2" r="2.0" fill="#f6ba4e" fill-opacity="0.7" stroke="#f6ba4e" stroke-width="1.3"/>
<circle cx="334.1" cy="698.1" r="2.0" fill="#f6bb4d" fill-opacity="0.7" stroke="#f6bb4d" stroke-width="1.3"/>
<circle cx="333.3" cy="699.7" r="2.0" fill="#feca37" fill-opacity="0.7" stroke="#feca37" stroke-width="1.3"/>
<circle cx="334.5" cy="699.1" r="2.0" fill="#f9c046" fill-opacity="0.7" stroke="#f9c046" stroke-width="1.3"/>
<circle cx="323.6" cy="699.1" r="2.0" fill="#fdc939" fill-opacity="0.7" stroke="#fdc939" stroke-width="1.3"/>
<circle cx="339.1" cy="698.5" r="2.0" fill="#f5b850" fill-opacity="0.7" stroke="#f5b850" stroke-width="1.3"/>
<circle cx="333.9" cy="698.7" r="2.0" fill="#f2b455" fill-opacity="0.7" stroke="#f2b455" stroke-width="1.3"/>
<circle cx="334.2" cy="698.2" r="2.0" fill="#f1b159" fill-opacity="0.7" stroke="#f1b159" stroke-width="1.3"/>
<circle cx="326.3" cy="699.0" r="2.0" fill="#f0b059" fill-opacity="0.7" stroke="#f0b059" stroke-width="1.3"/>
<circle cx="338.2" cy="698.2" r="2.0" fill="#f0b05a" fill-opacity="0.7" stroke="#f0b05a" stroke-width="1.3"/>
<circle cx="342.9" cy="698.5" r="2.0" fill="#fac244" fill-opacity="0.7" stroke="#fac244" stroke-width="1.3"/>
<circle cx="332.4" cy="699.6" r="2.0" fill="#fdc73c" fill-opacity="0.7" stroke="#fdc73c" stroke-width="1.3"/>
<circle cx="345.0" cy="698.1" r="2.0" fill="#e19673" fill-opacity="0.7" stroke="#e19673" stroke-width="1.3"/>
<circle cx="346.7" cy="698.8" r="2.0" fill="#de9277" fill-opacity="0.7" stroke="#de9277" stroke-width="1.3"/>
<circle cx="348.4" cy="698.5" r="2.0" fill="#dc8e7a" fill-opacity="0.7" stroke="#dc8e7a" stroke-width="1.3"/>
<circle cx="350.1" cy="698.3" r="2.0" fill="#dc8f79" fill-opacity="0.7" stroke="#dc8f79" stroke-width="1.3"/>
<circle cx="351.9" cy="698.2" r="2.0" fill="#e19673" fill-opacity="0.7" stroke="#e19673" stroke-width="1.3"/>
<circle cx="353.6" cy="698.2" r="2.0" fill="#df9474" fill-opacity="0.7" stroke="#df9474" stroke-width="1.3"/>
<circle cx="355.3" cy="698.6" r="2.0" fill="#db8e7a" fill-opacity="0.7" stroke="#db8e7a" stroke-width="1.3"/>
<circle cx="357.0" cy="698.3" r="2.0" fill="#d8887e" fill-opacity="0.7" stroke="#d8887e" stroke-width="1.3"/>
<circle cx="364.0" cy="698.6" r="2.0" fill="#d58482" fill-opacity="0.7" stroke="#d58482" stroke-width="1.3"/>
<circle cx="369.3" cy="698.6" r="2.0" fill="#6600cc" fill-opacity="0.7" stroke="#6600cc" stroke-width="1.3"/>
<circle cx="374.6" cy="698.6" r="2.0" fill="#ce7b89" fill-opacity="0.7" stroke="#ce7b89" stroke-width="1.3"/>
<circle cx="310.1" cy="719.4" r="2.0" fill="#6600cc" fill-opacity="0.7" stroke="#6600cc" stroke-width="1.3"/>
<circle cx="316.8" cy="719.4" r="2.0" fill="#6600cc" fill-opacity="0.7" stroke="#6600cc" stroke-width="1.3"/>
<circle cx="322.9" cy="719.2" r="2.0" fill="#d7887f" fill-opacity="0.7" stroke="#d7887f" stroke-width="1.3"/>
<circle cx="324.6" cy="718.9" r="2.0" fill="#d48383" fill-opacity="0.7" stroke="#d48383" stroke-width="1.3"/>
<circle cx="326.3" cy="720.0" r="2.0" fill="#d98a7c" fill-opacity="0.7" stroke="#d98a7c" stroke-width="1.3"/>
<circle cx="327.9" cy="718.7" r="2.0" fill="#d68581" fill-opacity="0.7" stroke="#d68581" stroke-width="1.3"/>
<circle cx="329.6" cy="719.0" r="2.0" fill="#d58581" fill-opacity="0.7" stroke="#d58581" stroke-width="1.3"/>
<circle cx="331.3" cy="719.4" r="2.0" fill="#d98a7d" fill-opacity="0.7" stroke="#d98a7d" stroke-width="1.3"/>
<circle cx="333.0" cy="719.1" r="2.0" fill="#d98a7d" fill-opacity="0.7" stroke="#d98a7d" stroke-width="1.3"/>
<circle cx="338.8" cy="717.8" r="2.0" fill="#eaa565" fill-opacity="0.7" stroke="#eaa565" stroke-width="1.3"/>
<circle cx="336.1" cy="720.9" r="2.0" fill="#fec938" fill-opacity="0.7" stroke="#fec938" stroke-width="1.3"/>
<circle cx="340.3" cy="718.6" r="2.0" fill="#eba664" fill-opacity="0.7" stroke="#eba664" stroke-width="1.3"/>
<circle cx="335.7" cy="719.8" r="2.0" fill="#f6ba4e" fill-opacity="0.7" stroke="#f6ba4e" stroke-width="1.3"/>
<circle cx="340.2" cy="717.1" r="2.0" fill="#f9c145" fill-opacity="0.7" stroke="#f9c145" stroke-width="1.3"/>
<circle cx="337.3" cy="718.9" r="2.0" fill="#fac244" fill-opacity="0.7" stroke="#fac244" stroke-width="1.3"/>
<circle cx="336.8" cy="721.2" r="2.0" fill="#f0b05a" fill-opacity="0.7" stroke="#f0b05a" stroke-width="1.3"/>
<circle cx="336.9" cy="719.9" r="2.0" fill="#fcc53f" fill-opacity="0.7" stroke="#fcc53f" stroke-width="1.3"/>
<circle cx="337.3" cy="721.3" r="2.0" fill="#eca862" fill-opacity="0.7" stroke="#eca862" stroke-width="1.3"/>
<circle cx="337.4" cy="718.1" r="2.0" fill="#f4b752" fill-opacity="0.7" stroke="#f4b752" stroke-width="1.3"/>
<circle cx="340.6" cy="720.1" r="2.0" fill="#f5b850" fill-opacity="0.7" stroke="#f5b850" stroke-width="1.3"/>
<circle cx="339.8" cy="722.6" r="2.0" fill="#fac342" fill-opacity="0.7" stroke="#fac342" stroke-width="1.3"/>
<circle cx="342.2" cy="718.4" r="2.0" fill="#edaa60" fill-opacity="0.7" stroke="#edaa60" stroke-width="1.3"/>
<circle cx="342.0" cy="717.2" r="2.0" fill="#eba664" fill-opacity="0.7" stroke="#eba664" stroke-width="1.3"/>
<circle cx="341.0" cy="716.3" r="2.0" fill="#fbc540" fill-opacity="0.7" stroke="#fbc540" stroke-width="1.3"/>
<circle cx="340.6" cy="716.1" r="2.0" fill="#f7bd4a" fill-opacity="0.7" stroke="#f7bd4a" stroke-width="1.3"/>
<circle cx="342.5" cy="720.8" r="2.0" fill="#eaa664" fill-opacity="0.7" stroke="#eaa664" stroke-width="1.3"/>
<circle cx="337.1" cy="721.5" r="2.0" fill="#efae5c" fill-opacity="0.7" stroke="#efae5c" stroke-width="1.3"/>
<circle cx="335.5" cy="719.4" r="2.0" fill="#fac244" fill-opacity="0.7" stroke="#fac244" stroke-width="1.3"/>
<circle cx="338.6" cy="716.0" r="2.0" fill="#ffcb35" fill-opacity="0.7" stroke="#ffcb35" stroke-width="1.3"/>
<circle cx="339.1" cy="716.2" r="2.0" fill="#f5b94f" fill-opacity="0.7" stroke="#f5b94f" stroke-width="1.3"/>
<circle cx="336.6" cy="720.7" r="2.0" fill="#fcc63e" fill-opacity="0.7" stroke="#fcc63e" stroke-width="1.3"/>
<circle cx="341.0" cy="719.4" r="2.0" fill="#fdc73c" fill-opacity="0.7" stroke="#fdc73c" stroke-width="1.3"/>
<circle cx="338.0" cy="719.3" r="2.0" fill="#e9a466" fill-opacity="0.7" stroke="#e9a466" stroke-width="1.3"/>
<circle cx="338.0" cy="717.1" r="2.0" fill="#e8a268" fill-opacity="0.7" stroke="#e8a268" stroke-width="1.3"/>
<circle cx="342.2" cy="720.9" r="2.0" fill="#f9c046" fill-opacity="0.7" stroke="#f9c046" stroke-width="1.3"/>
<circle cx="336.6" cy="717.7" r="2.0" fill="#fdc939" fill-opacity="0.7" stroke="#fdc939" stroke-width="1.3"/>
<circle cx="335.5" cy="719.4" r="2.0" fill="#f6ba4e" fill-opacity="0.7" stroke="#f6ba4e" stroke-width="1.3"/>
<circle cx="339.6" cy="718.2" r="2.0" fill="#ffcc34" fill-opacity="0.7" stroke="#ffcc34" stroke-width="1.3"/>
<circle cx="340.6" cy="720.6" r="2.0" fill="#f3b455" fill-opacity="0.7" stroke="#f3b455" stroke-width="1.3"/>
<circle cx="339.5" cy="721.0" r="2.0" fill="#e8a169" fill-opacity="0.7" stroke="#e8a169" stroke-width="1.3"/>
<circle cx="342.1" cy="720.8" r="2.0" fill="#f6bb4d" fill-opacity="0.7" stroke="#f6bb4d" stroke-width="1.3"/>
<circle cx="337.7" cy="718.7" r="2.0" fill="#e8a268" fill-opacity="0.7" stroke="#e8a268" stroke-width="1.3"/>
<circle cx="338.3" cy="718.4" r="2.0" fill="#f6ba4e" fill-opacity="0.7" stroke="#f6ba4e" stroke-width="1.3"/>
<circle cx="342.5" cy="717.8" r="2.0" fill="#f1b158" fill-opacity="0.7" stroke="#f1b158" stroke-width="1.3"/>
<circle cx="338.2" cy="717.2" r="2.0" fill="#fbc342" fill-opacity="0.7" stroke="#fbc342" stroke-width="1.3"/>
<circle cx="341.4" cy="722.3" r="2.0" fill="#feca37" fill-opacity="0.7" stroke="#feca37" stroke-width="1.3"/>
<circle cx="340.7" cy="718.0" r="2.0" fill="#f0b05a" fill-opacity="0.7" stroke="#f0b05a" stroke-width="1.3"/>
<circle cx="339.5" cy="717.8" r="2.0" fill="#e8a268" fill-opacity="0.7" stroke="#e8a268" stroke-width="1.3"/>
<circle cx="341.9" cy="719.4" r="2.0" fill="#f1b257" fill-opacity="0.7" stroke="#f1b257" stroke-width="1.3"/>
<circle cx="340.2" cy="721.3" r="2.0" fill="#f6bb4c" fill-opacity="0.7" stroke="#f6bb4c" stroke-width="1.3"/>
<circle cx="340.8" cy="718.5" r="2.0" fill="#f3b554" fill-opacity="0.7" stroke="#f3b554" stroke-width="1.3"/>
<circle cx="340.0" cy="720.8" r="2.0" fill="#f8be49" fill-opacity="0.7" stroke="#f8be49" stroke-width="1.3"/>
<circle cx="340.2" cy="719.7" r="2.0" fill="#fac243" fill-opacity="0.7" stroke="#fac243" stroke-width="1.3"/>
<circle cx="340.0" cy="717.4" r="2.0" fill="#eaa565" fill-opacity="0.7" stroke="#eaa565" stroke-width="1.3"/>
<circle cx="338.9" cy="721.3" r="2.0" fill="#f3b554" fill-opacity="0.7" stroke="#f3b554" stroke-width="1.3"/>
<circle cx="339.0" cy="716.9" r="2.0" fill="#fcc63e" fill-opacity="0.7" stroke="#fcc63e" stroke-width="1.3"/>
<circle cx="342.5" cy="719.5" r="2.0" fill="#f3b554" fill-opacity="0.7" stroke="#f3b554" stroke-width="1.3"/>
<circle cx="339.4" cy="722.1" r="2.0" fill="#fac244" fill-opacity="0.7" stroke="#fac244" stroke-width="1.3"/>
<circle cx="336.6" cy="721.6" r="2.0" fill="#f5b851" fill-opacity="0.7" stroke="#f5b851" stroke-width="1.3"/>
<circle cx="340.3" cy="722.0" r="2.0" fill="#eaa565" fill-opacity="0.7" stroke="#eaa565" stroke-width="1.3"/>
<circle cx="338.2" cy="722.1" r="2.0" fill="#eca862" fill-opacity="0.7" stroke="#eca862" stroke-width="1.3"/>
<circle cx="337.2" cy="716.4" r="2.0" fill="#f7bc4b" fill-opacity="0.7" stroke="#f7bc4b" stroke-width="1.3"/>
<circle cx="341.5" cy="719.5" r="2.0" fill="#f5b850" fill-opacity="0.7" stroke="#f5b850" stroke-width="1.3"/>
<circle cx="335.9" cy="718.7" r="2.0" fill="#e7a169" fill-opacity="0.7" stroke="#e7a169" stroke-width="1.3"/>
<circle cx="340.7" cy="719.0" r="2.0" fill="#f4b752" fill-opacity="0.7" stroke="#f4b752" stroke-width="1.3"/>
<circle cx="341.5" cy="721.2" r="2.0" fill="#fcc53e" fill-opacity="0.7" stroke="#fcc53e" stroke-width="1.3"/>
<circle cx="340.6" cy="718.3" r="2.0" fill="#f3b554" fill-opacity="0.7" stroke="#f3b554" stroke-width="1.3"/>
<circle cx="337.1" cy="718.4" r="2.0" fill="#f7bd4a" fill-opacity="0.7" stroke="#f7bd4a" stroke-width="1.3"/>
<circle cx="338.2" cy="715.4" r="2.0" fill="#fbc342" fill-opacity="0.7" stroke="#fbc342" stroke-width="1.3"/>
<circle cx="339.7" cy="715.6" r="2.0" fill="#fbc440" fill-opacity="0.7" stroke="#fbc440" stroke-width="1.3"/>
<circle cx="340.9" cy="717.6" r="2.0" fill="#f8be49" fill-opacity="0.7" stroke="#f8be49" stroke-width="1.3"/>
<circle cx="337.1" cy="721.8" r="2.0" fill="#fdc83a" fill-opacity="0.7" stroke="#fdc83a" stroke-width="1.3"/>
<circle cx="340.2" cy="722.3" r="2.0" fill="#fbc342" fill-opacity="0.7" stroke="#fbc342" stroke-width="1.3"/>
<circle cx="338.5" cy="721.8" r="2.0" fill="#f1b159" fill-opacity="0.7" stroke="#f1b159" stroke-width="1.3"/>
<circle cx="338.1" cy="715.7" r="2.0" fill="#f5b950" fill-opacity="0.7" stroke="#f5b950" stroke-width="1.3"/>
<circle cx="329.5" cy="740.5" r="2.0" fill="#f9c145" fill-opacity="0.7" stroke="#f9c145" stroke-width="1.3"/>
<circle cx="329.6" cy="740.4" r="2.0" fill="#f4b851" fill-opacity="0.7" stroke="#f4b851" stroke-width="1.3"/>
<circle cx="329.5" cy="739.9" r="2.0" fill="#f7bc4c" fill-opacity="0.7" stroke="#f7bc4c" stroke-width="1.3"/>
<circle cx="329.5" cy="740.4" r="2.0" fill="#f9c146" fill-opacity="0.7" stroke="#f9c146" stroke-width="1.3"/>
<circle cx="329.1" cy="740.5" r="2.0" fill="#f9c047" fill-opacity="0.7" stroke="#f9c047" stroke-width="1.3"/>
<circle cx="329.7" cy="740.1" r="2.0" fill="#f4b653" fill-opacity="0.7" stroke="#f4b653" stroke-width="1.3"/>
<circle cx="329.8" cy="740.1" r="2.0" fill="#f8be49" fill-opacity="0.7" stroke="#f8be49" stroke-width="1.3"/>
<circle cx="330.2" cy="740.0" r="2.0" fill="#f8be49" fill-opacity="0.7" stroke="#f8be49" stroke-width="1.3"/>
<circle cx="330.2" cy="740.0" r="2.0" fill="#f8be4a" fill-opacity="0.7" stroke="#f8be4a" stroke-width="1.3"/>
<circle cx="329.7" cy="740.7" r="2.0" fill="#f6ba4e" fill-opacity="0.7" stroke="#f6ba4e" stroke-width="1.3"/>
<circle cx="330.0" cy="740.0" r="2.0" fill="#fcc63e" fill-opacity="0.7" stroke="#fcc63e" stroke-width="1.3"/>
<circle cx="330.0" cy="740.2" r="2.0" fill="#f5b950" fill-opacity="0.7" stroke="#f5b950" stroke-width="1.3"/>
<circle cx="330.1" cy="739.5" r="2.0" fill="#fac343" fill-opacity="0.7" stroke="#fac343" stroke-width="1.3"/>
<circle cx="330.1" cy="740.2" r="2.0" fill="#fcc63e" fill-opacity="0.7" stroke="#fcc63e" stroke-width="1.3"/>
<circle cx="330.0" cy="740.5" r="2.0" fill="#f8be49" fill-opacity="0.7" stroke="#f8be49" stroke-width="1.3"/>
<circle cx="329.1" cy="740.4" r="2.0" fill="#f8bf48" fill-opacity="0.7" stroke="#f8bf48" stroke-width="1.3"/>
<circle cx="330.1" cy="740.7" r="2.0" fill="#fbc441" fill-opacity="0.7" stroke="#fbc441" stroke-width="1.3"/>
<circle cx="329.5" cy="740.1" r="2.0" fill="#fcc63d" fill-opacity="0.7" stroke="#fcc63d" stroke-width="1.3"/>
<circle cx="329.4" cy="739.8" r="2.0" fill="#fac244" fill-opacity="0.7" stroke="#fac244" stroke-width="1.3"/>
<circle cx="330.2" cy="740.2" r="2.0" fill="#f7bd4a" fill-opacity="0.7" stroke="#f7bd4a" stroke-width="1.3"/>
<circle cx="329.6" cy="739.4" r="2.0" fill="#f9c145" fill-opacity="0.7" stroke="#f9c145" stroke-width="1.3"/>
<circle cx="330.2" cy="740.5" r="2.0" fill="#f4b752" fill-opacity="0.7" stroke="#f4b752" stroke-width="1.3"/>
<circle cx="329.4" cy="739.7" r="2.0" fill="#fcc63e" fill-opacity="0.7" stroke="#fcc63e" stroke-width="1.3"/>
<circle cx="329.8" cy="739.9" r="2.0" fill="#f8be49" fill-opacity="0.7" stroke="#f8be49" stroke-width="1.3"/>
<circle cx="329.7" cy="740.3" r="2.0" fill="#f9c046" fill-opacity="0.7" stroke="#f9c046" stroke-width="1.3"/>
<circle cx="330.1" cy="739.7" r="2.0" fill="#f3b653" fill-opacity="0.7" stroke="#f3b653" stroke-width="1.3"/>
<circle cx="329.8" cy="739.3" r="2.0" fill="#f9c145" fill-opacity="0.7" stroke="#f9c145" stroke-width="1.3"/>
<circle cx="337.7" cy="739.4" r="2.0" fill="#dc8e79" fill-opacity="0.7" stroke="#dc8e79" stroke-width="1.3"/>
<circle cx="335.3" cy="738.5" r="2.0" fill="#d17f85" fill-opacity="0.7" stroke="#d17f85" stroke-width="1.3"/>
<circle cx="335.0" cy="741.6" r="2.0" fill="#d17f86" fill-opacity="0.7" stroke="#d17f86" stroke-width="1.3"/>
<circle cx="338.4" cy="739.8" r="2.0" fill="#cb768c" fill-opacity="0.7" stroke="#cb768c" stroke-width="1.3"/>
<circle cx="336.7" cy="743.0" r="2.0" fill="#efaf5b" fill-opacity="0.7" stroke="#efaf5b" stroke-width="1.3"/>
<circle cx="336.6" cy="741.2" r="2.0" fill="#f0af5a" fill-opacity="0.7" stroke="#f0af5a" stroke-width="1.3"/>
<circle cx="338.5" cy="737.8" r="2.0" fill="#cc778c" fill-opacity="0.7" stroke="#cc778c" stroke-width="1.3"/>
<circle cx="338.1" cy="742.4" r="2.0" fill="#de9276" fill-opacity="0.7" stroke="#de9276" stroke-width="1.3"/>
<circle cx="339.3" cy="741.3" r="2.0" fill="#e79f6a" fill-opacity="0.7" stroke="#e79f6a" stroke-width="1.3"/>
<circle cx="334.0" cy="742.3" r="2.0" fill="#eca961" fill-opacity="0.7" stroke="#eca961" stroke-width="1.3"/>
<circle cx="336.4" cy="741.3" r="2.0" fill="#e8a268" fill-opacity="0.7" stroke="#e8a268" stroke-width="1.3"/>
<circle cx="342.0" cy="741.2" r="2.0" fill="#eca962" fill-opacity="0.7" stroke="#eca962" stroke-width="1.3"/>
<circle cx="332.3" cy="741.2" r="2.0" fill="#f0b05a" fill-opacity="0.7" stroke="#f0b05a" stroke-width="1.3"/>
<circle cx="341.2" cy="738.8" r="2.0" fill="#e9a466" fill-opacity="0.7" stroke="#e9a466" stroke-width="1.3"/>
<circle cx="338.3" cy="738.8" r="2.0" fill="#dc8e79" fill-opacity="0.7" stroke="#dc8e79" stroke-width="1.3"/>
<circle cx="335.3" cy="742.5" r="2.0" fill="#eca961" fill-opacity="0.7" stroke="#eca961" stroke-width="1.3"/>
<circle cx="336.1" cy="736.7" r="2.0" fill="#e39a6f" fill-opacity="0.7" stroke="#e39a6f" stroke-width="1.3"/>
<circle cx="339.0" cy="738.1" r="2.0" fill="#dc8f78" fill-opacity="0.7" stroke="#dc8f78" stroke-width="1.3"/>
<circle cx="332.7" cy="739.9" r="2.0" fill="#d48382" fill-opacity="0.7" stroke="#d48382" stroke-width="1.3"/>
<circle cx="336.5" cy="741.5" r="2.0" fill="#edab5f" fill-opacity="0.7" stroke="#edab5f" stroke-width="1.3"/>
<circle cx="342.4" cy="740.3" r="2.0" fill="#e7a06a" fill-opacity="0.7" stroke="#e7a06a" stroke-width="1.3"/>
<circle cx="335.6" cy="741.9" r="2.0" fill="#de9276" fill-opacity="0.7" stroke="#de9276" stroke-width="1.3"/>
<circle cx="337.2" cy="742.9" r="2.0" fill="#da8c7b" fill-opacity="0.7" stroke="#da8c7b" stroke-width="1.3"/>
<circle cx="337.8" cy="737.0" r="2.0" fill="#ecaa61" fill-opacity="0.7" stroke="#ecaa61" stroke-width="1.3"/>
<circle cx="334.7" cy="742.8" r="2.0" fill="#cf7c88" fill-opacity="0.7" stroke="#cf7c88" stroke-width="1.3"/>
<circle cx="332.0" cy="740.7" r="2.0" fill="#c9748e" fill-opacity="0.7" stroke="#c9748e" stroke-width="1.3"/>
<circle cx="335.6" cy="743.3" r="2.0" fill="#d8887e" fill-opacity="0.7" stroke="#d8887e" stroke-width="1.3"/>
<circle cx="332.2" cy="739.2" r="2.0" fill="#e09573" fill-opacity="0.7" stroke="#e09573" stroke-width="1.3"/>
<circle cx="334.4" cy="741.7" r="2.0" fill="#eba763" fill-opacity="0.7" stroke="#eba763" stroke-width="1.3"/>
<circle cx="340.7" cy="738.8" r="2.0" fill="#efae5c" fill-opacity="0.7" stroke="#efae5c" stroke-width="1.3"/>
<circle cx="338.0" cy="737.1" r="2.0" fill="#dc8f79" fill-opacity="0.7" stroke="#dc8f79" stroke-width="1.3"/>
<circle cx="340.7" cy="740.7" r="2.0" fill="#e09574" fill-opacity="0.7" stroke="#e09574" stroke-width="1.3"/>
<circle cx="332.0" cy="740.2" r="2.0" fill="#eeac5e" fill-opacity="0.7" stroke="#eeac5e" stroke-width="1.3"/>
<circle cx="339.0" cy="737.5" r="2.0" fill="#db8d7a" fill-opacity="0.7" stroke="#db8d7a" stroke-width="1.3"/>
<circle cx="335.7" cy="739.2" r="2.0" fill="#d7887f" fill-opacity="0.7" stroke="#d7887f" stroke-width="1.3"/>
<circle cx="333.5" cy="738.1" r="2.0" fill="#cb768d" fill-opacity="0.7" stroke="#cb768d" stroke-width="1.3"/>
<circle cx="335.4" cy="742.5" r="2.0" fill="#ce7a89" fill-opacity="0.7" stroke="#ce7a89" stroke-width="1.3"/>
<circle cx="337.1" cy="737.4" r="2.0" fill="#eead5d" fill-opacity="0.7" stroke="#eead5d" stroke-width="1.3"/>
<circle cx="337.3" cy="740.4" r="2.0" fill="#edab5f" fill-opacity="0.7" stroke="#edab5f" stroke-width="1.3"/>
<circle cx="337.0" cy="737.6" r="2.0" fill="#dd9078" fill-opacity="0.7" stroke="#dd9078" stroke-width="1.3"/>
<circle cx="337.4" cy="739.1" r="2.0" fill="#eaa664" fill-opacity="0.7" stroke="#eaa664" stroke-width="1.3"/>
<circle cx="336.2" cy="737.9" r="2.0" fill="#edaa60" fill-opacity="0.7" stroke="#edaa60" stroke-width="1.3"/>
<circle cx="334.4" cy="742.6" r="2.0" fill="#de9276" fill-opacity="0.7" stroke="#de9276" stroke-width="1.3"/>
<circle cx="342.4" cy="740.1" r="2.0" fill="#d27f85" fill-opacity="0.7" stroke="#d27f85" stroke-width="1.3"/>
<circle cx="338.2" cy="741.5" r="2.0" fill="#e9a466" fill-opacity="0.7" stroke="#e9a466" stroke-width="1.3"/>
<circle cx="340.2" cy="737.8" r="2.0" fill="#e8a168" fill-opacity="0.7" stroke="#e8a168" stroke-width="1.3"/>
<circle cx="332.0" cy="739.5" r="2.0" fill="#de9177" fill-opacity="0.7" stroke="#de9177" stroke-width="1.3"/>
<circle cx="335.0" cy="742.8" r="2.0" fill="#efad5d" fill-opacity="0.7" stroke="#efad5d" stroke-width="1.3"/>
<circle cx="338.3" cy="738.1" r="2.0" fill="#da8c7b" fill-opacity="0.7" stroke="#da8c7b" stroke-width="1.3"/>
<circle cx="340.6" cy="741.5" r="2.0" fill="#efaf5b" fill-opacity="0.7" stroke="#efaf5b" stroke-width="1.3"/>
<circle cx="334.4" cy="740.8" r="2.0" fill="#c9738f" fill-opacity="0.7" stroke="#c9738f" stroke-width="1.3"/>
<circle cx="332.1" cy="740.8" r="2.0" fill="#d68680" fill-opacity="0.7" stroke="#d68680" stroke-width="1.3"/>
<circle cx="341.0" cy="739.1" r="2.0" fill="#d17e86" fill-opacity="0.7" stroke="#d17e86" stroke-width="1.3"/>
<circle cx="336.9" cy="743.3" r="2.0" fill="#f1b258" fill-opacity="0.7" stroke="#f1b258" stroke-width="1.3"/>
<circle cx="342.4" cy="739.6" r="2.0" fill="#e29871" fill-opacity="0.7" stroke="#e29871" stroke-width="1.3"/>
<circle cx="332.6" cy="738.6" r="2.0" fill="#d48382" fill-opacity="0.7" stroke="#d48382" stroke-width="1.3"/>
<circle cx="339.4" cy="737.7" r="2.0" fill="#e59c6d" fill-opacity="0.7" stroke="#e59c6d" stroke-width="1.3"/>
<circle cx="333.2" cy="738.3" r="2.0" fill="#e9a466" fill-opacity="0.7" stroke="#e9a466" stroke-width="1.3"/>
<circle cx="337.1" cy="740.1" r="2.0" fill="#d28085" fill-opacity="0.7" stroke="#d28085" stroke-width="1.3"/>
<circle cx="342.0" cy="741.6" r="2.0" fill="#d9897d" fill-opacity="0.7" stroke="#d9897d" stroke-width="1.3"/>
<circle cx="333.9" cy="740.9" r="2.0" fill="#cf7c88" fill-opacity="0.7" stroke="#cf7c88" stroke-width="1.3"/>
<circle cx="340.6" cy="737.5" r="2.0" fill="#d58481" fill-opacity="0.7" stroke="#d58481" stroke-width="1.3"/>
<circle cx="335.6" cy="737.7" r="2.0" fill="#ca748e" fill-opacity="0.7" stroke="#ca748e" stroke-width="1.3"/>
<circle cx="339.3" cy="741.8" r="2.0" fill="#edaa60" fill-opacity="0.7" stroke="#edaa60" stroke-width="1.3"/>
<circle cx="342.0" cy="741.6" r="2.0" fill="#d07d87" fill-opacity="0.7" stroke="#d07d87" stroke-width="1.3"/>
<circle cx="340.8" cy="740.7" r="2.0" fill="#e19672" fill-opacity="0.7" stroke="#e19672" stroke-width="1.3"/>
<circle cx="341.1" cy="741.9" r="2.0" fill="#ce7a89" fill-opacity="0.7" stroke="#ce7a89" stroke-width="1.3"/>
<circle cx="337.7" cy="743.5" r="2.0" fill="#edab5f" fill-opacity="0.7" stroke="#edab5f" stroke-width="1.3"/>
<circle cx="334.5" cy="742.4" r="2.0" fill="#e9a466" fill-opacity="0.7" stroke="#e9a466" stroke-width="1.3"/>
<circle cx="333.9" cy="739.9" r="2.0" fill="#e9a367" fill-opacity="0.7" stroke="#e9a367" stroke-width="1.3"/>
<circle cx="337.3" cy="743.3" r="2.0" fill="#d68680" fill-opacity="0.7" stroke="#d68680" stroke-width="1.3"/>
<circle cx="339.8" cy="739.4" r="2.0" fill="#d28085" fill-opacity="0.7" stroke="#d28085" stroke-width="1.3"/>
<circle cx="340.7" cy="741.3" r="2.0" fill="#cb768d" fill-opacity="0.7" stroke="#cb768d" stroke-width="1.3"/>
<circle cx="341.1" cy="739.5" r="2.0" fill="#eead5d" fill-opacity="0.7" stroke="#eead5d" stroke-width="1.3"/>
<circle cx="339.1" cy="742.5" r="2.0" fill="#e59d6d" fill-opacity="0.7" stroke="#e59d6d" stroke-width="1.3"/>
<circle cx="338.4" cy="742.6" r="2.0" fill="#d27f85" fill-opacity="0.7" stroke="#d27f85" stroke-width="1.3"/>
<circle cx="345.0" cy="739.6" r="2.0" fill="#a144af" fill-opacity="0.7" stroke="#a144af" stroke-width="1.3"/>
<circle cx="346.7" cy="739.6" r="2.0" fill="#a346ad" fill-opacity="0.7" stroke="#a346ad" stroke-width="1.3"/>
<circle cx="348.4" cy="740.4" r="2.0" fill="#9e40b0" fill-opacity="0.7" stroke="#9e40b0" stroke-width="1.3"/>
<circle cx="350.2" cy="740.2" r="2.0" fill="#9c3eb2" fill-opacity="0.7" stroke="#9c3eb2" stroke-width="1.3"/>
<circle cx="351.9" cy="740.0" r="2.0" fill="#9d3fb1" fill-opacity="0.7" stroke="#9d3fb1" stroke-width="1.3"/>
<circle cx="353.6" cy="740.0" r="2.0" fill="#9335b7" fill-opacity="0.7" stroke="#9335b7" stroke-width="1.3"/>
<circle cx="359.7" cy="740.1" r="2.0" fill="#6600cc" fill-opacity="0.7" stroke="#6600cc" stroke-width="1.3"/>
<circle cx="318.5" cy="760.9" r="2.0" fill="#6600cc" fill-opacity="0.7" stroke="#6600cc" stroke-width="1.3"/>
<circle cx="320.6" cy="760.9" r="2.0" fill="#6600cc" fill-opacity="0.7" stroke="#6600cc" stroke-width="1.3"/>
<circle cx="325.9" cy="761.1" r="2.0" fill="#bc629b" fill-opacity="0.7" stroke="#bc629b" stroke-width="1.3"/>
<circle cx="327.7" cy="760.3" r="2.0" fill="#be6499" fill-opacity="0.7" stroke="#be6499" stroke-width="1.3"/>
<circle cx="329.4" cy="761.2" r="2.0" fill="#be6599" fill-opacity="0.7" stroke="#be6599" stroke-width="1.3"/>
<circle cx="331.2" cy="761.1" r="2.0" fill="#bd639a" fill-opacity="0.7" stroke="#bd639a" stroke-width="1.3"/>
<circle cx="333.0" cy="760.3" r="2.0" fill="#bf6797" fill-opacity="0.7" stroke="#bf6797" stroke-width="1.3"/>
<circle cx="335.5" cy="759.4" r="2.0" fill="#d17e86" fill-opacity="0.7" stroke="#d17e86" stroke-width="1.3"/>
<circle cx="337.5" cy="758.9" r="2.0" fill="#d48383" fill-opacity="0.7" stroke="#d48383" stroke-width="1.3"/>
<circle cx="340.4" cy="763.7" r="2.0" fill="#eba664" fill-opacity="0.7" stroke="#eba664" stroke-width="1.3"/>
<circle cx="339.1" cy="764.4" r="2.0" fill="#e69e6b" fill-opacity="0.7" stroke="#e69e6b" stroke-width="1.3"/>
<circle cx="342.9" cy="758.8" r="2.0" fill="#e59d6d" fill-opacity="0.7" stroke="#e59d6d" stroke-width="1.3"/>
<circle cx="344.2" cy="760.6" r="2.0" fill="#d8897e" fill-opacity="0.7" stroke="#d8897e" stroke-width="1.3"/>
<circle cx="336.3" cy="759.9" r="2.0" fill="#f6bc4c" fill-opacity="0.7" stroke="#f6bc4c" stroke-width="1.3"/>
<circle cx="339.7" cy="763.6" r="2.0" fill="#e59e6c" fill-opacity="0.7" stroke="#e59e6c" stroke-width="1.3"/>
<circle cx="337.7" cy="764.0" r="2.0" fill="#d48283" fill-opacity="0.7" stroke="#d48283" stroke-width="1.3"/>
<circle cx="341.0" cy="757.9" r="2.0" fill="#e19673" fill-opacity="0.7" stroke="#e19673" stroke-width="1.3"/>
<circle cx="338.5" cy="764.3" r="2.0" fill="#eca961" fill-opacity="0.7" stroke="#eca961" stroke-width="1.3"/>
<circle cx="340.9" cy="761.8" r="2.0" fill="#eba862" fill-opacity="0.7" stroke="#eba862" stroke-width="1.3"/>
<circle cx="339.4" cy="762.2" r="2.0" fill="#d38284" fill-opacity="0.7" stroke="#d38284" stroke-width="1.3"/>
<circle cx="339.1" cy="759.8" r="2.0" fill="#d07d87" fill-opacity="0.7" stroke="#d07d87" stroke-width="1.3"/>
<circle cx="341.2" cy="761.3" r="2.0" fill="#e8a367" fill-opacity="0.7" stroke="#e8a367" stroke-width="1.3"/>
<circle cx="342.0" cy="763.5" r="2.0" fill="#dc8e79" fill-opacity="0.7" stroke="#dc8e79" stroke-width="1.3"/>
<circle cx="337.1" cy="758.3" r="2.0" fill="#d17e86" fill-opacity="0.7" stroke="#d17e86" stroke-width="1.3"/>
<circle cx="340.1" cy="761.4" r="2.0" fill="#f9c047" fill-opacity="0.7" stroke="#f9c047" stroke-width="1.3"/>
<circle cx="337.9" cy="762.7" r="2.0" fill="#e09574" fill-opacity="0.7" stroke="#e09574" stroke-width="1.3"/>
<circle cx="336.6" cy="762.7" r="2.0" fill="#efae5c" fill-opacity="0.7" stroke="#efae5c" stroke-width="1.3"/>
<circle cx="339.6" cy="760.3" r="2.0" fill="#d07c87" fill-opacity="0.7" stroke="#d07c87" stroke-width="1.3"/>
<circle cx="340.8" cy="763.0" r="2.0" fill="#de9276" fill-opacity="0.7" stroke="#de9276" stroke-width="1.3"/>
<circle cx="337.7" cy="764.2" r="2.0" fill="#dd9078" fill-opacity="0.7" stroke="#dd9078" stroke-width="1.3"/>
<circle cx="341.3" cy="759.3" r="2.0" fill="#f4b752" fill-opacity="0.7" stroke="#f4b752" stroke-width="1.3"/>
<circle cx="340.0" cy="763.3" r="2.0" fill="#d98a7d" fill-opacity="0.7" stroke="#d98a7d" stroke-width="1.3"/>
<circle cx="337.4" cy="758.3" r="2.0" fill="#e59e6c" fill-opacity="0.7" stroke="#e59e6c" stroke-width="1.3"/>
<circle cx="341.8" cy="758.7" r="2.0" fill="#eeac5e" fill-opacity="0.7" stroke="#eeac5e" stroke-width="1.3"/>
<circle cx="334.0" cy="759.7" r="2.0" fill="#eba763" fill-opacity="0.7" stroke="#eba763" stroke-width="1.3"/>
<circle cx="335.5" cy="759.7" r="2.0" fill="#d17f86" fill-opacity="0.7" stroke="#d17f86" stroke-width="1.3"/>
<circle cx="335.6" cy="759.7" r="2.0" fill="#e9a367" fill-opacity="0.7" stroke="#e9a367" stroke-width="1.3"/>
<circle cx="334.6" cy="759.4" r="2.0" fill="#eba664" fill-opacity="0.7" stroke="#eba664" stroke-width="1.3"/>
<circle cx="337.8" cy="764.2" r="2.0" fill="#f0b05a" fill-opacity="0.7" stroke="#f0b05a" stroke-width="1.3"/>
<circle cx="338.5" cy="763.4" r="2.0" fill="#e09574" fill-opacity="0.7" stroke="#e09574" stroke-width="1.3"/>
<circle cx="342.3" cy="759.7" r="2.0" fill="#f4b851" fill-opacity="0.7" stroke="#f4b851" stroke-width="1.3"/>
<circle cx="342.0" cy="760.7" r="2.0" fill="#e49b6f" fill-opacity="0.7" stroke="#e49b6f" stroke-width="1.3"/>
<circle cx="341.0" cy="762.6" r="2.0" fill="#f0af5b" fill-opacity="0.7" stroke="#f0af5b" stroke-width="1.3"/>
<circle cx="337.5" cy="763.9" r="2.0" fill="#e59d6d" fill-opacity="0.7" stroke="#e59d6d" stroke-width="1.3"/>
<circle cx="336.7" cy="761.8" r="2.0" fill="#f0b05a" fill-opacity="0.7" stroke="#f0b05a" stroke-width="1.3"/>
<circle cx="342.8" cy="761.3" r="2.0" fill="#eca961" fill-opacity="0.7" stroke="#eca961" stroke-width="1.3"/>
<circle cx="344.1" cy="759.5" r="2.0" fill="#f1b158" fill-opacity="0.7" stroke="#f1b158" stroke-width="1.3"/>
<circle cx="334.2" cy="761.2" r="2.0" fill="#db8d7b" fill-opacity="0.7" stroke="#db8d7b" stroke-width="1.3"/>
<circle cx="341.1" cy="760.3" r="2.0" fill="#d8897e" fill-opacity="0.7" stroke="#d8897e" stroke-width="1.3"/>
<circle cx="334.7" cy="759.7" r="2.0" fill="#e09474" fill-opacity="0.7" stroke="#e09474" stroke-width="1.3"/>
<circle cx="344.4" cy="761.6" r="2.0" fill="#dd9177" fill-opacity="0.7" stroke="#dd9177" stroke-width="1.3"/>
<circle cx="342.2" cy="760.2" r="2.0" fill="#d27f85" fill-opacity="0.7" stroke="#d27f85" stroke-width="1.3"/>
<circle cx="341.9" cy="759.8" r="2.0" fill="#eba764" fill-opacity="0.7" stroke="#eba764" stroke-width="1.3"/>
<circle cx="342.6" cy="759.9" r="2.0" fill="#f3b554" fill-opacity="0.7" stroke="#f3b554" stroke-width="1.3"/>
<circle cx="343.3" cy="761.1" r="2.0" fill="#e59d6c" fill-opacity="0.7" stroke="#e59d6c" stroke-width="1.3"/>
<circle cx="341.0" cy="763.7" r="2.0" fill="#f5b94f" fill-opacity="0.7" stroke="#f5b94f" stroke-width="1.3"/>
<circle cx="337.3" cy="757.8" r="2.0" fill="#eaa565" fill-opacity="0.7" stroke="#eaa565" stroke-width="1.3"/>
<circle cx="339.1" cy="763.6" r="2.0" fill="#df9376" fill-opacity="0.7" stroke="#df9376" stroke-width="1.3"/>
<circle cx="340.0" cy="760.2" r="2.0" fill="#e39970" fill-opacity="0.7" stroke="#e39970" stroke-width="1.3"/>
<circle cx="336.5" cy="763.2" r="2.0" fill="#d98a7d" fill-opacity="0.7" stroke="#d98a7d" stroke-width="1.3"/>
<circle cx="343.0" cy="758.7" r="2.0" fill="#de9276" fill-opacity="0.7" stroke="#de9276" stroke-width="1.3"/>
<circle cx="342.0" cy="760.9" r="2.0" fill="#d48283" fill-opacity="0.7" stroke="#d48283" stroke-width="1.3"/>
<circle cx="343.6" cy="762.3" r="2.0" fill="#d7887f" fill-opacity="0.7" stroke="#d7887f" stroke-width="1.3"/>
<circle cx="340.8" cy="763.6" r="2.0" fill="#f5b94f" fill-opacity="0.7" stroke="#f5b94f" stroke-width="1.3"/>
<circle cx="341.4" cy="762.3" r="2.0" fill="#e19772" fill-opacity="0.7" stroke="#e19772" stroke-width="1.3"/>
<circle cx="336.5" cy="758.0" r="2.0" fill="#e29772" fill-opacity="0.7" stroke="#e29772" stroke-width="1.3"/>
<circle cx="342.8" cy="759.5" r="2.0" fill="#f2b356" fill-opacity="0.7" stroke="#f2b356" stroke-width="1.3"/>
<circle cx="336.0" cy="758.2" r="2.0" fill="#de9276" fill-opacity="0.7" stroke="#de9276" stroke-width="1.3"/>
<circle cx="337.5" cy="762.3" r="2.0" fill="#f8be4a" fill-opacity="0.7" stroke="#f8be4a" stroke-width="1.3"/>
<circle cx="343.0" cy="759.8" r="2.0" fill="#fac343" fill-opacity="0.7" stroke="#fac343" stroke-width="1.3"/>
<circle cx="340.6" cy="758.3" r="2.0" fill="#f0af5b" fill-opacity="0.7" stroke="#f0af5b" stroke-width="1.3"/>
<circle cx="334.1" cy="760.6" r="2.0" fill="#e49b6e" fill-opacity="0.7" stroke="#e49b6e" stroke-width="1.3"/>
<circle cx="336.0" cy="761.7" r="2.0" fill="#edaa60" fill-opacity="0.7" stroke="#edaa60" stroke-width="1.3"/>
<circle cx="337.2" cy="761.4" r="2.0" fill="#f2b356" fill-opacity="0.7" stroke="#f2b356" stroke-width="1.3"/>
<circle cx="342.4" cy="759.0" r="2.0" fill="#d68680" fill-opacity="0.7" stroke="#d68680" stroke-width="1.3"/>
<circle cx="342.6" cy="761.1" r="2.0" fill="#f9c145" fill-opacity="0.7" stroke="#f9c145" stroke-width="1.3"/>
<circle cx="339.2" cy="760.3" r="2.0" fill="#f8be49" fill-opacity="0.7" stroke="#f8be49" stroke-width="1.3"/>
<circle cx="340.6" cy="762.5" r="2.0" fill="#e29970" fill-opacity="0.7" stroke="#e29970" stroke-width="1.3"/>
<circle cx="338.0" cy="761.0" r="2.0" fill="#e29871" fill-opacity="0.7" stroke="#e29871" stroke-width="1.3"/>
<circle cx="336.0" cy="763.3" r="2.0" fill="#cf7b88" fill-opacity="0.7" stroke="#cf7b88" stroke-width="1.3"/>
<circle cx="334.2" cy="760.8" r="2.0" fill="#f5b94f" fill-opacity="0.7" stroke="#f5b94f" stroke-width="1.3"/>
<circle cx="338.6" cy="762.3" r="2.0" fill="#dd9078" fill-opacity="0.7" stroke="#dd9078" stroke-width="1.3"/>
<circle cx="337.1" cy="779.9" r="2.0" fill="#a94ca9" fill-opacity="0.7" stroke="#a94ca9" stroke-width="1.3"/>
<circle cx="336.5" cy="779.3" r="2.0" fill="#a94ca9" fill-opacity="0.7" stroke="#a94ca9" stroke-width="1.3"/>
<circle cx="339.8" cy="781.8" r="2.0" fill="#9e40b0" fill-opacity="0.7" stroke="#9e40b0" stroke-width="1.3"/>
<circle cx="334.5" cy="783.5" r="2.0" fill="#a94ca9" fill-opacity="0.7" stroke="#a94ca9" stroke-width="1.3"/>
<circle cx="335.2" cy="782.2" r="2.0" fill="#9234b8" fill-opacity="0.7" stroke="#9234b8" stroke-width="1.3"/>
<circle cx="339.7" cy="783.8" r="2.0" fill="#ae52a6" fill-opacity="0.7" stroke="#ae52a6" stroke-width="1.3"/>
<circle cx="341.1" cy="783.6" r="2.0" fill="#9537b6" fill-opacity="0.7" stroke="#9537b6" stroke-width="1.3"/>
<circle cx="335.2" cy="780.2" r="2.0" fill="#aa4da9" fill-opacity="0.7" stroke="#aa4da9" stroke-width="1.3"/>
<circle cx="335.6" cy="777.1" r="2.0" fill="#a94da9" fill-opacity="0.7" stroke="#a94da9" stroke-width="1.3"/>
<circle cx="336.1" cy="785.8" r="2.0" fill="#8d2ebb" fill-opacity="0.7" stroke="#8d2ebb" stroke-width="1.3"/>
<circle cx="337.1" cy="777.3" r="2.0" fill="#ac50a7" fill-opacity="0.7" stroke="#ac50a7" stroke-width="1.3"/>
<circle cx="334.1" cy="784.1" r="2.0" fill="#9d3fb1" fill-opacity="0.7" stroke="#9d3fb1" stroke-width="1.3"/>
<circle cx="340.4" cy="781.4" r="2.0" fill="#8c2dbb" fill-opacity="0.7" stroke="#8c2dbb" stroke-width="1.3"/>
<circle cx="338.1" cy="781.7" r="2.0" fill="#a84baa" fill-opacity="0.7" stroke="#a84baa" stroke-width="1.3"/>
<circle cx="341.5" cy="783.4" r="2.0" fill="#8526bf" fill-opacity="0.7" stroke="#8526bf" stroke-width="1.3"/>
<circle cx="342.2" cy="781.1" r="2.0" fill="#9032b9" fill-opacity="0.7" stroke="#9032b9" stroke-width="1.3"/>
<circle cx="336.4" cy="784.9" r="2.0" fill="#8b2cbc" fill-opacity="0.7" stroke="#8b2cbc" stroke-width="1.3"/>
<circle cx="334.7" cy="782.4" r="2.0" fill="#a143af" fill-opacity="0.7" stroke="#a143af" stroke-width="1.3"/>
<circle cx="340.3" cy="781.3" r="2.0" fill="#af53a5" fill-opacity="0.7" stroke="#af53a5" stroke-width="1.3"/>
<circle cx="341.3" cy="781.9" r="2.0" fill="#ae51a6" fill-opacity="0.7" stroke="#ae51a6" stroke-width="1.3"/>
<circle cx="335.8" cy="782.9" r="2.0" fill="#882abd" fill-opacity="0.7" stroke="#882abd" stroke-width="1.3"/>
<circle cx="337.3" cy="783.2" r="2.0" fill="#a84baa" fill-opacity="0.7" stroke="#a84baa" stroke-width="1.3"/>
<circle cx="335.0" cy="785.5" r="2.0" fill="#a143af" fill-opacity="0.7" stroke="#a143af" stroke-width="1.3"/>
<circle cx="333.6" cy="782.4" r="2.0" fill="#ab4fa7" fill-opacity="0.7" stroke="#ab4fa7" stroke-width="1.3"/>
<circle cx="334.6" cy="781.2" r="2.0" fill="#9739b5" fill-opacity="0.7" stroke="#9739b5" stroke-width="1.3"/>
<circle cx="338.8" cy="783.8" r="2.0" fill="#9e40b1" fill-opacity="0.7" stroke="#9e40b1" stroke-width="1.3"/>
<circle cx="333.3" cy="783.5" r="2.0" fill="#ae52a5" fill-opacity="0.7" stroke="#ae52a5" stroke-width="1.3"/>
<circle cx="337.2" cy="780.5" r="2.0" fill="#9335b7" fill-opacity="0.7" stroke="#9335b7" stroke-width="1.3"/>
<circle cx="339.6" cy="779.1" r="2.0" fill="#9436b6" fill-opacity="0.7" stroke="#9436b6" stroke-width="1.3"/>
<circle cx="339.4" cy="781.4" r="2.0" fill="#ab4ea8" fill-opacity="0.7" stroke="#ab4ea8" stroke-width="1.3"/>
<circle cx="341.5" cy="782.5" r="2.0" fill="#ae52a6" fill-opacity="0.7" stroke="#ae52a6" stroke-width="1.3"/>
<circle cx="334.8" cy="780.6" r="2.0" fill="#8d2fba" fill-opacity="0.7" stroke="#8d2fba" stroke-width="1.3"/>
<circle cx="340.7" cy="782.9" r="2.0" fill="#9031b9" fill-opacity="0.7" stroke="#9031b9" stroke-width="1.3"/>
<circle cx="334.8" cy="783.3" r="2.0" fill="#8627be" fill-opacity="0.7" stroke="#8627be" stroke-width="1.3"/>
<circle cx="338.9" cy="786.0" r="2.0" fill="#a649ab" fill-opacity="0.7" stroke="#a649ab" stroke-width="1.3"/>
<circle cx="340.0" cy="777.9" r="2.0" fill="#8325c0" fill-opacity="0.7" stroke="#8325c0" stroke-width="1.3"/>
<circle cx="339.6" cy="778.5" r="2.0" fill="#8c2ebb" fill-opacity="0.7" stroke="#8c2ebb" stroke-width="1.3"/>
<circle cx="334.2" cy="781.7" r="2.0" fill="#ac50a7" fill-opacity="0.7" stroke="#ac50a7" stroke-width="1.3"/>
<circle cx="340.3" cy="785.3" r="2.0" fill="#8728be" fill-opacity="0.7" stroke="#8728be" stroke-width="1.3"/>
<circle cx="338.0" cy="785.1" r="2.0" fill="#9b3db2" fill-opacity="0.7" stroke="#9b3db2" stroke-width="1.3"/>
<circle cx="338.7" cy="782.6" r="2.0" fill="#8d2ebb" fill-opacity="0.7" stroke="#8d2ebb" stroke-width="1.3"/>
<circle cx="337.9" cy="779.3" r="2.0" fill="#a042af" fill-opacity="0.7" stroke="#a042af" stroke-width="1.3"/>
<circle cx="340.6" cy="781.3" r="2.0" fill="#ac4fa7" fill-opacity="0.7" stroke="#ac4fa7" stroke-width="1.3"/>
<circle cx="339.0" cy="778.6" r="2.0" fill="#9f41b0" fill-opacity="0.7" stroke="#9f41b0" stroke-width="1.3"/>
<circle cx="338.0" cy="780.0" r="2.0" fill="#ad50a6" fill-opacity="0.7" stroke="#ad50a6" stroke-width="1.3"/>
<circle cx="339.8" cy="785.0" r="2.0" fill="#8a2cbc" fill-opacity="0.7" stroke="#8a2cbc" stroke-width="1.3"/>
<circle cx="333.6" cy="780.5" r="2.0" fill="#a447ad" fill-opacity="0.7" stroke="#a447ad" stroke-width="1.3"/>
<circle cx="340.1" cy="778.3" r="2.0" fill="#9638b5" fill-opacity="0.7" stroke="#9638b5" stroke-width="1.3"/>
<circle cx="333.7" cy="783.3" r="2.0" fill="#9739b5" fill-opacity="0.7" stroke="#9739b5" stroke-width="1.3"/>
<circle cx="337.7" cy="781.1" r="2.0" fill="#a042b0" fill-opacity="0.7" stroke="#a042b0" stroke-width="1.3"/>
<circle cx="338.6" cy="783.2" r="2.0" fill="#8728be" fill-opacity="0.7" stroke="#8728be" stroke-width="1.3"/>
<circle cx="339.8" cy="784.5" r="2.0" fill="#8728be" fill-opacity="0.7" stroke="#8728be" stroke-width="1.3"/>
<circle cx="340.8" cy="783.6" r="2.0" fill="#af53a5" fill-opacity="0.7" stroke="#af53a5" stroke-width="1.3"/>
<circle cx="339.3" cy="785.2" r="2.0" fill="#9f41b0" fill-opacity="0.7" stroke="#9f41b0" stroke-width="1.3"/>
<circle cx="341.2" cy="778.8" r="2.0" fill="#8527bf" fill-opacity="0.7" stroke="#8527bf" stroke-width="1.3"/>
<circle cx="336.9" cy="783.9" r="2.0" fill="#a649ab" fill-opacity="0.7" stroke="#a649ab" stroke-width="1.3"/>
<circle cx="335.5" cy="780.1" r="2.0" fill="#a346ad" fill-opacity="0.7" stroke="#a346ad" stroke-width="1.3"/>
<circle cx="333.5" cy="781.2" r="2.0" fill="#8324c0" fill-opacity="0.7" stroke="#8324c0" stroke-width="1.3"/>
<circle cx="339.0" cy="786.1" r="2.0" fill="#8f30ba" fill-opacity="0.7" stroke="#8f30ba" stroke-width="1.3"/>
<circle cx="340.0" cy="779.5" r="2.0" fill="#a649ab" fill-opacity="0.7" stroke="#a649ab" stroke-width="1.3"/>
<circle cx="336.6" cy="776.5" r="2.0" fill="#a74aaa" fill-opacity="0.7" stroke="#a74aaa" stroke-width="1.3"/>
<circle cx="335.8" cy="784.4" r="2.0" fill="#8e30ba" fill-opacity="0.7" stroke="#8e30ba" stroke-width="1.3"/>
<circle cx="341.3" cy="784.2" r="2.0" fill="#9a3cb3" fill-opacity="0.7" stroke="#9a3cb3" stroke-width="1.3"/>
<circle cx="335.7" cy="782.9" r="2.0" fill="#a144ae" fill-opacity="0.7" stroke="#a144ae" stroke-width="1.3"/>
<circle cx="337.9" cy="786.8" r="2.0" fill="#aa4da8" fill-opacity="0.7" stroke="#aa4da8" stroke-width="1.3"/>
<circle cx="337.8" cy="783.3" r="2.0" fill="#9a3cb3" fill-opacity="0.7" stroke="#9a3cb3" stroke-width="1.3"/>
<circle cx="341.8" cy="780.9" r="2.0" fill="#8728be" fill-opacity="0.7" stroke="#8728be" stroke-width="1.3"/>
<circle cx="335.4" cy="785.6" r="2.0" fill="#b054a4" fill-opacity="0.7" stroke="#b054a4" stroke-width="1.3"/>
<circle cx="335.1" cy="783.7" r="2.0" fill="#8224c0" fill-opacity="0.7" stroke="#8224c0" stroke-width="1.3"/>
<circle cx="334.3" cy="781.1" r="2.0" fill="#9334b8" fill-opacity="0.7" stroke="#9334b8" stroke-width="1.3"/>
<circle cx="339.4" cy="784.1" r="2.0" fill="#8f31b9" fill-opacity="0.7" stroke="#8f31b9" stroke-width="1.3"/>
<circle cx="335.0" cy="779.3" r="2.0" fill="#af53a5" fill-opacity="0.7" stroke="#af53a5" stroke-width="1.3"/>
<circle cx="339.4" cy="778.7" r="2.0" fill="#a649ab" fill-opacity="0.7" stroke="#a649ab" stroke-width="1.3"/>
<circle cx="342.1" cy="782.8" r="2.0" fill="#9739b5" fill-opacity="0.7" stroke="#9739b5" stroke-width="1.3"/>
<circle cx="339.0" cy="782.6" r="2.0" fill="#9234b8" fill-opacity="0.7" stroke="#9234b8" stroke-width="1.3"/>
<circle cx="335.6" cy="777.3" r="2.0" fill="#ae52a6" fill-opacity="0.7" stroke="#ae52a6" stroke-width="1.3"/>
<circle cx="337.4" cy="786.9" r="2.0" fill="#9234b8" fill-opacity="0.7" stroke="#9234b8" stroke-width="1.3"/>
<circle cx="335.3" cy="784.3" r="2.0" fill="#a94ca9" fill-opacity="0.7" stroke="#a94ca9" stroke-width="1.3"/>
<circle cx="333.6" cy="779.9" r="2.0" fill="#a042b0" fill-opacity="0.7" stroke="#a042b0" stroke-width="1.3"/>
<circle cx="339.4" cy="781.1" r="2.0" fill="#9032b9" fill-opacity="0.7" stroke="#9032b9" stroke-width="1.3"/>
<circle cx="336.0" cy="785.0" r="2.0" fill="#af53a5" fill-opacity="0.7" stroke="#af53a5" stroke-width="1.3"/>
<circle cx="340.7" cy="779.2" r="2.0" fill="#8a2cbc" fill-opacity="0.7" stroke="#8a2cbc" stroke-width="1.3"/>
<circle cx="340.5" cy="783.2" r="2.0" fill="#a548ac" fill-opacity="0.7" stroke="#a548ac" stroke-width="1.3"/>
<circle cx="339.1" cy="782.5" r="2.0" fill="#9436b7" fill-opacity="0.7" stroke="#9436b7" stroke-width="1.3"/>
<circle cx="346.0" cy="781.6" r="2.0" fill="#fac342" fill-opacity="0.7" stroke="#fac342" stroke-width="1.3"/>
<circle cx="344.5" cy="783.1" r="2.0" fill="#f6ba4e" fill-opacity="0.7" stroke="#f6ba4e" stroke-width="1.3"/>
<circle cx="313.3" cy="802.4" r="2.0" fill="#6600cc" fill-opacity="0.7" stroke="#6600cc" stroke-width="1.3"/>
<circle cx="326.4" cy="802.4" r="2.0" fill="#a649ab" fill-opacity="0.7" stroke="#a649ab" stroke-width="1.3"/>
<circle cx="329.5" cy="802.1" r="2.0" fill="#dd9177" fill-opacity="0.7" stroke="#dd9177" stroke-width="1.3"/>
<circle cx="331.2" cy="802.0" r="2.0" fill="#d7887f" fill-opacity="0.7" stroke="#d7887f" stroke-width="1.3"/>
<circle cx="333.0" cy="802.3" r="2.0" fill="#da8b7c" fill-opacity="0.7" stroke="#da8b7c" stroke-width="1.3"/>
<circle cx="338.7" cy="799.3" r="2.0" fill="#fec938" fill-opacity="0.7" stroke="#fec938" stroke-width="1.3"/>
<circle cx="337.5" cy="804.8" r="2.0" fill="#fcc63e" fill-opacity="0.7" stroke="#fcc63e" stroke-width="1.3"/>
<circle cx="340.1" cy="800.0" r="2.0" fill="#f7bc4c" fill-opacity="0.7" stroke="#f7bc4c" stroke-width="1.3"/>
<circle cx="338.4" cy="797.9" r="2.0" fill="#f9c145" fill-opacity="0.7" stroke="#f9c145" stroke-width="1.3"/>
<circle cx="340.1" cy="800.3" r="2.0" fill="#f6bb4c" fill-opacity="0.7" stroke="#f6bb4c" stroke-width="1.3"/>
<circle cx="339.9" cy="799.7" r="2.0" fill="#fbc441" fill-opacity="0.7" stroke="#fbc441" stroke-width="1.3"/>
<circle cx="336.6" cy="801.3" r="2.0" fill="#f7bc4c" fill-opacity="0.7" stroke="#f7bc4c" stroke-width="1.3"/>
<circle cx="339.2" cy="802.1" r="2.0" fill="#eba664" fill-opacity="0.7" stroke="#eba664" stroke-width="1.3"/>
<circle cx="335.5" cy="803.8" r="2.0" fill="#eba862" fill-opacity="0.7" stroke="#eba862" stroke-width="1.3"/>
<circle cx="337.9" cy="798.0" r="2.0" fill="#f5b851" fill-opacity="0.7" stroke="#f5b851" stroke-width="1.3"/>
<circle cx="339.6" cy="798.2" r="2.0" fill="#fcc73c" fill-opacity="0.7" stroke="#fcc73c" stroke-width="1.3"/>
<circle cx="338.2" cy="798.6" r="2.0" fill="#fac244" fill-opacity="0.7" stroke="#fac244" stroke-width="1.3"/>
<circle cx="337.9" cy="798.1" r="2.0" fill="#fec938" fill-opacity="0.7" stroke="#fec938" stroke-width="1.3"/>
<circle cx="337.4" cy="802.1" r="2.0" fill="#e9a367" fill-opacity="0.7" stroke="#e9a367" stroke-width="1.3"/>
<circle cx="338.6" cy="797.5" r="2.0" fill="#fac243" fill-opacity="0.7" stroke="#fac243" stroke-width="1.3"/>
<circle cx="339.8" cy="803.0" r="2.0" fill="#eba664" fill-opacity="0.7" stroke="#eba664" stroke-width="1.3"/>
<circle cx="338.5" cy="799.4" r="2.0" fill="#fbc540" fill-opacity="0.7" stroke="#fbc540" stroke-width="1.3"/>
<circle cx="340.6" cy="799.7" r="2.0" fill="#fdc83a" fill-opacity="0.7" stroke="#fdc83a" stroke-width="1.3"/>
<circle cx="336.8" cy="806.7" r="2.0" fill="#f5b851" fill-opacity="0.7" stroke="#f5b851" stroke-width="1.3"/>
<circle cx="339.7" cy="798.1" r="2.0" fill="#f5b850" fill-opacity="0.7" stroke="#f5b850" stroke-width="1.3"/>
<circle cx="337.2" cy="799.3" r="2.0" fill="#f0af5b" fill-opacity="0.7" stroke="#f0af5b" stroke-width="1.3"/>
<circle cx="337.4" cy="798.3" r="2.0" fill="#e8a169" fill-opacity="0.7" stroke="#e8a169" stroke-width="1.3"/>
<circle cx="338.2" cy="798.7" r="2.0" fill="#ffcc34" fill-opacity="0.7" stroke="#ffcc34" stroke-width="1.3"/>
<circle cx="339.2" cy="802.6" r="2.0" fill="#fecb35" fill-opacity="0.7" stroke="#fecb35" stroke-width="1.3"/>
<circle cx="338.1" cy="805.2" r="2.0" fill="#f3b555" fill-opacity="0.7" stroke="#f3b555" stroke-width="1.3"/>
<circle cx="336.7" cy="802.4" r="2.0" fill="#f1b258" fill-opacity="0.7" stroke="#f1b258" stroke-width="1.3"/>
<circle cx="339.2" cy="798.6" r="2.0" fill="#eca961" fill-opacity="0.7" stroke="#eca961" stroke-width="1.3"/>
<circle cx="340.5" cy="801.2" r="2.0" fill="#eaa565" fill-opacity="0.7" stroke="#eaa565" stroke-width="1.3"/>
<circle cx="336.3" cy="799.8" r="2.0" fill="#f1b258" fill-opacity="0.7" stroke="#f1b258" stroke-width="1.3"/>
<circle cx="337.9" cy="798.3" r="2.0" fill="#fbc441" fill-opacity="0.7" stroke="#fbc441" stroke-width="1.3"/>
<circle cx="339.8" cy="803.2" r="2.0" fill="#e9a367" fill-opacity="0.7" stroke="#e9a367" stroke-width="1.3"/>
<circle cx="337.7" cy="804.4" r="2.0" fill="#ffcb34" fill-opacity="0.7" stroke="#ffcb34" stroke-width="1.3"/>
<circle cx="338.2" cy="802.5" r="2.0" fill="#e9a367" fill-opacity="0.7" stroke="#e9a367" stroke-width="1.3"/>
<circle cx="338.3" cy="808.2" r="2.0" fill="#f1b159" fill-opacity="0.7" stroke="#f1b159" stroke-width="1.3"/>
<circle cx="336.5" cy="805.7" r="2.0" fill="#fbc342" fill-opacity="0.7" stroke="#fbc342" stroke-width="1.3"/>
<circle cx="337.2" cy="801.4" r="2.0" fill="#f7bd4a" fill-opacity="0.7" stroke="#f7bd4a" stroke-width="1.3"/>
<circle cx="337.5" cy="798.7" r="2.0" fill="#eca862" fill-opacity="0.7" stroke="#eca862" stroke-width="1.3"/>
<circle cx="336.8" cy="801.9" r="2.0" fill="#f2b456" fill-opacity="0.7" stroke="#f2b456" stroke-width="1.3"/>
<circle cx="339.6" cy="798.7" r="2.0" fill="#fac244" fill-opacity="0.7" stroke="#fac244" stroke-width="1.3"/>
<circle cx="338.4" cy="803.3" r="2.0" fill="#eaa565" fill-opacity="0.7" stroke="#eaa565" stroke-width="1.3"/>
<circle cx="336.2" cy="803.2" r="2.0" fill="#f5b850" fill-opacity="0.7" stroke="#f5b850" stroke-width="1.3"/>
<circle cx="337.7" cy="806.7" r="2.0" fill="#f0af5b" fill-opacity="0.7" stroke="#f0af5b" stroke-width="1.3"/>
<circle cx="336.9" cy="806.9" r="2.0" fill="#f6ba4e" fill-opacity="0.7" stroke="#f6ba4e" stroke-width="1.3"/>
<circle cx="337.0" cy="800.2" r="2.0" fill="#e8a268" fill-opacity="0.7" stroke="#e8a268" stroke-width="1.3"/>
<circle cx="340.6" cy="801.7" r="2.0" fill="#f3b554" fill-opacity="0.7" stroke="#f3b554" stroke-width="1.3"/>
<circle cx="340.5" cy="805.3" r="2.0" fill="#f0b05a" fill-opacity="0.7" stroke="#f0b05a" stroke-width="1.3"/>
<circle cx="338.4" cy="797.9" r="2.0" fill="#fac144" fill-opacity="0.7" stroke="#fac144" stroke-width="1.3"/>
<circle cx="339.3" cy="803.3" r="2.0" fill="#eca961" fill-opacity="0.7" stroke="#eca961" stroke-width="1.3"/>
<circle cx="340.8" cy="803.0" r="2.0" fill="#fbc440" fill-opacity="0.7" stroke="#fbc440" stroke-width="1.3"/>
<circle cx="339.5" cy="799.8" r="2.0" fill="#fac244" fill-opacity="0.7" stroke="#fac244" stroke-width="1.3"/>
<circle cx="337.5" cy="802.7" r="2.0" fill="#efaf5b" fill-opacity="0.7" stroke="#efaf5b" stroke-width="1.3"/>
<circle cx="335.7" cy="804.5" r="2.0" fill="#f1b159" fill-opacity="0.7" stroke="#f1b159" stroke-width="1.3"/>
<circle cx="338.1" cy="804.4" r="2.0" fill="#eca961" fill-opacity="0.7" stroke="#eca961" stroke-width="1.3"/>
<circle cx="335.3" cy="802.2" r="2.0" fill="#efaf5b" fill-opacity="0.7" stroke="#efaf5b" stroke-width="1.3"/>
<circle cx="339.6" cy="803.9" r="2.0" fill="#fbc440" fill-opacity="0.7" stroke="#fbc440" stroke-width="1.3"/>
<circle cx="336.6" cy="801.7" r="2.0" fill="#e8a268" fill-opacity="0.7" stroke="#e8a268" stroke-width="1.3"/>
<circle cx="336.5" cy="801.5" r="2.0" fill="#e8a268" fill-opacity="0.7" stroke="#e8a268" stroke-width="1.3"/>
<circle cx="340.8" cy="800.0" r="2.0" fill="#eeac5e" fill-opacity="0.7" stroke="#eeac5e" stroke-width="1.3"/>
<circle cx="337.4" cy="804.2" r="2.0" fill="#edab5f" fill-opacity="0.7" stroke="#edab5f" stroke-width="1.3"/>
<circle cx="336.0" cy="799.9" r="2.0" fill="#fac343" fill-opacity="0.7" stroke="#fac343" stroke-width="1.3"/>
<circle cx="336.0" cy="801.5" r="2.0" fill="#f5ba4f" fill-opacity="0.7" stroke="#f5ba4f" stroke-width="1.3"/>
<circle cx="335.7" cy="803.1" r="2.0" fill="#e9a367" fill-opacity="0.7" stroke="#e9a367" stroke-width="1.3"/>
<circle cx="338.8" cy="800.8" r="2.0" fill="#efad5d" fill-opacity="0.7" stroke="#efad5d" stroke-width="1.3"/>
<circle cx="337.9" cy="798.7" r="2.0" fill="#f4b752" fill-opacity="0.7" stroke="#f4b752" stroke-width="1.3"/>
<circle cx="336.2" cy="801.2" r="2.0" fill="#e8a268" fill-opacity="0.7" stroke="#e8a268" stroke-width="1.3"/>
<circle cx="340.0" cy="805.7" r="2.0" fill="#f0b05a" fill-opacity="0.7" stroke="#f0b05a" stroke-width="1.3"/>
<circle cx="339.1" cy="804.6" r="2.0" fill="#e8a268" fill-opacity="0.7" stroke="#e8a268" stroke-width="1.3"/>
<circle cx="336.4" cy="805.0" r="2.0" fill="#f8bf48" fill-opacity="0.7" stroke="#f8bf48" stroke-width="1.3"/>
<circle cx="336.8" cy="805.6" r="2.0" fill="#f1b258" fill-opacity="0.7" stroke="#f1b258" stroke-width="1.3"/>
<circle cx="338.4" cy="819.5" r="2.0" fill="#fac244" fill-opacity="0.7" stroke="#fac244" stroke-width="1.3"/>
<circle cx="338.1" cy="826.0" r="2.0" fill="#f0af5b" fill-opacity="0.7" stroke="#f0af5b" stroke-width="1.3"/>
<circle cx="336.7" cy="825.2" r="2.0" fill="#fac343" fill-opacity="0.7" stroke="#fac343" stroke-width="1.3"/>
<circle cx="336.9" cy="820.6" r="2.0" fill="#dd9078" fill-opacity="0.7" stroke="#dd9078" stroke-width="1.3"/>
<circle cx="337.3" cy="823.4" r="2.0" fill="#eeac5e" fill-opacity="0.7" stroke="#eeac5e" stroke-width="1.3"/>
<circle cx="337.7" cy="822.9" r="2.0" fill="#f0b05a" fill-opacity="0.7" stroke="#f0b05a" stroke-width="1.3"/>
<circle cx="338.5" cy="825.5" r="2.0" fill="#f0b05a" fill-opacity="0.7" stroke="#f0b05a" stroke-width="1.3"/>
<circle cx="339.2" cy="825.6" r="2.0" fill="#edaa60" fill-opacity="0.7" stroke="#edaa60" stroke-width="1.3"/>
<circle cx="338.0" cy="819.2" r="2.0" fill="#d28085" fill-opacity="0.7" stroke="#d28085" stroke-width="1.3"/>
<circle cx="338.2" cy="817.6" r="2.0" fill="#f4b851" fill-opacity="0.7" stroke="#f4b851" stroke-width="1.3"/>
<circle cx="338.8" cy="821.9" r="2.0" fill="#dc8f79" fill-opacity="0.7" stroke="#dc8f79" stroke-width="1.3"/>
<circle cx="336.9" cy="826.3" r="2.0" fill="#d8897e" fill-opacity="0.7" stroke="#d8897e" stroke-width="1.3"/>
<circle cx="336.4" cy="824.0" r="2.0" fill="#f3b554" fill-opacity="0.7" stroke="#f3b554" stroke-width="1.3"/>
<circle cx="338.8" cy="826.6" r="2.0" fill="#d98a7d" fill-opacity="0.7" stroke="#d98a7d" stroke-width="1.3"/>
<circle cx="336.9" cy="818.8" r="2.0" fill="#df9375" fill-opacity="0.7" stroke="#df9375" stroke-width="1.3"/>
<circle cx="338.3" cy="818.7" r="2.0" fill="#f3b554" fill-opacity="0.7" stroke="#f3b554" stroke-width="1.3"/>
<circle cx="338.3" cy="818.4" r="2.0" fill="#e09573" fill-opacity="0.7" stroke="#e09573" stroke-width="1.3"/>
<circle cx="337.0" cy="820.5" r="2.0" fill="#e9a466" fill-opacity="0.7" stroke="#e9a466" stroke-width="1.3"/>
<circle cx="338.1" cy="826.0" r="2.0" fill="#f9c145" fill-opacity="0.7" stroke="#f9c145" stroke-width="1.3"/>
<circle cx="338.9" cy="820.1" r="2.0" fill="#efae5c" fill-opacity="0.7" stroke="#efae5c" stroke-width="1.3"/>
<circle cx="338.6" cy="825.4" r="2.0" fill="#e19772" fill-opacity="0.7" stroke="#e19772" stroke-width="1.3"/>
<circle cx="339.6" cy="820.3" r="2.0" fill="#eeac5e" fill-opacity="0.7" stroke="#eeac5e" stroke-width="1.3"/>
<circle cx="338.7" cy="820.4" r="2.0" fill="#f4b851" fill-opacity="0.7" stroke="#f4b851" stroke-width="1.3"/>
<circle cx="336.9" cy="826.1" r="2.0" fill="#d7877f" fill-opacity="0.7" stroke="#d7877f" stroke-width="1.3"/>
<circle cx="339.2" cy="821.2" r="2.0" fill="#eeac5e" fill-opacity="0.7" stroke="#eeac5e" stroke-width="1.3"/>
<circle cx="338.9" cy="818.2" r="2.0" fill="#e19772" fill-opacity="0.7" stroke="#e19772" stroke-width="1.3"/>
<circle cx="338.1" cy="818.7" r="2.0" fill="#d28085" fill-opacity="0.7" stroke="#d28085" stroke-width="1.3"/>
<circle cx="339.5" cy="822.8" r="2.0" fill="#f3b555" fill-opacity="0.7" stroke="#f3b555" stroke-width="1.3"/>
<circle cx="336.5" cy="823.2" r="2.0" fill="#e59d6c" fill-opacity="0.7" stroke="#e59d6c" stroke-width="1.3"/>
<circle cx="337.5" cy="825.7" r="2.0" fill="#e59d6d" fill-opacity="0.7" stroke="#e59d6d" stroke-width="1.3"/>
<circle cx="339.1" cy="819.0" r="2.0" fill="#f8be49" fill-opacity="0.7" stroke="#f8be49" stroke-width="1.3"/>
<circle cx="337.5" cy="823.0" r="2.0" fill="#f0b159" fill-opacity="0.7" stroke="#f0b159" stroke-width="1.3"/>
<circle cx="338.7" cy="820.0" r="2.0" fill="#eeac5e" fill-opacity="0.7" stroke="#eeac5e" stroke-width="1.3"/>
<circle cx="337.9" cy="825.8" r="2.0" fill="#da8b7c" fill-opacity="0.7" stroke="#da8b7c" stroke-width="1.3"/>
<circle cx="337.5" cy="822.5" r="2.0" fill="#d28085" fill-opacity="0.7" stroke="#d28085" stroke-width="1.3"/>
<circle cx="339.7" cy="824.3" r="2.0" fill="#f6bb4d" fill-opacity="0.7" stroke="#f6bb4d" stroke-width="1.3"/>
<circle cx="337.8" cy="824.9" r="2.0" fill="#efaf5b" fill-opacity="0.7" stroke="#efaf5b" stroke-width="1.3"/>
<circle cx="337.9" cy="824.7" r="2.0" fill="#efad5d" fill-opacity="0.7" stroke="#efad5d" stroke-width="1.3"/>
<circle cx="336.3" cy="825.5" r="2.0" fill="#da8b7c" fill-opacity="0.7" stroke="#da8b7c" stroke-width="1.3"/>
<circle cx="337.7" cy="818.1" r="2.0" fill="#eba664" fill-opacity="0.7" stroke="#eba664" stroke-width="1.3"/>
<circle cx="336.2" cy="821.2" r="2.0" fill="#da8c7c" fill-opacity="0.7" stroke="#da8c7c" stroke-width="1.3"/>
<circle cx="338.1" cy="827.3" r="2.0" fill="#f4b752" fill-opacity="0.7" stroke="#f4b752" stroke-width="1.3"/>
<circle cx="336.7" cy="825.9" r="2.0" fill="#e9a466" fill-opacity="0.7" stroke="#e9a466" stroke-width="1.3"/>
<circle cx="337.4" cy="818.8" r="2.0" fill="#f1b158" fill-opacity="0.7" stroke="#f1b158" stroke-width="1.3"/>
<circle cx="337.0" cy="825.8" r="2.0" fill="#d48383" fill-opacity="0.7" stroke="#d48383" stroke-width="1.3"/>
<circle cx="339.6" cy="822.9" r="2.0" fill="#d17e86" fill-opacity="0.7" stroke="#d17e86" stroke-width="1.3"/>
<circle cx="338.4" cy="820.6" r="2.0" fill="#e8a169" fill-opacity="0.7" stroke="#e8a169" stroke-width="1.3"/>
<circle cx="338.9" cy="825.8" r="2.0" fill="#f5ba4f" fill-opacity="0.7" stroke="#f5ba4f" stroke-width="1.3"/>
<circle cx="337.4" cy="820.2" r="2.0" fill="#f0b059" fill-opacity="0.7" stroke="#f0b059" stroke-width="1.3"/>
<circle cx="337.9" cy="829.3" r="2.0" fill="#f5b850" fill-opacity="0.7" stroke="#f5b850" stroke-width="1.3"/>
<circle cx="339.4" cy="821.4" r="2.0" fill="#f4b653" fill-opacity="0.7" stroke="#f4b653" stroke-width="1.3"/>
<circle cx="339.0" cy="821.4" r="2.0" fill="#f3b554" fill-opacity="0.7" stroke="#f3b554" stroke-width="1.3"/>
<circle cx="337.7" cy="827.1" r="2.0" fill="#d58581" fill-opacity="0.7" stroke="#d58581" stroke-width="1.3"/>
<circle cx="338.3" cy="817.2" r="2.0" fill="#da8c7b" fill-opacity="0.7" stroke="#da8c7b" stroke-width="1.3"/>
<circle cx="338.4" cy="827.9" r="2.0" fill="#d17e86" fill-opacity="0.7" stroke="#d17e86" stroke-width="1.3"/>
<circle cx="337.3" cy="827.2" r="2.0" fill="#d7887e" fill-opacity="0.7" stroke="#d7887e" stroke-width="1.3"/>
<circle cx="337.1" cy="821.7" r="2.0" fill="#eba862" fill-opacity="0.7" stroke="#eba862" stroke-width="1.3"/>
<circle cx="337.4" cy="821.7" r="2.0" fill="#f6bb4d" fill-opacity="0.7" stroke="#f6bb4d" stroke-width="1.3"/>
<circle cx="336.9" cy="827.5" r="2.0" fill="#eaa565" fill-opacity="0.7" stroke="#eaa565" stroke-width="1.3"/>
<circle cx="338.5" cy="827.7" r="2.0" fill="#db8c7b" fill-opacity="0.7" stroke="#db8c7b" stroke-width="1.3"/>
<circle cx="337.0" cy="827.7" r="2.0" fill="#d8897e" fill-opacity="0.7" stroke="#d8897e" stroke-width="1.3"/>
<circle cx="341.7" cy="823.2" r="2.0" fill="#7515c6" fill-opacity="0.7" stroke="#7515c6" stroke-width="1.3"/>
<rect x="129.6" y="478.8" width="416.8" height="356.2" fill="none" stroke="#333" stroke-width="1.4"/>
<line x1="163.0" y1="835.0" x2="163.0" y2="838.0" stroke="#333" stroke-width="1.1"/>
<text x="163.8" y="853" class="tk2" text-anchor="middle" textLength="20.2" lengthAdjust="spacingAndGlyphs">-1.0</text>
<line x1="250.5" y1="835.0" x2="250.5" y2="838.0" stroke="#333" stroke-width="1.1"/>
<text x="251.2" y="853" class="tk2" text-anchor="middle" textLength="19.8" lengthAdjust="spacingAndGlyphs">-0.5</text>
<line x1="338.0" y1="835.0" x2="338.0" y2="838.0" stroke="#333" stroke-width="1.1"/>
<text x="338.0" y="853" class="tk2" text-anchor="middle">0</text>
<line x1="425.5" y1="835.0" x2="425.5" y2="838.0" stroke="#333" stroke-width="1.1"/>
<text x="425.2" y="853" class="tk2" text-anchor="middle" textLength="15.2" lengthAdjust="spacingAndGlyphs">0.5</text>
<line x1="513.0" y1="835.0" x2="513.0" y2="838.0" stroke="#333" stroke-width="1.1"/>
<text x="511.3" y="853" class="tk2" text-anchor="middle" textLength="16.2" lengthAdjust="spacingAndGlyphs">1.0</text>
<text x="299.3" y="878.8" class="axt" textLength="82.3" lengthAdjust="spacingAndGlyphs">SHAP Value</text>
<text x="81.4" y="495.5" class="fl" textLength="41.7" lengthAdjust="spacingAndGlyphs">density</text>
<text x="133.4" y="495.9" class="vl" textLength="25.4" lengthAdjust="spacingAndGlyphs">0.172</text>
<text x="59.8" y="515.0" class="fl" textLength="63.3" lengthAdjust="spacingAndGlyphs">transitivity</text>
<text x="133.4" y="516.7" class="vl" textLength="25.4" lengthAdjust="spacingAndGlyphs">0.129</text>
<text x="47.4" y="535.3" class="fl" textLength="75.7" lengthAdjust="spacingAndGlyphs">varInDegCent</text>
<text x="133.4" y="537.4" class="vl" textLength="25.4" lengthAdjust="spacingAndGlyphs">0.122</text>
<text x="66.2" y="557.6" class="fl" textLength="56.9" lengthAdjust="spacingAndGlyphs">InDegCent</text>
<text x="133.4" y="558.2" class="vl" textLength="25.4" lengthAdjust="spacingAndGlyphs">0.104</text>
<text x="63.1" y="577.6" class="fl" textLength="60.0" lengthAdjust="spacingAndGlyphs">varOutDeg</text>
<text x="133.4" y="578.9" class="vl" textLength="25.4" lengthAdjust="spacingAndGlyphs">0.100</text>
<text x="37.0" y="599.2" class="fl" textLength="86.1" lengthAdjust="spacingAndGlyphs">varTransitivity</text>
<text x="133.4" y="599.7" class="vl" textLength="25.4" lengthAdjust="spacingAndGlyphs">0.068</text>
<text x="92.7" y="620.5" class="fl" textLength="30.4" lengthAdjust="spacingAndGlyphs">order</text>
<text x="133.4" y="620.5" class="vl" textLength="25.4" lengthAdjust="spacingAndGlyphs">0.053</text>
<text x="72.0" y="640.2" class="fl" textLength="51.1" lengthAdjust="spacingAndGlyphs">varInDeg</text>
<text x="133.4" y="641.2" class="vl" textLength="25.4" lengthAdjust="spacingAndGlyphs">0.052</text>
<text x="73.1" y="660.3" class="fl" textLength="50.0" lengthAdjust="spacingAndGlyphs">varOrder</text>
<text x="133.4" y="662.0" class="vl" textLength="25.4" lengthAdjust="spacingAndGlyphs">0.048</text>
<text x="38.1" y="680.0" class="fl" textLength="85.0" lengthAdjust="spacingAndGlyphs">varOutDegCent</text>
<text x="133.4" y="682.7" class="vl" textLength="25.4" lengthAdjust="spacingAndGlyphs">0.040</text>
<text x="51.6" y="701.5" class="fl" textLength="71.5" lengthAdjust="spacingAndGlyphs">varBetwCent</text>
<text x="133.4" y="703.5" class="vl" textLength="25.4" lengthAdjust="spacingAndGlyphs">0.037</text>
<text x="51.6" y="723.0" class="fl" textLength="71.5" lengthAdjust="spacingAndGlyphs">totalThreads</text>
<text x="133.4" y="724.3" class="vl" textLength="25.4" lengthAdjust="spacingAndGlyphs">0.016</text>
<text x="15.7" y="743.8" class="fl" textLength="107.4" lengthAdjust="spacingAndGlyphs">medOutInDegRatio</text>
<text x="133.4" y="745.0" class="vl" textLength="25.4" lengthAdjust="spacingAndGlyphs">0.015</text>
<text x="60.9" y="764.2" class="fl" textLength="62.2" lengthAdjust="spacingAndGlyphs">varDensity</text>
<text x="133.4" y="765.8" class="vl" textLength="25.4" lengthAdjust="spacingAndGlyphs">0.014</text>
<text x="57.1" y="783.9" class="fl" textLength="66.0" lengthAdjust="spacingAndGlyphs">OutDegCent</text>
<text x="133.4" y="786.5" class="vl" textLength="25.4" lengthAdjust="spacingAndGlyphs">0.009</text>
<text x="69.5" y="805.2" class="fl" textLength="53.6" lengthAdjust="spacingAndGlyphs">BetwCent</text>
<text x="133.4" y="807.3" class="vl" textLength="25.4" lengthAdjust="spacingAndGlyphs">0.009</text>
<text x="39.4" y="824.7" class="fl" textLength="83.7" lengthAdjust="spacingAndGlyphs">OutInDegRatio</text>
<text x="133.4" y="828.1" class="vl" textLength="25.4" lengthAdjust="spacingAndGlyphs">0.003</text>
<rect x="569.6" y="520.9" width="113.6" height="26" fill="none" stroke="#222" stroke-width="1"/>
<text x="625.8" y="538.6" class="lgt" text-anchor="middle">Feature&#160; Value</text>
<defs><linearGradient id="lg" x1="0" y1="0" x2="0" y2="1"><stop offset="0.00" stop-color="#6600cc"/><stop offset="0.10" stop-color="#8223c0"/><stop offset="0.20" stop-color="#9839b5"/><stop offset="0.30" stop-color="#aa4da9"/><stop offset="0.40" stop-color="#ba609c"/><stop offset="0.50" stop-color="#c8728f"/><stop offset="0.60" stop-color="#d58482"/><stop offset="0.70" stop-color="#e19673"/><stop offset="0.80" stop-color="#eba862"/><stop offset="0.90" stop-color="#f6ba4e"/><stop offset="1.00" stop-color="#ffcc33"/></linearGradient></defs>
<rect x="619.7" y="562.3" width="4.6" height="246" rx="1" fill="url(#lg)"/>
<text x="628.3" y="570.8" class="lgi" textLength="28" lengthAdjust="spacingAndGlyphs">High</text>
<text x="587.2" y="804.8" class="lgi" textLength="24.5" lengthAdjust="spacingAndGlyphs">Low</text>
</svg>
</body></html>
